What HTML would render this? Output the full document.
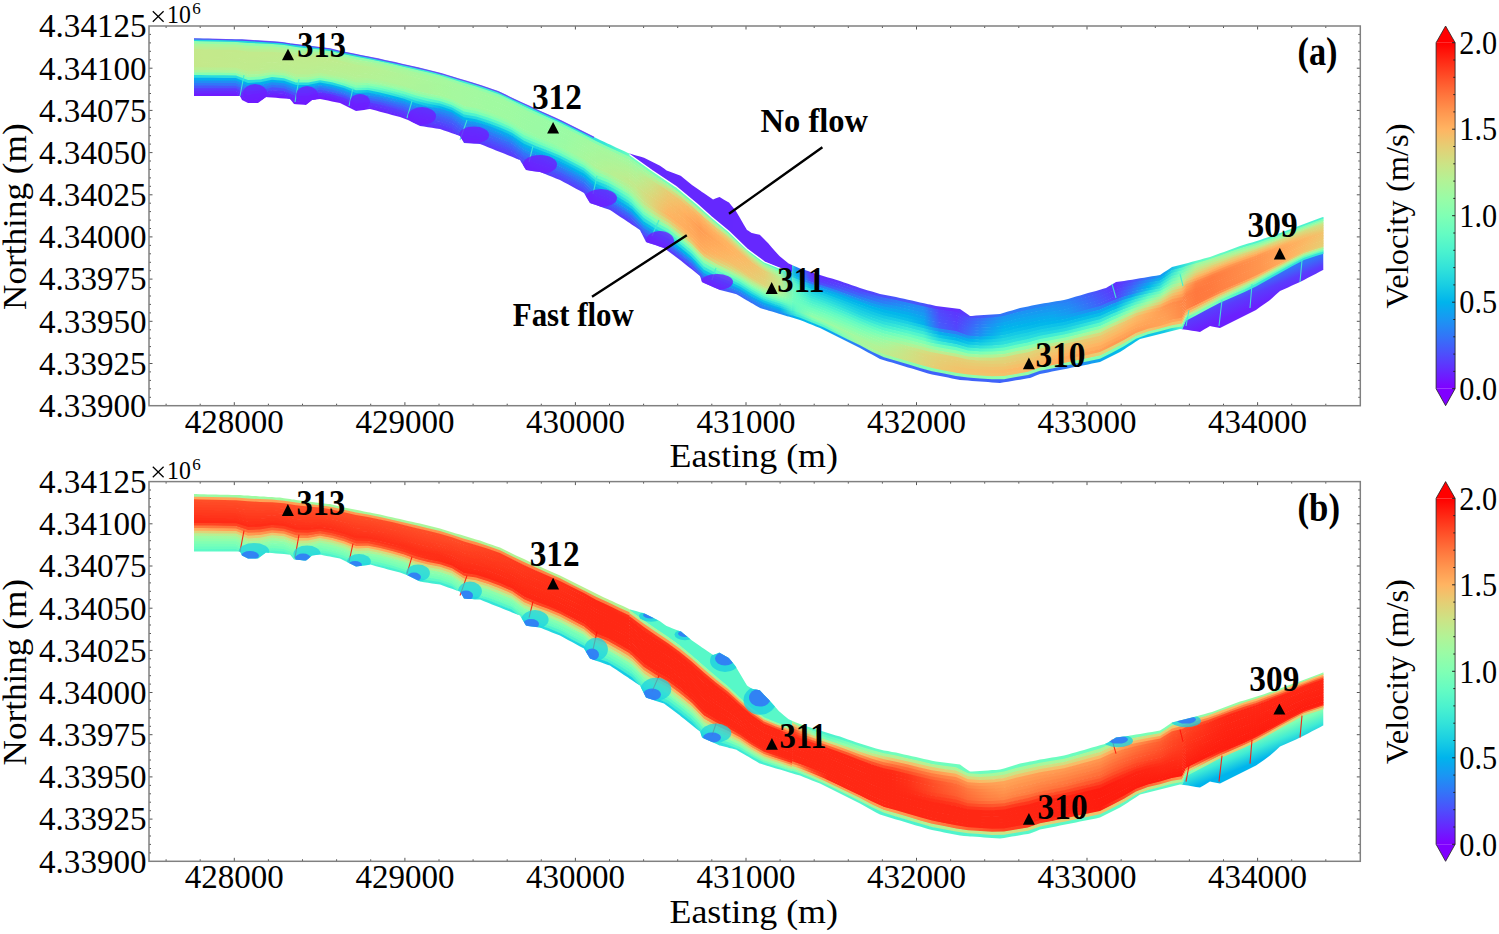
<!DOCTYPE html><html><head><meta charset="utf-8"><title>Velocity</title><style>
*{margin:0;padding:0}
html,body{width:1499px;height:934px;background:#fff;overflow:hidden}
svg{display:block}
text{font-family:"Liberation Serif",serif;fill:#000}
.tl{font-size:33px}
.ax{font-size:33px}
.cbl{font-size:32px}
.off{font-size:24.5px}
.sup{font-size:17px}
.pl{font-size:39px;font-weight:bold}
.st{font-size:35px;font-weight:bold}
.an{font-size:34px;font-weight:bold}
</style></head><body><svg width="1499" height="934" viewBox="0 0 1499 934"><defs><clipPath id="ca"><path d="M194,38.5 196,38.5 200,38.6 204,38.7 208,38.8 212,38.9 216,39 220,39.1 224,39.2 228,39.2 232,39.3 236,39.4 240,39.5 242,39.6 244,39.8 248,40 252,40.2 256,40.5 258,40.6 260,40.8 264,41 266,41.1 268,41.2 272,41.5 276,41.8 280,42 284,42.6 288,43.2 290,43.5 292,43.8 294,44 296,44.2 300,44.8 304,45.2 306,45.5 308,45.8 312,46.2 316,46.8 320,47.2 324,47.8 328,48.2 330,48.5 332,49 336,50 340,51 344,51.8 348,52.6 352,53.4 356,54.2 360,55 364,55.8 368,56.6 370,57 372,57.4 376,58.2 380,59 384,59.9 388,60.8 392,61.7 396,62.6 400,63.5 404,64.4 408,65.3 412,66.2 416,67.1 420,68 424,69 428,70 432,71 436,72 440,73 444,74.2 448,75.4 452,76.6 456,77.8 460,79 464,80.2 468,81.4 472,82.6 476,83.8 480,85 484,86.4 488,87.8 492,89.2 496,90.6 500,92 504,94 508,96 510,97 512,97.9 516,99.8 520,101.7 524,103.5 526,104.5 528,105.4 532,107.3 536,109.1 540,111 544,112.8 548,114.6 552,116.4 556,118.2 560,120 564,122 568,124 572,126 576,128 580,130 584,132 588,134 590,135 592,136 596,138 600,140 604,141.8 608,143.7 610,144.6 612,145.5 616,147.4 620,149.2 624,151 628,152.9 629.6,153.6 632,154.3 636,155.4 640,156.6 644,157.7 646,158.7 648,159.7 652,161.7 656,163.7 660,165.7 664,168.6 666.6,170.5 668,171 672,172.6 676,174.1 680,175.6 681,176 684,178.5 688,181.7 692,185 696,187.7 700,190.5 702,191.9 704,193.2 708,196 712,198.7 713,199.4 716,198.3 719.5,197 720,197.3 724,199.7 728,202 729,202.6 732,206.2 735.6,210.6 736,211.3 740,218.1 744,224.9 747,230 748,230.6 751.7,233 752,233.1 756,233.9 759.7,234.7 760,235 764,239.1 767.7,242.8 768,243.1 772,247.7 776,252.2 779,255.6 780,256.4 784,259.8 788,263.1 788.6,263.6 792,265.1 796,266.8 800,268.5 804,269.8 808,271.1 812,272.4 816,273.7 820,275 824,276.2 828,277.4 832,278.6 836,279.8 840,281 844,282.4 848,283.8 852,285.2 856,286.6 860,288 864,289.2 868,290.4 872,291.6 876,292.8 880,294 884,294.8 888,295.5 892,296.2 896,297 900,297.9 904,298.8 908,299.7 912,300.6 916,301.5 920,302.4 924,303.3 928,304.2 930,304.6 932,305.1 936,306 940,306.5 944,307 948,307.5 952,308 956,308.5 960,309 964,311.8 968,314.6 970,316 972,315.9 976,315.6 980,315.3 984,315.1 988,314.8 992,314.5 996,314.3 1000,314 1004,312.8 1008,311.6 1012,310.4 1016,309.2 1020,308 1024,307.2 1028,306.4 1030,306 1032,305.6 1036,304.8 1040,304 1044,303.3 1048,302.7 1052,302 1056,301.3 1060,300.7 1064,300 1068,298.9 1072,297.7 1076,296.6 1080,295.4 1084,294.3 1088,293.1 1092,292 1096,290.9 1100,289.7 1104,288.6 1106,288 1108,286.8 1112,284.4 1116,282 1120,281.4 1124,280.9 1128,280.3 1130,280 1132,279.7 1136,279 1140,278.3 1144,277.7 1148,277 1152,276.3 1156,275.7 1160,275 1164,272.3 1168,269.7 1172,267 1176,266 1180,265 1184,264 1188,262.9 1192,261.8 1196,260.8 1200,259.7 1204,258.6 1208,257.5 1210,257 1212,256.3 1216,254.8 1220,253.3 1224,251.9 1228,250.4 1232,248.9 1236,247.5 1240,246 1244,244.8 1248,243.6 1252,242.4 1256,241.2 1260,240 1264,238.6 1268,237.2 1270,236.5 1272,235.8 1276,234.4 1280,233 1284,231.5 1288,230 1292,228.5 1296,227 1300,225.6 1304,224.1 1308,222.6 1312,221.1 1316,219.6 1320,218.1 1323,217 1323.5,217 1323.5,270 1323,270 1320,271.6 1316,273.7 1312,275.7 1308,277.8 1304,279.9 1300,282 1296,283.8 1292,285.6 1288,287.4 1284,289.2 1280,291 1276,294.6 1272,298.2 1270,300 1268,301.4 1264,304.3 1260,307.1 1256,310 1252,312 1248,314 1244,316 1240,318 1236,320 1232,322 1228,324 1224,326 1220,328 1216,327.2 1212,326.4 1210,326 1208,327.2 1204,329.6 1200,332 1196,331.3 1192,330.7 1188,330 1184,329.5 1180,329 1176,330 1172,331 1168,332 1164,333 1160,334 1156,335 1152,336 1148,337 1144,338 1140,339 1136,341.6 1132,344.2 1130,345.5 1128,346.8 1124,349.4 1120,352 1116,354 1112,356 1108,358 1106,359 1104,360 1100,362 1096,362.8 1092,363.6 1088,364.4 1084,365.2 1080,366 1076,366.8 1072,367.6 1068,368.4 1064,369.2 1060,370 1056,370.8 1052,371.6 1048,372.4 1044,373.2 1040,374 1036,375.6 1032,377.2 1030,378 1028,378.3 1024,379 1020,379.7 1016,380.3 1012,381 1008,381.7 1004,382.3 1000,383 996,382.7 992,382.4 988,382.1 984,381.8 980,381.5 976,381.2 972,380.9 970,380.8 968,380.6 964,380.3 960,380 956,379.2 952,378.4 948,377.6 944,376.8 940,376 936,375.2 932,374.4 930,374 928,373.4 924,372.2 920,371 916,369.8 912,368.6 908,367.4 904,366.2 900,365 896,363.8 892,362.6 888,361.4 884,360.2 880,359 876,356.8 872,354.6 868,352.4 864,350.2 860,348 856,346 852,344 848,342 844,340 840,338 836,336 832,334 828,332 824,330 820,328 816,326.4 812,324.8 808,323.2 804,321.6 800,320 796,318.8 792,317.6 788.6,316.6 788,316.4 784,315.2 780,314 779,313.7 776,312.8 772,311.6 768,310.4 767.7,310.3 764,309.2 760,308 759.7,307.8 756,305.7 752,303.3 751.7,303.2 748,301 747,300.4 744,298.7 740,296.3 736,294 735.6,293.9 732,293 729,292.2 728,292 724,291 720,290 719.5,289.8 716,288.2 713,286.9 712,286.4 708,284.7 704,282.9 702,282 700,276 696,272.8 692,269.6 688,266.4 684,263.2 681,260.8 680,260 676,257 672,254 668,251 666.6,250 664,248 660,246.7 656,245.3 652,244 648,242.7 646,242 644,238 640,230 636,227.3 632,224.7 629.6,223.1 628,222 624,219.3 620,216.7 616,214 612,211.3 610,210 608,209.3 604,207.9 600,206.5 596,205.1 592,203.7 590,203 588,199.7 584,193 580,190.8 576,188.7 572,186.5 568,184.3 564,182.2 560,180 556,178.4 552,176.8 548,175.2 544,173.6 540,172 536,171.4 532,170.9 528,170.3 526,170 524,166.7 520,160 516,158.4 512,156.8 510,156 508,155.2 504,153.6 500,152 496,150.4 492,148.8 488,147.2 484,145.6 480,144 476,143.8 472,143.5 468,143.2 464,143 460,136 456,134.6 452,133.2 448,131.8 444,130.4 440,129 436,128.4 432,127.8 428,127.2 424,126.6 420,126 416,124 412,122 408,120 404,118.5 400,117 396,115.9 392,114.9 388,113.8 384,112.7 380,111.7 376,110.6 372,109.5 370,109 368,109.3 364,109.9 360,110.4 356,111 352,109 348,107 344,105 340,103 336,102.2 332,101.4 330,101 328,100.6 324,99.8 320,99 316,99.5 312,100 308,103.3 306,105 304,104.8 300,104.5 296,104.2 294,104 292,101.5 290,99 288,98.8 284,98.5 280,98.2 276,97.8 272,97.5 268,97.2 266,97 264,98.5 260,101.5 258,103 256,103 252,103 248,103 244,101 242,100 240,96 236,96 232,96 228,96 224,96 220,96 216,96 212,96 208,96 204,96 200,96 196,96 194,96Z"/></clipPath><linearGradient id="dzsa" gradientUnits="userSpaceOnUse" x1="1246" y1="286" x2="1254.5" y2="307"><stop offset="0" stop-color="#3374f8"/><stop offset="0.45" stop-color="#593cfd"/><stop offset="1" stop-color="#6b20fe"/></linearGradient><linearGradient id="a0" gradientUnits="userSpaceOnUse" x1="194" x2="1323.5" y1="0" y2="0"><stop offset="0.000" stop-color="#21d5e0"/><stop offset="0.108" stop-color="#21d5e0"/><stop offset="0.122" stop-color="#22d6e0"/><stop offset="0.136" stop-color="#26dade"/><stop offset="0.151" stop-color="#2bdddd"/><stop offset="0.165" stop-color="#30e1db"/><stop offset="0.179" stop-color="#34e4d9"/><stop offset="0.193" stop-color="#39e7d7"/><stop offset="0.207" stop-color="#3eead5"/><stop offset="0.221" stop-color="#42edd3"/><stop offset="0.236" stop-color="#42edd3"/><stop offset="0.250" stop-color="#3febd4"/><stop offset="0.264" stop-color="#3ce9d6"/><stop offset="0.278" stop-color="#39e7d7"/><stop offset="0.292" stop-color="#36e5d8"/><stop offset="0.306" stop-color="#33e3da"/><stop offset="0.320" stop-color="#30e1db"/><stop offset="0.335" stop-color="#2fe0db"/><stop offset="0.349" stop-color="#2fe0db"/><stop offset="0.363" stop-color="#36e6d8"/><stop offset="0.377" stop-color="#54f6cb"/><stop offset="0.387" stop-color="#6afdc0"/><stop offset="0.391" stop-color="#72febc"/><stop offset="0.405" stop-color="#78ffb9"/><stop offset="0.420" stop-color="#76ffba"/><stop offset="0.434" stop-color="#75feba"/><stop offset="0.448" stop-color="#73febb"/><stop offset="0.462" stop-color="#71febc"/><stop offset="0.476" stop-color="#6efebe"/><stop offset="0.490" stop-color="#6bfdbf"/><stop offset="0.505" stop-color="#65fbc3"/><stop offset="0.519" stop-color="#51f4cc"/><stop offset="0.528" stop-color="#44eed2"/><stop offset="0.533" stop-color="#218cf4"/><stop offset="0.547" stop-color="#642bfe"/><stop offset="0.561" stop-color="#6130fe"/><stop offset="0.575" stop-color="#5b39fd"/><stop offset="0.590" stop-color="#5542fd"/><stop offset="0.604" stop-color="#504afc"/><stop offset="0.618" stop-color="#4a52fc"/><stop offset="0.632" stop-color="#455afb"/><stop offset="0.646" stop-color="#4757fb"/><stop offset="0.660" stop-color="#5f33fe"/><stop offset="0.675" stop-color="#622ffe"/><stop offset="0.689" stop-color="#504afc"/><stop offset="0.703" stop-color="#3e63fa"/><stop offset="0.717" stop-color="#3077f7"/><stop offset="0.731" stop-color="#2d7df7"/><stop offset="0.745" stop-color="#2982f6"/><stop offset="0.760" stop-color="#2587f5"/><stop offset="0.774" stop-color="#2c7df7"/><stop offset="0.788" stop-color="#3d65fa"/><stop offset="0.802" stop-color="#4f4bfc"/><stop offset="0.816" stop-color="#6031fe"/><stop offset="0.830" stop-color="#4e4dfc"/><stop offset="0.845" stop-color="#2f7af7"/><stop offset="0.859" stop-color="#10a2f0"/><stop offset="0.873" stop-color="#27dade"/><stop offset="0.887" stop-color="#5ffac5"/><stop offset="0.901" stop-color="#67fcc1"/><stop offset="0.915" stop-color="#5efac6"/><stop offset="0.930" stop-color="#55f6ca"/><stop offset="0.944" stop-color="#4cf2cf"/><stop offset="1.000" stop-color="#4cf2cf"/></linearGradient><linearGradient id="a1" gradientUnits="userSpaceOnUse" x1="194" x2="1323.5" y1="0" y2="0"><stop offset="0.000" stop-color="#91feab"/><stop offset="0.108" stop-color="#91feab"/><stop offset="0.122" stop-color="#91feaa"/><stop offset="0.136" stop-color="#92fdaa"/><stop offset="0.151" stop-color="#92fdaa"/><stop offset="0.165" stop-color="#93fda9"/><stop offset="0.179" stop-color="#94fda9"/><stop offset="0.193" stop-color="#95fda8"/><stop offset="0.207" stop-color="#96fda8"/><stop offset="0.221" stop-color="#96fca7"/><stop offset="0.236" stop-color="#94fda8"/><stop offset="0.250" stop-color="#91feaa"/><stop offset="0.264" stop-color="#8dfead"/><stop offset="0.278" stop-color="#8affaf"/><stop offset="0.292" stop-color="#86ffb1"/><stop offset="0.306" stop-color="#82ffb3"/><stop offset="0.320" stop-color="#7fffb5"/><stop offset="0.335" stop-color="#80ffb4"/><stop offset="0.349" stop-color="#82ffb3"/><stop offset="0.363" stop-color="#86ffb1"/><stop offset="0.377" stop-color="#8ffeab"/><stop offset="0.391" stop-color="#98fca6"/><stop offset="0.405" stop-color="#a3f9a0"/><stop offset="0.420" stop-color="#adf599"/><stop offset="0.434" stop-color="#b5f194"/><stop offset="0.448" stop-color="#bded8f"/><stop offset="0.462" stop-color="#b6f194"/><stop offset="0.476" stop-color="#aff498"/><stop offset="0.490" stop-color="#a9f79c"/><stop offset="0.505" stop-color="#9bfba4"/><stop offset="0.519" stop-color="#7bffb7"/><stop offset="0.533" stop-color="#11a0f0"/><stop offset="0.547" stop-color="#6130fe"/><stop offset="0.561" stop-color="#5c38fd"/><stop offset="0.575" stop-color="#5345fd"/><stop offset="0.590" stop-color="#4a52fc"/><stop offset="0.604" stop-color="#3e65fa"/><stop offset="0.618" stop-color="#3078f7"/><stop offset="0.632" stop-color="#228af5"/><stop offset="0.646" stop-color="#2489f5"/><stop offset="0.660" stop-color="#5247fc"/><stop offset="0.675" stop-color="#5c37fe"/><stop offset="0.689" stop-color="#445cfb"/><stop offset="0.703" stop-color="#2b7ff6"/><stop offset="0.717" stop-color="#1997f2"/><stop offset="0.731" stop-color="#1a95f3"/><stop offset="0.745" stop-color="#1b93f3"/><stop offset="0.760" stop-color="#1d92f3"/><stop offset="0.774" stop-color="#2785f6"/><stop offset="0.788" stop-color="#396bf9"/><stop offset="0.802" stop-color="#4b51fc"/><stop offset="0.816" stop-color="#5d35fe"/><stop offset="0.830" stop-color="#4559fb"/><stop offset="0.845" stop-color="#1f8ef4"/><stop offset="0.859" stop-color="#07bce9"/><stop offset="0.873" stop-color="#51f4cc"/><stop offset="0.887" stop-color="#9dfba3"/><stop offset="0.901" stop-color="#a6f89e"/><stop offset="0.915" stop-color="#98fca6"/><stop offset="0.930" stop-color="#8bfeae"/><stop offset="0.944" stop-color="#7effb5"/><stop offset="1.000" stop-color="#7effb5"/></linearGradient><linearGradient id="a2" gradientUnits="userSpaceOnUse" x1="194" x2="1323.5" y1="0" y2="0"><stop offset="0.000" stop-color="#aef499"/><stop offset="0.009" stop-color="#aef599"/><stop offset="0.066" stop-color="#aef599"/><stop offset="0.080" stop-color="#adf599"/><stop offset="0.122" stop-color="#adf599"/><stop offset="0.136" stop-color="#acf69a"/><stop offset="0.151" stop-color="#abf69b"/><stop offset="0.165" stop-color="#aaf69b"/><stop offset="0.179" stop-color="#a9f79c"/><stop offset="0.193" stop-color="#a8f79c"/><stop offset="0.207" stop-color="#a7f79d"/><stop offset="0.221" stop-color="#a6f89e"/><stop offset="0.236" stop-color="#a5f89f"/><stop offset="0.250" stop-color="#a3f9a0"/><stop offset="0.264" stop-color="#a1faa1"/><stop offset="0.278" stop-color="#9ffaa2"/><stop offset="0.292" stop-color="#9dfba3"/><stop offset="0.306" stop-color="#9bfba4"/><stop offset="0.320" stop-color="#99fca5"/><stop offset="0.335" stop-color="#9dfba3"/><stop offset="0.349" stop-color="#a2f9a0"/><stop offset="0.363" stop-color="#a6f89e"/><stop offset="0.377" stop-color="#a5f89f"/><stop offset="0.391" stop-color="#a3f99f"/><stop offset="0.405" stop-color="#b6f193"/><stop offset="0.420" stop-color="#cfe183"/><stop offset="0.434" stop-color="#e3d075"/><stop offset="0.448" stop-color="#f7bd67"/><stop offset="0.462" stop-color="#e9cb71"/><stop offset="0.476" stop-color="#dcd77a"/><stop offset="0.490" stop-color="#cee184"/><stop offset="0.505" stop-color="#bcee90"/><stop offset="0.519" stop-color="#99fca6"/><stop offset="0.533" stop-color="#04afed"/><stop offset="0.547" stop-color="#5d35fe"/><stop offset="0.561" stop-color="#5640fd"/><stop offset="0.575" stop-color="#4a53fb"/><stop offset="0.590" stop-color="#3d65fa"/><stop offset="0.604" stop-color="#3176f8"/><stop offset="0.618" stop-color="#2586f5"/><stop offset="0.632" stop-color="#1a96f3"/><stop offset="0.646" stop-color="#1d91f3"/><stop offset="0.660" stop-color="#4f4cfc"/><stop offset="0.675" stop-color="#5a3afd"/><stop offset="0.689" stop-color="#3f62fa"/><stop offset="0.703" stop-color="#2587f5"/><stop offset="0.717" stop-color="#11a0f0"/><stop offset="0.731" stop-color="#139ef1"/><stop offset="0.745" stop-color="#159bf1"/><stop offset="0.760" stop-color="#1799f2"/><stop offset="0.774" stop-color="#218cf4"/><stop offset="0.788" stop-color="#3472f8"/><stop offset="0.802" stop-color="#4856fb"/><stop offset="0.816" stop-color="#5b39fd"/><stop offset="0.830" stop-color="#3d65fa"/><stop offset="0.845" stop-color="#10a2f0"/><stop offset="0.859" stop-color="#1ed2e2"/><stop offset="0.873" stop-color="#66fcc2"/><stop offset="0.887" stop-color="#b1f397"/><stop offset="0.901" stop-color="#bced90"/><stop offset="0.915" stop-color="#b2f396"/><stop offset="0.930" stop-color="#a9f79c"/><stop offset="0.944" stop-color="#9ffaa2"/><stop offset="0.972" stop-color="#9ffaa2"/><stop offset="0.986" stop-color="#9efaa2"/><stop offset="1.000" stop-color="#9efba3"/></linearGradient><linearGradient id="a3" gradientUnits="userSpaceOnUse" x1="194" x2="1323.5" y1="0" y2="0"><stop offset="0.000" stop-color="#baef91"/><stop offset="0.009" stop-color="#baef91"/><stop offset="0.023" stop-color="#b9ef92"/><stop offset="0.037" stop-color="#b9ef92"/><stop offset="0.051" stop-color="#b8ef92"/><stop offset="0.066" stop-color="#b8f092"/><stop offset="0.080" stop-color="#b8f093"/><stop offset="0.094" stop-color="#b7f093"/><stop offset="0.108" stop-color="#b7f093"/><stop offset="0.122" stop-color="#b6f193"/><stop offset="0.136" stop-color="#b4f295"/><stop offset="0.151" stop-color="#b2f396"/><stop offset="0.165" stop-color="#b0f498"/><stop offset="0.179" stop-color="#adf599"/><stop offset="0.193" stop-color="#abf69b"/><stop offset="0.207" stop-color="#a9f79c"/><stop offset="0.221" stop-color="#a7f89d"/><stop offset="0.236" stop-color="#a5f89f"/><stop offset="0.250" stop-color="#a3f9a0"/><stop offset="0.264" stop-color="#a1faa1"/><stop offset="0.278" stop-color="#9ffaa2"/><stop offset="0.292" stop-color="#9dfba3"/><stop offset="0.306" stop-color="#9bfba4"/><stop offset="0.320" stop-color="#99fca5"/><stop offset="0.335" stop-color="#9dfba3"/><stop offset="0.349" stop-color="#a3f99f"/><stop offset="0.363" stop-color="#a8f79c"/><stop offset="0.377" stop-color="#a9f79c"/><stop offset="0.391" stop-color="#abf69b"/><stop offset="0.405" stop-color="#c7e688"/><stop offset="0.420" stop-color="#e9cb72"/><stop offset="0.434" stop-color="#f6be68"/><stop offset="0.448" stop-color="#ffaf5e"/><stop offset="0.462" stop-color="#f9bb66"/><stop offset="0.476" stop-color="#efc66d"/><stop offset="0.490" stop-color="#e4cf75"/><stop offset="0.505" stop-color="#d2df81"/><stop offset="0.519" stop-color="#a9f79c"/><stop offset="0.533" stop-color="#02b6eb"/><stop offset="0.547" stop-color="#5542fd"/><stop offset="0.561" stop-color="#4954fb"/><stop offset="0.575" stop-color="#3a6af9"/><stop offset="0.590" stop-color="#2a80f6"/><stop offset="0.604" stop-color="#208df4"/><stop offset="0.618" stop-color="#1898f2"/><stop offset="0.632" stop-color="#10a2f0"/><stop offset="0.646" stop-color="#1799f2"/><stop offset="0.660" stop-color="#4b50fc"/><stop offset="0.675" stop-color="#583efd"/><stop offset="0.689" stop-color="#3b68f9"/><stop offset="0.703" stop-color="#1f8ff4"/><stop offset="0.717" stop-color="#0aa9ef"/><stop offset="0.731" stop-color="#0ca6ef"/><stop offset="0.745" stop-color="#0fa3f0"/><stop offset="0.760" stop-color="#11a1f0"/><stop offset="0.774" stop-color="#1c93f3"/><stop offset="0.788" stop-color="#3078f7"/><stop offset="0.802" stop-color="#445cfb"/><stop offset="0.816" stop-color="#583efd"/><stop offset="0.830" stop-color="#3571f8"/><stop offset="0.845" stop-color="#00b4ec"/><stop offset="0.859" stop-color="#34e4d9"/><stop offset="0.873" stop-color="#7bffb7"/><stop offset="0.887" stop-color="#c3e98b"/><stop offset="0.901" stop-color="#d1e082"/><stop offset="0.915" stop-color="#cbe486"/><stop offset="0.930" stop-color="#c6e789"/><stop offset="0.944" stop-color="#c0eb8d"/><stop offset="0.958" stop-color="#c0eb8d"/><stop offset="0.972" stop-color="#bfec8e"/><stop offset="0.986" stop-color="#beec8e"/><stop offset="1.000" stop-color="#bded8f"/></linearGradient><linearGradient id="a4" gradientUnits="userSpaceOnUse" x1="194" x2="1323.5" y1="0" y2="0"><stop offset="0.000" stop-color="#c4e88a"/><stop offset="0.009" stop-color="#c4e98b"/><stop offset="0.023" stop-color="#c3e98b"/><stop offset="0.037" stop-color="#c3e98b"/><stop offset="0.051" stop-color="#c2ea8c"/><stop offset="0.066" stop-color="#c2ea8c"/><stop offset="0.080" stop-color="#c1eb8d"/><stop offset="0.094" stop-color="#c0eb8d"/><stop offset="0.108" stop-color="#c0eb8d"/><stop offset="0.122" stop-color="#bfec8e"/><stop offset="0.136" stop-color="#bbee90"/><stop offset="0.151" stop-color="#b8f092"/><stop offset="0.165" stop-color="#b5f295"/><stop offset="0.179" stop-color="#b1f397"/><stop offset="0.193" stop-color="#aef599"/><stop offset="0.207" stop-color="#aaf69b"/><stop offset="0.221" stop-color="#a7f79d"/><stop offset="0.236" stop-color="#a5f89f"/><stop offset="0.250" stop-color="#a3f9a0"/><stop offset="0.264" stop-color="#a1faa1"/><stop offset="0.278" stop-color="#9ffaa2"/><stop offset="0.292" stop-color="#9dfba3"/><stop offset="0.306" stop-color="#9bfba4"/><stop offset="0.320" stop-color="#99fca5"/><stop offset="0.335" stop-color="#9efba3"/><stop offset="0.349" stop-color="#a5f89f"/><stop offset="0.363" stop-color="#aaf69b"/><stop offset="0.377" stop-color="#aef499"/><stop offset="0.391" stop-color="#b2f396"/><stop offset="0.405" stop-color="#cde284"/><stop offset="0.420" stop-color="#ecc86f"/><stop offset="0.434" stop-color="#fab965"/><stop offset="0.448" stop-color="#ffa95b"/><stop offset="0.462" stop-color="#ffb05f"/><stop offset="0.476" stop-color="#fdb763"/><stop offset="0.490" stop-color="#f7bd68"/><stop offset="0.505" stop-color="#e6ce73"/><stop offset="0.519" stop-color="#b7f093"/><stop offset="0.533" stop-color="#0cc1e8"/><stop offset="0.547" stop-color="#396bf9"/><stop offset="0.561" stop-color="#2488f5"/><stop offset="0.575" stop-color="#1d92f3"/><stop offset="0.590" stop-color="#159bf1"/><stop offset="0.604" stop-color="#10a2f0"/><stop offset="0.618" stop-color="#0ba8ef"/><stop offset="0.632" stop-color="#06aded"/><stop offset="0.646" stop-color="#10a1f0"/><stop offset="0.660" stop-color="#4855fb"/><stop offset="0.675" stop-color="#5542fd"/><stop offset="0.689" stop-color="#376ef9"/><stop offset="0.703" stop-color="#1997f2"/><stop offset="0.717" stop-color="#03b1ed"/><stop offset="0.731" stop-color="#06aeed"/><stop offset="0.745" stop-color="#08abee"/><stop offset="0.760" stop-color="#0ba8ef"/><stop offset="0.774" stop-color="#179af2"/><stop offset="0.788" stop-color="#2b7ef6"/><stop offset="0.802" stop-color="#4061fa"/><stop offset="0.816" stop-color="#5542fd"/><stop offset="0.830" stop-color="#2d7cf7"/><stop offset="0.845" stop-color="#0fc4e7"/><stop offset="0.859" stop-color="#4bf2cf"/><stop offset="0.873" stop-color="#90feab"/><stop offset="0.887" stop-color="#d5dd7f"/><stop offset="0.901" stop-color="#e5cf74"/><stop offset="0.915" stop-color="#e4d075"/><stop offset="0.930" stop-color="#e3d176"/><stop offset="0.944" stop-color="#e2d277"/><stop offset="0.958" stop-color="#ddd67a"/><stop offset="0.972" stop-color="#d8da7d"/><stop offset="0.986" stop-color="#d4dd80"/><stop offset="1.000" stop-color="#d0e183"/></linearGradient><linearGradient id="a5" gradientUnits="userSpaceOnUse" x1="194" x2="1323.5" y1="0" y2="0"><stop offset="0.000" stop-color="#c4e88a"/><stop offset="0.009" stop-color="#c4e98b"/><stop offset="0.023" stop-color="#c3e98b"/><stop offset="0.037" stop-color="#c2ea8c"/><stop offset="0.051" stop-color="#c2ea8c"/><stop offset="0.066" stop-color="#c1eb8d"/><stop offset="0.080" stop-color="#c0eb8d"/><stop offset="0.094" stop-color="#bfec8e"/><stop offset="0.108" stop-color="#bfec8e"/><stop offset="0.122" stop-color="#beed8f"/><stop offset="0.136" stop-color="#baee91"/><stop offset="0.151" stop-color="#b7f093"/><stop offset="0.165" stop-color="#b4f295"/><stop offset="0.179" stop-color="#b1f397"/><stop offset="0.193" stop-color="#adf599"/><stop offset="0.207" stop-color="#aaf69b"/><stop offset="0.221" stop-color="#a7f89d"/><stop offset="0.236" stop-color="#a5f89f"/><stop offset="0.250" stop-color="#a3f9a0"/><stop offset="0.264" stop-color="#a1faa1"/><stop offset="0.278" stop-color="#9ffaa2"/><stop offset="0.292" stop-color="#9dfba3"/><stop offset="0.306" stop-color="#9bfba4"/><stop offset="0.320" stop-color="#99fca5"/><stop offset="0.335" stop-color="#9efaa2"/><stop offset="0.349" stop-color="#a6f89e"/><stop offset="0.363" stop-color="#acf59a"/><stop offset="0.377" stop-color="#b1f397"/><stop offset="0.391" stop-color="#b6f193"/><stop offset="0.405" stop-color="#d1df82"/><stop offset="0.420" stop-color="#f0c56d"/><stop offset="0.434" stop-color="#ffb562"/><stop offset="0.448" stop-color="#ffa357"/><stop offset="0.462" stop-color="#ffad5d"/><stop offset="0.476" stop-color="#feb562"/><stop offset="0.490" stop-color="#f6be68"/><stop offset="0.505" stop-color="#e6ce73"/><stop offset="0.519" stop-color="#bfec8e"/><stop offset="0.533" stop-color="#33e3d9"/><stop offset="0.547" stop-color="#129ff1"/><stop offset="0.561" stop-color="#0ba7ef"/><stop offset="0.575" stop-color="#06aded"/><stop offset="0.590" stop-color="#01b3ec"/><stop offset="0.604" stop-color="#01b5eb"/><stop offset="0.618" stop-color="#02b7eb"/><stop offset="0.632" stop-color="#04b8ea"/><stop offset="0.646" stop-color="#0aa9ee"/><stop offset="0.660" stop-color="#455afb"/><stop offset="0.675" stop-color="#5345fd"/><stop offset="0.689" stop-color="#3374f8"/><stop offset="0.703" stop-color="#139ef1"/><stop offset="0.717" stop-color="#04b9ea"/><stop offset="0.731" stop-color="#01b5eb"/><stop offset="0.745" stop-color="#02b2ec"/><stop offset="0.760" stop-color="#05afed"/><stop offset="0.774" stop-color="#0da5ef"/><stop offset="0.788" stop-color="#1b94f3"/><stop offset="0.802" stop-color="#2882f6"/><stop offset="0.816" stop-color="#3670f8"/><stop offset="0.830" stop-color="#0fa3f0"/><stop offset="0.845" stop-color="#2adcdd"/><stop offset="0.859" stop-color="#62fbc4"/><stop offset="0.873" stop-color="#a4f89f"/><stop offset="0.887" stop-color="#e7cd73"/><stop offset="0.901" stop-color="#f7bd68"/><stop offset="0.915" stop-color="#f6be68"/><stop offset="0.930" stop-color="#f5bf69"/><stop offset="0.944" stop-color="#f4c069"/><stop offset="0.958" stop-color="#edc86f"/><stop offset="0.972" stop-color="#e5cf74"/><stop offset="0.986" stop-color="#ddd679"/><stop offset="1.000" stop-color="#d6db7e"/></linearGradient><linearGradient id="a6" gradientUnits="userSpaceOnUse" x1="194" x2="1323.5" y1="0" y2="0"><stop offset="0.000" stop-color="#c4e88a"/><stop offset="0.009" stop-color="#c4e98b"/><stop offset="0.023" stop-color="#c3e98b"/><stop offset="0.037" stop-color="#c2ea8c"/><stop offset="0.051" stop-color="#c1ea8c"/><stop offset="0.066" stop-color="#c0eb8d"/><stop offset="0.080" stop-color="#bfec8e"/><stop offset="0.094" stop-color="#beec8e"/><stop offset="0.108" stop-color="#beed8f"/><stop offset="0.122" stop-color="#bced90"/><stop offset="0.136" stop-color="#b9ef91"/><stop offset="0.151" stop-color="#b6f193"/><stop offset="0.165" stop-color="#b3f295"/><stop offset="0.179" stop-color="#b0f497"/><stop offset="0.193" stop-color="#adf599"/><stop offset="0.207" stop-color="#aaf69b"/><stop offset="0.221" stop-color="#a7f89d"/><stop offset="0.236" stop-color="#a5f89f"/><stop offset="0.250" stop-color="#a3f9a0"/><stop offset="0.264" stop-color="#a1faa1"/><stop offset="0.278" stop-color="#9ffaa2"/><stop offset="0.292" stop-color="#9dfba3"/><stop offset="0.306" stop-color="#9bfba4"/><stop offset="0.320" stop-color="#99fca5"/><stop offset="0.335" stop-color="#9ffaa2"/><stop offset="0.349" stop-color="#a7f89d"/><stop offset="0.363" stop-color="#aef498"/><stop offset="0.377" stop-color="#b5f295"/><stop offset="0.391" stop-color="#bbee91"/><stop offset="0.405" stop-color="#d5dc7f"/><stop offset="0.420" stop-color="#f3c16a"/><stop offset="0.434" stop-color="#ffb05f"/><stop offset="0.448" stop-color="#ff9d53"/><stop offset="0.462" stop-color="#ffa95a"/><stop offset="0.476" stop-color="#ffb461"/><stop offset="0.490" stop-color="#f6bf68"/><stop offset="0.505" stop-color="#e6ce73"/><stop offset="0.519" stop-color="#c6e889"/><stop offset="0.533" stop-color="#46efd1"/><stop offset="0.547" stop-color="#02b6eb"/><stop offset="0.561" stop-color="#05baea"/><stop offset="0.575" stop-color="#07bbea"/><stop offset="0.590" stop-color="#08bde9"/><stop offset="0.604" stop-color="#09bee9"/><stop offset="0.618" stop-color="#0abfe8"/><stop offset="0.632" stop-color="#0bc0e8"/><stop offset="0.646" stop-color="#04b0ed"/><stop offset="0.660" stop-color="#425efa"/><stop offset="0.675" stop-color="#5049fc"/><stop offset="0.689" stop-color="#2f7af7"/><stop offset="0.703" stop-color="#0da5ef"/><stop offset="0.717" stop-color="#0bc0e8"/><stop offset="0.731" stop-color="#08bde9"/><stop offset="0.745" stop-color="#04b9ea"/><stop offset="0.760" stop-color="#01b6eb"/><stop offset="0.774" stop-color="#03b1ec"/><stop offset="0.788" stop-color="#07acee"/><stop offset="0.802" stop-color="#0ca7ef"/><stop offset="0.816" stop-color="#10a1f0"/><stop offset="0.830" stop-color="#17cce4"/><stop offset="0.845" stop-color="#4cf2cf"/><stop offset="0.859" stop-color="#82ffb3"/><stop offset="0.873" stop-color="#beed8f"/><stop offset="0.887" stop-color="#faba65"/><stop offset="0.901" stop-color="#ffaa5b"/><stop offset="0.915" stop-color="#ffab5c"/><stop offset="0.930" stop-color="#ffad5d"/><stop offset="0.944" stop-color="#ffae5d"/><stop offset="0.958" stop-color="#fbb965"/><stop offset="0.972" stop-color="#f0c46c"/><stop offset="0.986" stop-color="#e6cd73"/><stop offset="1.000" stop-color="#ddd67a"/></linearGradient><linearGradient id="a7" gradientUnits="userSpaceOnUse" x1="194" x2="1323.5" y1="0" y2="0"><stop offset="0.000" stop-color="#c4e88a"/><stop offset="0.009" stop-color="#c4e98b"/><stop offset="0.023" stop-color="#c3e98b"/><stop offset="0.037" stop-color="#c2ea8c"/><stop offset="0.051" stop-color="#c1eb8d"/><stop offset="0.066" stop-color="#c0eb8d"/><stop offset="0.080" stop-color="#bfec8e"/><stop offset="0.094" stop-color="#beed8f"/><stop offset="0.108" stop-color="#bded8f"/><stop offset="0.122" stop-color="#bbee90"/><stop offset="0.136" stop-color="#b8f092"/><stop offset="0.151" stop-color="#b5f194"/><stop offset="0.165" stop-color="#b3f396"/><stop offset="0.179" stop-color="#b0f498"/><stop offset="0.193" stop-color="#adf59a"/><stop offset="0.207" stop-color="#aaf69b"/><stop offset="0.221" stop-color="#a7f89d"/><stop offset="0.236" stop-color="#a5f89f"/><stop offset="0.250" stop-color="#a3f9a0"/><stop offset="0.264" stop-color="#a1faa1"/><stop offset="0.278" stop-color="#9ffaa2"/><stop offset="0.292" stop-color="#9dfba3"/><stop offset="0.306" stop-color="#9bfba4"/><stop offset="0.320" stop-color="#99fca5"/><stop offset="0.335" stop-color="#9ffaa2"/><stop offset="0.349" stop-color="#a8f79c"/><stop offset="0.363" stop-color="#b0f497"/><stop offset="0.377" stop-color="#b8f093"/><stop offset="0.391" stop-color="#bfec8e"/><stop offset="0.405" stop-color="#d9d97c"/><stop offset="0.420" stop-color="#f6be68"/><stop offset="0.434" stop-color="#ffaf5e"/><stop offset="0.448" stop-color="#ff9f54"/><stop offset="0.462" stop-color="#ffab5b"/><stop offset="0.476" stop-color="#feb663"/><stop offset="0.490" stop-color="#f4c06a"/><stop offset="0.505" stop-color="#e4cf75"/><stop offset="0.519" stop-color="#c4e88a"/><stop offset="0.533" stop-color="#53f6cb"/><stop offset="0.547" stop-color="#16cbe5"/><stop offset="0.561" stop-color="#15cae5"/><stop offset="0.575" stop-color="#13c9e5"/><stop offset="0.590" stop-color="#12c7e6"/><stop offset="0.604" stop-color="#14c9e5"/><stop offset="0.618" stop-color="#18cde4"/><stop offset="0.632" stop-color="#1bd0e3"/><stop offset="0.646" stop-color="#12c7e6"/><stop offset="0.660" stop-color="#208df4"/><stop offset="0.675" stop-color="#2d7df7"/><stop offset="0.689" stop-color="#149df1"/><stop offset="0.703" stop-color="#05b9ea"/><stop offset="0.717" stop-color="#16cbe4"/><stop offset="0.731" stop-color="#13c8e6"/><stop offset="0.745" stop-color="#10c5e7"/><stop offset="0.760" stop-color="#0cc1e8"/><stop offset="0.774" stop-color="#0abfe9"/><stop offset="0.788" stop-color="#08bde9"/><stop offset="0.802" stop-color="#07bce9"/><stop offset="0.816" stop-color="#06bbea"/><stop offset="0.830" stop-color="#30e1db"/><stop offset="0.845" stop-color="#68fcc1"/><stop offset="0.859" stop-color="#a0faa1"/><stop offset="0.873" stop-color="#d7db7e"/><stop offset="0.887" stop-color="#ffa457"/><stop offset="0.901" stop-color="#ff944e"/><stop offset="0.915" stop-color="#ff964f"/><stop offset="0.930" stop-color="#ff9850"/><stop offset="0.944" stop-color="#ff9a51"/><stop offset="0.958" stop-color="#ffa95b"/><stop offset="0.972" stop-color="#fcb864"/><stop offset="0.986" stop-color="#efc56d"/><stop offset="1.000" stop-color="#e4d075"/></linearGradient><linearGradient id="a8" gradientUnits="userSpaceOnUse" x1="194" x2="1323.5" y1="0" y2="0"><stop offset="0.000" stop-color="#c4e88a"/><stop offset="0.009" stop-color="#c4e98b"/><stop offset="0.023" stop-color="#c2ea8c"/><stop offset="0.037" stop-color="#c1ea8c"/><stop offset="0.051" stop-color="#c0eb8d"/><stop offset="0.066" stop-color="#bfec8e"/><stop offset="0.080" stop-color="#beec8f"/><stop offset="0.094" stop-color="#bded8f"/><stop offset="0.108" stop-color="#bcee90"/><stop offset="0.122" stop-color="#baef91"/><stop offset="0.136" stop-color="#b7f093"/><stop offset="0.151" stop-color="#b5f195"/><stop offset="0.165" stop-color="#b2f396"/><stop offset="0.179" stop-color="#aff498"/><stop offset="0.193" stop-color="#acf59a"/><stop offset="0.207" stop-color="#aaf69c"/><stop offset="0.221" stop-color="#a7f89d"/><stop offset="0.236" stop-color="#a5f89f"/><stop offset="0.250" stop-color="#a3f9a0"/><stop offset="0.264" stop-color="#a1faa1"/><stop offset="0.278" stop-color="#9ffaa2"/><stop offset="0.292" stop-color="#9dfba3"/><stop offset="0.306" stop-color="#9bfba4"/><stop offset="0.320" stop-color="#99fca5"/><stop offset="0.335" stop-color="#a0faa1"/><stop offset="0.349" stop-color="#a9f79c"/><stop offset="0.363" stop-color="#b2f396"/><stop offset="0.377" stop-color="#bbee91"/><stop offset="0.391" stop-color="#c3e98b"/><stop offset="0.405" stop-color="#ddd67a"/><stop offset="0.420" stop-color="#f9bb66"/><stop offset="0.434" stop-color="#ffaf5e"/><stop offset="0.448" stop-color="#ffa256"/><stop offset="0.462" stop-color="#ffad5d"/><stop offset="0.476" stop-color="#fbb864"/><stop offset="0.490" stop-color="#f2c36b"/><stop offset="0.505" stop-color="#e2d176"/><stop offset="0.519" stop-color="#c2ea8c"/><stop offset="0.533" stop-color="#59f8c8"/><stop offset="0.547" stop-color="#22d6e0"/><stop offset="0.561" stop-color="#21d5e0"/><stop offset="0.575" stop-color="#1ed2e2"/><stop offset="0.590" stop-color="#1bd0e3"/><stop offset="0.604" stop-color="#1fd3e1"/><stop offset="0.618" stop-color="#26d9df"/><stop offset="0.632" stop-color="#2cdedc"/><stop offset="0.646" stop-color="#27dade"/><stop offset="0.660" stop-color="#05afed"/><stop offset="0.675" stop-color="#11a1f0"/><stop offset="0.689" stop-color="#02b6eb"/><stop offset="0.703" stop-color="#15cae5"/><stop offset="0.717" stop-color="#22d6e0"/><stop offset="0.731" stop-color="#1fd3e1"/><stop offset="0.745" stop-color="#1bd0e3"/><stop offset="0.760" stop-color="#18cde4"/><stop offset="0.774" stop-color="#17cce4"/><stop offset="0.788" stop-color="#1acee3"/><stop offset="0.802" stop-color="#1cd1e2"/><stop offset="0.816" stop-color="#1ed3e1"/><stop offset="0.830" stop-color="#4bf2cf"/><stop offset="0.845" stop-color="#85ffb1"/><stop offset="0.859" stop-color="#bfec8e"/><stop offset="0.873" stop-color="#f0c46c"/><stop offset="0.887" stop-color="#ff8b49"/><stop offset="0.901" stop-color="#ff8143"/><stop offset="0.915" stop-color="#ff8847"/><stop offset="0.930" stop-color="#ff8f4b"/><stop offset="0.944" stop-color="#ff964f"/><stop offset="0.958" stop-color="#ffa457"/><stop offset="0.972" stop-color="#ffb260"/><stop offset="0.986" stop-color="#f5bf69"/><stop offset="1.000" stop-color="#eaca70"/></linearGradient><linearGradient id="a9" gradientUnits="userSpaceOnUse" x1="194" x2="1323.5" y1="0" y2="0"><stop offset="0.000" stop-color="#c4e88a"/><stop offset="0.009" stop-color="#c4e98b"/><stop offset="0.023" stop-color="#c2ea8c"/><stop offset="0.037" stop-color="#c1eb8d"/><stop offset="0.051" stop-color="#c0eb8d"/><stop offset="0.066" stop-color="#beec8e"/><stop offset="0.080" stop-color="#bded8f"/><stop offset="0.094" stop-color="#bcee90"/><stop offset="0.108" stop-color="#baee91"/><stop offset="0.122" stop-color="#b9ef92"/><stop offset="0.136" stop-color="#b4f295"/><stop offset="0.151" stop-color="#aff498"/><stop offset="0.165" stop-color="#aaf69b"/><stop offset="0.179" stop-color="#a5f89e"/><stop offset="0.193" stop-color="#a0faa1"/><stop offset="0.207" stop-color="#9bfba4"/><stop offset="0.221" stop-color="#96fda7"/><stop offset="0.236" stop-color="#95fda8"/><stop offset="0.250" stop-color="#95fda8"/><stop offset="0.264" stop-color="#96fda7"/><stop offset="0.278" stop-color="#97fca7"/><stop offset="0.292" stop-color="#97fca7"/><stop offset="0.306" stop-color="#98fca6"/><stop offset="0.320" stop-color="#99fca6"/><stop offset="0.335" stop-color="#a0faa1"/><stop offset="0.349" stop-color="#aaf69b"/><stop offset="0.363" stop-color="#b4f295"/><stop offset="0.377" stop-color="#baef91"/><stop offset="0.391" stop-color="#c1eb8d"/><stop offset="0.405" stop-color="#ddd67a"/><stop offset="0.420" stop-color="#fcb864"/><stop offset="0.434" stop-color="#ffae5e"/><stop offset="0.448" stop-color="#ffa458"/><stop offset="0.462" stop-color="#ffb05f"/><stop offset="0.476" stop-color="#f9bb66"/><stop offset="0.490" stop-color="#f0c56d"/><stop offset="0.505" stop-color="#e0d377"/><stop offset="0.519" stop-color="#c0eb8d"/><stop offset="0.533" stop-color="#5efac6"/><stop offset="0.547" stop-color="#2ddfdc"/><stop offset="0.561" stop-color="#2cdedc"/><stop offset="0.575" stop-color="#28dbde"/><stop offset="0.590" stop-color="#24d7df"/><stop offset="0.604" stop-color="#2adddd"/><stop offset="0.618" stop-color="#34e4d9"/><stop offset="0.632" stop-color="#3eebd5"/><stop offset="0.646" stop-color="#3be9d6"/><stop offset="0.660" stop-color="#10c5e7"/><stop offset="0.675" stop-color="#02b7eb"/><stop offset="0.689" stop-color="#12c8e6"/><stop offset="0.703" stop-color="#22d6e0"/><stop offset="0.717" stop-color="#2edfdc"/><stop offset="0.731" stop-color="#2adddd"/><stop offset="0.745" stop-color="#27dade"/><stop offset="0.760" stop-color="#23d7e0"/><stop offset="0.774" stop-color="#26dade"/><stop offset="0.788" stop-color="#30e1db"/><stop offset="0.802" stop-color="#3ae8d7"/><stop offset="0.816" stop-color="#43eed3"/><stop offset="0.830" stop-color="#6efdbe"/><stop offset="0.845" stop-color="#a3f99f"/><stop offset="0.859" stop-color="#d9d97d"/><stop offset="0.873" stop-color="#ffb260"/><stop offset="0.887" stop-color="#ff8143"/><stop offset="0.901" stop-color="#ff7b3f"/><stop offset="0.915" stop-color="#ff8445"/><stop offset="0.930" stop-color="#ff8d4a"/><stop offset="0.944" stop-color="#ff964f"/><stop offset="0.958" stop-color="#ffa256"/><stop offset="0.972" stop-color="#ffae5e"/><stop offset="0.986" stop-color="#fab965"/><stop offset="1.000" stop-color="#f1c36c"/></linearGradient><linearGradient id="a10" gradientUnits="userSpaceOnUse" x1="194" x2="1323.5" y1="0" y2="0"><stop offset="0.000" stop-color="#c4e88a"/><stop offset="0.009" stop-color="#c3e98b"/><stop offset="0.023" stop-color="#c2ea8c"/><stop offset="0.037" stop-color="#c1eb8d"/><stop offset="0.051" stop-color="#bfec8e"/><stop offset="0.066" stop-color="#beec8f"/><stop offset="0.080" stop-color="#bced90"/><stop offset="0.094" stop-color="#bbee91"/><stop offset="0.108" stop-color="#b9ef91"/><stop offset="0.122" stop-color="#b7f093"/><stop offset="0.136" stop-color="#aef498"/><stop offset="0.151" stop-color="#a6f89e"/><stop offset="0.165" stop-color="#9dfba3"/><stop offset="0.179" stop-color="#95fda8"/><stop offset="0.193" stop-color="#8cfead"/><stop offset="0.207" stop-color="#83ffb2"/><stop offset="0.221" stop-color="#7bffb7"/><stop offset="0.236" stop-color="#79ffb8"/><stop offset="0.250" stop-color="#7dffb6"/><stop offset="0.264" stop-color="#80ffb4"/><stop offset="0.278" stop-color="#84ffb2"/><stop offset="0.292" stop-color="#87ffb0"/><stop offset="0.306" stop-color="#8afeae"/><stop offset="0.320" stop-color="#8efeac"/><stop offset="0.335" stop-color="#95fda8"/><stop offset="0.349" stop-color="#9efba3"/><stop offset="0.363" stop-color="#a7f79d"/><stop offset="0.377" stop-color="#b0f397"/><stop offset="0.391" stop-color="#baef91"/><stop offset="0.405" stop-color="#dcd77b"/><stop offset="0.420" stop-color="#feb562"/><stop offset="0.434" stop-color="#ffae5e"/><stop offset="0.448" stop-color="#ffa759"/><stop offset="0.462" stop-color="#ffb260"/><stop offset="0.476" stop-color="#f7bd67"/><stop offset="0.490" stop-color="#eec76e"/><stop offset="0.505" stop-color="#ded579"/><stop offset="0.519" stop-color="#beec8f"/><stop offset="0.533" stop-color="#63fbc4"/><stop offset="0.547" stop-color="#37e6d8"/><stop offset="0.561" stop-color="#38e7d7"/><stop offset="0.575" stop-color="#36e5d8"/><stop offset="0.590" stop-color="#33e3da"/><stop offset="0.604" stop-color="#3be9d6"/><stop offset="0.618" stop-color="#47f0d1"/><stop offset="0.632" stop-color="#53f6cb"/><stop offset="0.646" stop-color="#51f5cc"/><stop offset="0.660" stop-color="#25d9df"/><stop offset="0.675" stop-color="#18cde4"/><stop offset="0.689" stop-color="#29dcdd"/><stop offset="0.703" stop-color="#3be8d6"/><stop offset="0.717" stop-color="#47f0d1"/><stop offset="0.731" stop-color="#45eed2"/><stop offset="0.745" stop-color="#42edd3"/><stop offset="0.760" stop-color="#40ecd4"/><stop offset="0.774" stop-color="#45eed2"/><stop offset="0.788" stop-color="#51f5cc"/><stop offset="0.802" stop-color="#5df9c6"/><stop offset="0.816" stop-color="#69fdc0"/><stop offset="0.830" stop-color="#90feab"/><stop offset="0.845" stop-color="#c0eb8d"/><stop offset="0.859" stop-color="#f0c46c"/><stop offset="0.873" stop-color="#ffa356"/><stop offset="0.887" stop-color="#ff7e41"/><stop offset="0.901" stop-color="#ff7b3f"/><stop offset="0.915" stop-color="#ff8445"/><stop offset="0.930" stop-color="#ff8d4a"/><stop offset="0.944" stop-color="#ff964f"/><stop offset="0.958" stop-color="#ffa256"/><stop offset="0.972" stop-color="#ffae5e"/><stop offset="0.986" stop-color="#fab965"/><stop offset="1.000" stop-color="#f1c36c"/></linearGradient><linearGradient id="a11" gradientUnits="userSpaceOnUse" x1="194" x2="1323.5" y1="0" y2="0"><stop offset="0.000" stop-color="#bcee90"/><stop offset="0.009" stop-color="#bbee91"/><stop offset="0.023" stop-color="#b9ef92"/><stop offset="0.037" stop-color="#b8f093"/><stop offset="0.051" stop-color="#b6f194"/><stop offset="0.066" stop-color="#b5f194"/><stop offset="0.080" stop-color="#b3f295"/><stop offset="0.094" stop-color="#b2f396"/><stop offset="0.108" stop-color="#b0f497"/><stop offset="0.122" stop-color="#adf599"/><stop offset="0.136" stop-color="#9ffaa2"/><stop offset="0.151" stop-color="#91feaa"/><stop offset="0.165" stop-color="#83ffb3"/><stop offset="0.179" stop-color="#74feba"/><stop offset="0.193" stop-color="#66fcc2"/><stop offset="0.207" stop-color="#58f8c9"/><stop offset="0.221" stop-color="#4af1cf"/><stop offset="0.236" stop-color="#4af1d0"/><stop offset="0.250" stop-color="#52f5cc"/><stop offset="0.264" stop-color="#5af8c8"/><stop offset="0.278" stop-color="#62fbc4"/><stop offset="0.292" stop-color="#6bfdbf"/><stop offset="0.306" stop-color="#73febb"/><stop offset="0.320" stop-color="#7bffb7"/><stop offset="0.335" stop-color="#82ffb3"/><stop offset="0.349" stop-color="#89ffaf"/><stop offset="0.363" stop-color="#91fdaa"/><stop offset="0.377" stop-color="#a2f9a0"/><stop offset="0.391" stop-color="#b2f396"/><stop offset="0.405" stop-color="#d4de80"/><stop offset="0.420" stop-color="#f5bf69"/><stop offset="0.434" stop-color="#ffb562"/><stop offset="0.448" stop-color="#ffaa5b"/><stop offset="0.462" stop-color="#fbb864"/><stop offset="0.476" stop-color="#eec66d"/><stop offset="0.490" stop-color="#e2d276"/><stop offset="0.505" stop-color="#d1df82"/><stop offset="0.519" stop-color="#b7f093"/><stop offset="0.533" stop-color="#67fcc1"/><stop offset="0.547" stop-color="#42edd3"/><stop offset="0.561" stop-color="#45efd1"/><stop offset="0.575" stop-color="#45efd2"/><stop offset="0.590" stop-color="#45efd2"/><stop offset="0.604" stop-color="#4ff4cd"/><stop offset="0.618" stop-color="#5cf9c7"/><stop offset="0.632" stop-color="#69fdc0"/><stop offset="0.646" stop-color="#69fdc0"/><stop offset="0.660" stop-color="#44eed2"/><stop offset="0.675" stop-color="#3ae8d7"/><stop offset="0.689" stop-color="#4bf2cf"/><stop offset="0.703" stop-color="#5df9c6"/><stop offset="0.717" stop-color="#6afdc0"/><stop offset="0.731" stop-color="#69fdc0"/><stop offset="0.745" stop-color="#69fcc1"/><stop offset="0.760" stop-color="#68fcc1"/><stop offset="0.774" stop-color="#6dfdbe"/><stop offset="0.788" stop-color="#7affb7"/><stop offset="0.802" stop-color="#87ffb0"/><stop offset="0.816" stop-color="#94fda9"/><stop offset="0.830" stop-color="#b6f194"/><stop offset="0.845" stop-color="#dfd478"/><stop offset="0.859" stop-color="#ffaa5b"/><stop offset="0.873" stop-color="#ff924d"/><stop offset="0.887" stop-color="#ff7a3f"/><stop offset="0.901" stop-color="#ff7b3f"/><stop offset="0.915" stop-color="#ff8445"/><stop offset="0.930" stop-color="#ff8d4a"/><stop offset="0.944" stop-color="#ff964f"/><stop offset="0.958" stop-color="#ffa357"/><stop offset="0.972" stop-color="#ffaf5e"/><stop offset="0.986" stop-color="#f9bb66"/><stop offset="1.000" stop-color="#efc56d"/></linearGradient><linearGradient id="a12" gradientUnits="userSpaceOnUse" x1="194" x2="1323.5" y1="0" y2="0"><stop offset="0.000" stop-color="#aaf69b"/><stop offset="0.009" stop-color="#a9f79c"/><stop offset="0.023" stop-color="#a8f79d"/><stop offset="0.037" stop-color="#a6f89e"/><stop offset="0.051" stop-color="#a5f89e"/><stop offset="0.066" stop-color="#a3f99f"/><stop offset="0.080" stop-color="#a2f9a0"/><stop offset="0.094" stop-color="#a0faa1"/><stop offset="0.108" stop-color="#9ffaa2"/><stop offset="0.122" stop-color="#9bfba4"/><stop offset="0.136" stop-color="#8afeaf"/><stop offset="0.151" stop-color="#78ffb8"/><stop offset="0.165" stop-color="#67fcc2"/><stop offset="0.179" stop-color="#55f6ca"/><stop offset="0.193" stop-color="#43eed2"/><stop offset="0.207" stop-color="#32e2da"/><stop offset="0.221" stop-color="#20d4e1"/><stop offset="0.236" stop-color="#20d4e1"/><stop offset="0.250" stop-color="#2adcdd"/><stop offset="0.264" stop-color="#34e4d9"/><stop offset="0.278" stop-color="#3eebd5"/><stop offset="0.292" stop-color="#48f0d0"/><stop offset="0.306" stop-color="#52f5cc"/><stop offset="0.320" stop-color="#5cf9c7"/><stop offset="0.335" stop-color="#63fbc3"/><stop offset="0.349" stop-color="#69fdc0"/><stop offset="0.363" stop-color="#73febb"/><stop offset="0.377" stop-color="#8bfeae"/><stop offset="0.391" stop-color="#a2f9a0"/><stop offset="0.405" stop-color="#c1eb8d"/><stop offset="0.420" stop-color="#e0d378"/><stop offset="0.434" stop-color="#f3c16a"/><stop offset="0.448" stop-color="#ffad5d"/><stop offset="0.462" stop-color="#f2c26b"/><stop offset="0.476" stop-color="#dfd478"/><stop offset="0.490" stop-color="#cbe486"/><stop offset="0.505" stop-color="#b9ef92"/><stop offset="0.519" stop-color="#a9f79c"/><stop offset="0.533" stop-color="#6afdc0"/><stop offset="0.547" stop-color="#4df3ce"/><stop offset="0.561" stop-color="#52f5cc"/><stop offset="0.575" stop-color="#55f6ca"/><stop offset="0.590" stop-color="#58f7c9"/><stop offset="0.604" stop-color="#63fbc3"/><stop offset="0.618" stop-color="#71febc"/><stop offset="0.632" stop-color="#7fffb5"/><stop offset="0.646" stop-color="#83ffb2"/><stop offset="0.660" stop-color="#6bfdbf"/><stop offset="0.675" stop-color="#67fcc2"/><stop offset="0.689" stop-color="#76ffba"/><stop offset="0.703" stop-color="#84ffb2"/><stop offset="0.717" stop-color="#90feab"/><stop offset="0.731" stop-color="#91feab"/><stop offset="0.745" stop-color="#91fdaa"/><stop offset="0.760" stop-color="#92fdaa"/><stop offset="0.774" stop-color="#99fca6"/><stop offset="0.788" stop-color="#a6f89d"/><stop offset="0.802" stop-color="#b4f295"/><stop offset="0.816" stop-color="#c2ea8c"/><stop offset="0.830" stop-color="#dbd77b"/><stop offset="0.845" stop-color="#f9bb66"/><stop offset="0.859" stop-color="#ff9951"/><stop offset="0.873" stop-color="#ff8847"/><stop offset="0.887" stop-color="#ff783e"/><stop offset="0.901" stop-color="#ff7b3f"/><stop offset="0.915" stop-color="#ff8445"/><stop offset="0.930" stop-color="#ff8d4a"/><stop offset="0.944" stop-color="#ff964f"/><stop offset="0.958" stop-color="#ffa357"/><stop offset="0.972" stop-color="#ffb05f"/><stop offset="0.986" stop-color="#f8bc67"/><stop offset="1.000" stop-color="#eec66e"/></linearGradient><linearGradient id="a13" gradientUnits="userSpaceOnUse" x1="194" x2="1323.5" y1="0" y2="0"><stop offset="0.000" stop-color="#86ffb1"/><stop offset="0.009" stop-color="#85ffb1"/><stop offset="0.023" stop-color="#83ffb2"/><stop offset="0.037" stop-color="#82ffb3"/><stop offset="0.051" stop-color="#80ffb4"/><stop offset="0.066" stop-color="#7fffb5"/><stop offset="0.080" stop-color="#7dffb6"/><stop offset="0.094" stop-color="#7cffb6"/><stop offset="0.108" stop-color="#7affb7"/><stop offset="0.122" stop-color="#77ffb9"/><stop offset="0.136" stop-color="#66fcc2"/><stop offset="0.151" stop-color="#55f6ca"/><stop offset="0.165" stop-color="#44eed2"/><stop offset="0.179" stop-color="#33e3d9"/><stop offset="0.193" stop-color="#22d6e0"/><stop offset="0.207" stop-color="#12c7e6"/><stop offset="0.221" stop-color="#01b5eb"/><stop offset="0.236" stop-color="#01b3ec"/><stop offset="0.250" stop-color="#06bbea"/><stop offset="0.264" stop-color="#0dc2e7"/><stop offset="0.278" stop-color="#14cae5"/><stop offset="0.292" stop-color="#1cd0e2"/><stop offset="0.306" stop-color="#23d7e0"/><stop offset="0.320" stop-color="#2adcdd"/><stop offset="0.335" stop-color="#32e2da"/><stop offset="0.349" stop-color="#3ae8d6"/><stop offset="0.363" stop-color="#48f0d0"/><stop offset="0.377" stop-color="#67fcc2"/><stop offset="0.391" stop-color="#85ffb1"/><stop offset="0.405" stop-color="#a5f89f"/><stop offset="0.420" stop-color="#c3e98b"/><stop offset="0.434" stop-color="#dcd77a"/><stop offset="0.448" stop-color="#f5bf68"/><stop offset="0.462" stop-color="#dfd478"/><stop offset="0.476" stop-color="#c9e587"/><stop offset="0.490" stop-color="#b3f296"/><stop offset="0.505" stop-color="#a0faa2"/><stop offset="0.519" stop-color="#96fda7"/><stop offset="0.533" stop-color="#6afdc0"/><stop offset="0.547" stop-color="#58f7c9"/><stop offset="0.561" stop-color="#5ffac5"/><stop offset="0.575" stop-color="#64fbc3"/><stop offset="0.590" stop-color="#69fcc1"/><stop offset="0.604" stop-color="#75ffba"/><stop offset="0.618" stop-color="#85ffb1"/><stop offset="0.632" stop-color="#95fda8"/><stop offset="0.646" stop-color="#9efba3"/><stop offset="0.660" stop-color="#93fda9"/><stop offset="0.675" stop-color="#94fda9"/><stop offset="0.689" stop-color="#a1faa1"/><stop offset="0.703" stop-color="#aef498"/><stop offset="0.717" stop-color="#b9ef92"/><stop offset="0.731" stop-color="#bbee90"/><stop offset="0.745" stop-color="#bded8f"/><stop offset="0.760" stop-color="#bfec8e"/><stop offset="0.774" stop-color="#c6e889"/><stop offset="0.788" stop-color="#d0e082"/><stop offset="0.802" stop-color="#dbd87b"/><stop offset="0.816" stop-color="#e6ce74"/><stop offset="0.830" stop-color="#f4c069"/><stop offset="0.845" stop-color="#ffae5d"/><stop offset="0.859" stop-color="#ff9a51"/><stop offset="0.873" stop-color="#ff8a48"/><stop offset="0.887" stop-color="#ff783e"/><stop offset="0.901" stop-color="#ff7b3f"/><stop offset="0.915" stop-color="#ff8445"/><stop offset="0.930" stop-color="#ff8d4a"/><stop offset="0.944" stop-color="#ff964f"/><stop offset="0.958" stop-color="#ffa457"/><stop offset="0.972" stop-color="#ffb15f"/><stop offset="0.986" stop-color="#f7bd68"/><stop offset="1.000" stop-color="#ecc86f"/></linearGradient><linearGradient id="a14" gradientUnits="userSpaceOnUse" x1="194" x2="1323.5" y1="0" y2="0"><stop offset="0.000" stop-color="#28dbde"/><stop offset="0.108" stop-color="#28dbde"/><stop offset="0.122" stop-color="#27dade"/><stop offset="0.136" stop-color="#1dd2e2"/><stop offset="0.151" stop-color="#13c8e5"/><stop offset="0.165" stop-color="#0abfe9"/><stop offset="0.179" stop-color="#00b4ec"/><stop offset="0.193" stop-color="#0aa9ee"/><stop offset="0.207" stop-color="#149df1"/><stop offset="0.221" stop-color="#1d91f3"/><stop offset="0.236" stop-color="#1d92f3"/><stop offset="0.250" stop-color="#169af2"/><stop offset="0.264" stop-color="#0fa3f0"/><stop offset="0.278" stop-color="#09aaee"/><stop offset="0.292" stop-color="#02b2ec"/><stop offset="0.306" stop-color="#05baea"/><stop offset="0.320" stop-color="#0bc1e8"/><stop offset="0.335" stop-color="#12c7e6"/><stop offset="0.349" stop-color="#18cde4"/><stop offset="0.363" stop-color="#25d8df"/><stop offset="0.377" stop-color="#47f0d1"/><stop offset="0.391" stop-color="#6afdc0"/><stop offset="0.405" stop-color="#80ffb4"/><stop offset="0.420" stop-color="#94fda8"/><stop offset="0.434" stop-color="#adf59a"/><stop offset="0.448" stop-color="#c5e88a"/><stop offset="0.462" stop-color="#b4f295"/><stop offset="0.476" stop-color="#a3f99f"/><stop offset="0.490" stop-color="#93fda9"/><stop offset="0.505" stop-color="#85ffb1"/><stop offset="0.519" stop-color="#82ffb3"/><stop offset="0.533" stop-color="#6afdc0"/><stop offset="0.547" stop-color="#63fbc3"/><stop offset="0.561" stop-color="#6bfdbf"/><stop offset="0.575" stop-color="#70febd"/><stop offset="0.590" stop-color="#75feba"/><stop offset="0.604" stop-color="#85ffb2"/><stop offset="0.618" stop-color="#97fca7"/><stop offset="0.632" stop-color="#aaf69b"/><stop offset="0.646" stop-color="#b9ef92"/><stop offset="0.660" stop-color="#bbee91"/><stop offset="0.675" stop-color="#c0eb8d"/><stop offset="0.689" stop-color="#cae587"/><stop offset="0.703" stop-color="#d3de80"/><stop offset="0.717" stop-color="#dbd77b"/><stop offset="0.731" stop-color="#ded579"/><stop offset="0.745" stop-color="#e2d276"/><stop offset="0.760" stop-color="#e5cf74"/><stop offset="0.774" stop-color="#e8cc72"/><stop offset="0.788" stop-color="#ebc970"/><stop offset="0.802" stop-color="#eec66e"/><stop offset="0.816" stop-color="#f1c36c"/><stop offset="0.830" stop-color="#fbb965"/><stop offset="0.845" stop-color="#ffab5c"/><stop offset="0.859" stop-color="#ff9c53"/><stop offset="0.873" stop-color="#ff8b48"/><stop offset="0.887" stop-color="#ff783e"/><stop offset="0.901" stop-color="#ff7b3f"/><stop offset="0.915" stop-color="#ff8445"/><stop offset="0.930" stop-color="#ff8d4a"/><stop offset="0.944" stop-color="#ff964f"/><stop offset="0.958" stop-color="#ffa457"/><stop offset="0.972" stop-color="#ffb260"/><stop offset="0.986" stop-color="#f5bf68"/><stop offset="1.000" stop-color="#eaca70"/></linearGradient><linearGradient id="a15" gradientUnits="userSpaceOnUse" x1="194" x2="1323.5" y1="0" y2="0"><stop offset="0.000" stop-color="#05aeed"/><stop offset="0.108" stop-color="#05aeed"/><stop offset="0.122" stop-color="#06aeed"/><stop offset="0.136" stop-color="#0ba7ef"/><stop offset="0.151" stop-color="#10a1f0"/><stop offset="0.165" stop-color="#169bf2"/><stop offset="0.179" stop-color="#1b94f3"/><stop offset="0.193" stop-color="#208df4"/><stop offset="0.207" stop-color="#2586f5"/><stop offset="0.221" stop-color="#2b7ff6"/><stop offset="0.236" stop-color="#2982f6"/><stop offset="0.250" stop-color="#2389f5"/><stop offset="0.264" stop-color="#1e90f4"/><stop offset="0.278" stop-color="#1897f2"/><stop offset="0.292" stop-color="#139ef1"/><stop offset="0.306" stop-color="#0da5ef"/><stop offset="0.320" stop-color="#08acee"/><stop offset="0.335" stop-color="#03b1ed"/><stop offset="0.349" stop-color="#01b5eb"/><stop offset="0.363" stop-color="#0cc1e8"/><stop offset="0.377" stop-color="#2adcdd"/><stop offset="0.391" stop-color="#48f0d0"/><stop offset="0.405" stop-color="#59f8c9"/><stop offset="0.420" stop-color="#66fcc2"/><stop offset="0.434" stop-color="#7dffb6"/><stop offset="0.448" stop-color="#94fda8"/><stop offset="0.462" stop-color="#88ffaf"/><stop offset="0.476" stop-color="#7cffb6"/><stop offset="0.490" stop-color="#70febd"/><stop offset="0.505" stop-color="#68fcc1"/><stop offset="0.519" stop-color="#6dfdbe"/><stop offset="0.533" stop-color="#6bfdbf"/><stop offset="0.547" stop-color="#6ffebd"/><stop offset="0.561" stop-color="#77ffb9"/><stop offset="0.575" stop-color="#7cffb6"/><stop offset="0.590" stop-color="#82ffb3"/><stop offset="0.604" stop-color="#94fda9"/><stop offset="0.618" stop-color="#aaf69b"/><stop offset="0.632" stop-color="#c0eb8d"/><stop offset="0.646" stop-color="#d4de80"/><stop offset="0.660" stop-color="#e0d478"/><stop offset="0.675" stop-color="#e5cf74"/><stop offset="0.689" stop-color="#e4d075"/><stop offset="0.703" stop-color="#e3d176"/><stop offset="0.717" stop-color="#e3d176"/><stop offset="0.731" stop-color="#e6ce74"/><stop offset="0.745" stop-color="#e9cb71"/><stop offset="0.760" stop-color="#ecc86f"/><stop offset="0.774" stop-color="#f0c56d"/><stop offset="0.788" stop-color="#f3c16a"/><stop offset="0.802" stop-color="#f6be68"/><stop offset="0.816" stop-color="#faba65"/><stop offset="0.830" stop-color="#ffb260"/><stop offset="0.845" stop-color="#ffa85a"/><stop offset="0.859" stop-color="#ff9e54"/><stop offset="0.873" stop-color="#ff8c49"/><stop offset="0.887" stop-color="#ff793e"/><stop offset="0.901" stop-color="#ff7b3f"/><stop offset="0.915" stop-color="#ff8445"/><stop offset="0.930" stop-color="#ff8d4a"/><stop offset="0.944" stop-color="#ff964f"/><stop offset="0.958" stop-color="#ffa558"/><stop offset="0.972" stop-color="#ffb361"/><stop offset="0.986" stop-color="#f4c069"/><stop offset="1.000" stop-color="#e9cb71"/></linearGradient><linearGradient id="a16" gradientUnits="userSpaceOnUse" x1="194" x2="1323.5" y1="0" y2="0"><stop offset="0.000" stop-color="#208ef4"/><stop offset="0.009" stop-color="#208df4"/><stop offset="0.037" stop-color="#208df4"/><stop offset="0.051" stop-color="#218df4"/><stop offset="0.066" stop-color="#218cf4"/><stop offset="0.094" stop-color="#218cf4"/><stop offset="0.108" stop-color="#228bf4"/><stop offset="0.122" stop-color="#228bf5"/><stop offset="0.136" stop-color="#2587f5"/><stop offset="0.151" stop-color="#2883f6"/><stop offset="0.165" stop-color="#2b7ff6"/><stop offset="0.179" stop-color="#2e7bf7"/><stop offset="0.193" stop-color="#3177f8"/><stop offset="0.207" stop-color="#3472f8"/><stop offset="0.221" stop-color="#376ef9"/><stop offset="0.236" stop-color="#3571f8"/><stop offset="0.250" stop-color="#3177f8"/><stop offset="0.264" stop-color="#2c7df7"/><stop offset="0.278" stop-color="#2883f6"/><stop offset="0.292" stop-color="#2489f5"/><stop offset="0.306" stop-color="#1f8ff4"/><stop offset="0.320" stop-color="#1b94f3"/><stop offset="0.335" stop-color="#1898f2"/><stop offset="0.349" stop-color="#169bf2"/><stop offset="0.363" stop-color="#0ea4f0"/><stop offset="0.377" stop-color="#0abfe9"/><stop offset="0.391" stop-color="#22d5e0"/><stop offset="0.405" stop-color="#30e1db"/><stop offset="0.420" stop-color="#3dead5"/><stop offset="0.434" stop-color="#52f5cc"/><stop offset="0.448" stop-color="#66fcc2"/><stop offset="0.462" stop-color="#5efac6"/><stop offset="0.476" stop-color="#56f7ca"/><stop offset="0.490" stop-color="#4ef3ce"/><stop offset="0.505" stop-color="#4af1cf"/><stop offset="0.519" stop-color="#51f4cc"/><stop offset="0.533" stop-color="#67fcc1"/><stop offset="0.547" stop-color="#7affb7"/><stop offset="0.561" stop-color="#82ffb3"/><stop offset="0.575" stop-color="#88ffaf"/><stop offset="0.590" stop-color="#8efeac"/><stop offset="0.604" stop-color="#9ffaa2"/><stop offset="0.618" stop-color="#b4f295"/><stop offset="0.632" stop-color="#c9e587"/><stop offset="0.646" stop-color="#dbd87b"/><stop offset="0.660" stop-color="#e4d075"/><stop offset="0.675" stop-color="#e9cb71"/><stop offset="0.703" stop-color="#e9cb71"/><stop offset="0.717" stop-color="#eaca71"/><stop offset="0.731" stop-color="#edc76e"/><stop offset="0.745" stop-color="#f0c46c"/><stop offset="0.760" stop-color="#f3c16a"/><stop offset="0.774" stop-color="#f7bd67"/><stop offset="0.788" stop-color="#fbb965"/><stop offset="0.802" stop-color="#ffb462"/><stop offset="0.816" stop-color="#ffb05f"/><stop offset="0.830" stop-color="#ffab5b"/><stop offset="0.845" stop-color="#ffa558"/><stop offset="0.859" stop-color="#ffa055"/><stop offset="0.873" stop-color="#ff8d4a"/><stop offset="0.887" stop-color="#ff793e"/><stop offset="0.901" stop-color="#ff7b3f"/><stop offset="0.915" stop-color="#ff8445"/><stop offset="0.930" stop-color="#ff8d4a"/><stop offset="0.944" stop-color="#ff964f"/><stop offset="0.958" stop-color="#ffa558"/><stop offset="0.972" stop-color="#ffb461"/><stop offset="0.986" stop-color="#f3c16a"/><stop offset="1.000" stop-color="#e7cd73"/></linearGradient><linearGradient id="a17" gradientUnits="userSpaceOnUse" x1="194" x2="1323.5" y1="0" y2="0"><stop offset="0.000" stop-color="#3176f8"/><stop offset="0.009" stop-color="#3276f8"/><stop offset="0.023" stop-color="#3275f8"/><stop offset="0.037" stop-color="#3374f8"/><stop offset="0.051" stop-color="#3373f8"/><stop offset="0.066" stop-color="#3473f8"/><stop offset="0.080" stop-color="#3472f8"/><stop offset="0.094" stop-color="#3571f8"/><stop offset="0.108" stop-color="#3670f8"/><stop offset="0.122" stop-color="#366ff9"/><stop offset="0.136" stop-color="#386df9"/><stop offset="0.151" stop-color="#396bf9"/><stop offset="0.165" stop-color="#3b68f9"/><stop offset="0.179" stop-color="#3d66fa"/><stop offset="0.193" stop-color="#3e64fa"/><stop offset="0.207" stop-color="#4061fa"/><stop offset="0.221" stop-color="#415ffa"/><stop offset="0.236" stop-color="#4061fa"/><stop offset="0.250" stop-color="#3c66fa"/><stop offset="0.264" stop-color="#396bf9"/><stop offset="0.278" stop-color="#3670f8"/><stop offset="0.292" stop-color="#3275f8"/><stop offset="0.306" stop-color="#2f7af7"/><stop offset="0.320" stop-color="#2b7ef6"/><stop offset="0.335" stop-color="#2982f6"/><stop offset="0.349" stop-color="#2785f5"/><stop offset="0.363" stop-color="#218cf4"/><stop offset="0.377" stop-color="#11a1f0"/><stop offset="0.391" stop-color="#01b3ec"/><stop offset="0.405" stop-color="#0abfe9"/><stop offset="0.420" stop-color="#14c9e5"/><stop offset="0.434" stop-color="#26d9df"/><stop offset="0.448" stop-color="#38e6d7"/><stop offset="0.462" stop-color="#34e4d9"/><stop offset="0.476" stop-color="#30e1db"/><stop offset="0.490" stop-color="#2cdedc"/><stop offset="0.505" stop-color="#2cdedc"/><stop offset="0.519" stop-color="#34e4d9"/><stop offset="0.533" stop-color="#63fbc3"/><stop offset="0.547" stop-color="#86ffb1"/><stop offset="0.561" stop-color="#8efeac"/><stop offset="0.575" stop-color="#94fda8"/><stop offset="0.590" stop-color="#9bfba5"/><stop offset="0.604" stop-color="#a9f79c"/><stop offset="0.618" stop-color="#baee91"/><stop offset="0.632" stop-color="#cce385"/><stop offset="0.646" stop-color="#dbd77b"/><stop offset="0.660" stop-color="#e6ce73"/><stop offset="0.675" stop-color="#ecc86f"/><stop offset="0.689" stop-color="#eec66e"/><stop offset="0.703" stop-color="#f0c46d"/><stop offset="0.717" stop-color="#f2c36b"/><stop offset="0.731" stop-color="#f5c069"/><stop offset="0.745" stop-color="#f7bd67"/><stop offset="0.760" stop-color="#fab965"/><stop offset="0.774" stop-color="#feb562"/><stop offset="0.788" stop-color="#ffb05f"/><stop offset="0.802" stop-color="#ffab5b"/><stop offset="0.816" stop-color="#ffa558"/><stop offset="0.830" stop-color="#ffa357"/><stop offset="0.845" stop-color="#ffa256"/><stop offset="0.859" stop-color="#ffa256"/><stop offset="0.873" stop-color="#ff8f4b"/><stop offset="0.887" stop-color="#ff793f"/><stop offset="0.901" stop-color="#ff8244"/><stop offset="0.915" stop-color="#ff954e"/><stop offset="0.930" stop-color="#ffa658"/><stop offset="0.944" stop-color="#fdb663"/><stop offset="0.958" stop-color="#f7bd67"/><stop offset="0.972" stop-color="#f1c36b"/><stop offset="0.986" stop-color="#ebc970"/><stop offset="1.000" stop-color="#e6ce74"/></linearGradient><linearGradient id="a18" gradientUnits="userSpaceOnUse" x1="194" x2="1323.5" y1="0" y2="0"><stop offset="0.000" stop-color="#4758fb"/><stop offset="0.009" stop-color="#4757fb"/><stop offset="0.023" stop-color="#4856fb"/><stop offset="0.037" stop-color="#4955fb"/><stop offset="0.051" stop-color="#4954fb"/><stop offset="0.066" stop-color="#4a52fc"/><stop offset="0.080" stop-color="#4b51fc"/><stop offset="0.094" stop-color="#4c50fc"/><stop offset="0.108" stop-color="#4c4ffc"/><stop offset="0.122" stop-color="#4d4efc"/><stop offset="0.136" stop-color="#4c4ffc"/><stop offset="0.151" stop-color="#4c50fc"/><stop offset="0.165" stop-color="#4b51fc"/><stop offset="0.179" stop-color="#4b52fc"/><stop offset="0.193" stop-color="#4a52fc"/><stop offset="0.207" stop-color="#4a53fb"/><stop offset="0.221" stop-color="#4954fb"/><stop offset="0.236" stop-color="#4757fb"/><stop offset="0.250" stop-color="#455afb"/><stop offset="0.264" stop-color="#425efa"/><stop offset="0.278" stop-color="#3f62fa"/><stop offset="0.292" stop-color="#3d66fa"/><stop offset="0.306" stop-color="#3a69f9"/><stop offset="0.320" stop-color="#386df9"/><stop offset="0.335" stop-color="#3670f8"/><stop offset="0.349" stop-color="#3472f8"/><stop offset="0.363" stop-color="#3177f8"/><stop offset="0.377" stop-color="#2785f6"/><stop offset="0.391" stop-color="#1d92f3"/><stop offset="0.405" stop-color="#149df1"/><stop offset="0.420" stop-color="#0ba7ef"/><stop offset="0.434" stop-color="#00b5eb"/><stop offset="0.448" stop-color="#0cc1e8"/><stop offset="0.490" stop-color="#0cc1e8"/><stop offset="0.505" stop-color="#0fc4e7"/><stop offset="0.519" stop-color="#19cee4"/><stop offset="0.533" stop-color="#5ffac5"/><stop offset="0.547" stop-color="#92fdaa"/><stop offset="0.561" stop-color="#9afca5"/><stop offset="0.575" stop-color="#a0faa2"/><stop offset="0.590" stop-color="#a6f89e"/><stop offset="0.604" stop-color="#b2f396"/><stop offset="0.618" stop-color="#c0eb8d"/><stop offset="0.632" stop-color="#cee284"/><stop offset="0.646" stop-color="#dcd77a"/><stop offset="0.660" stop-color="#e8cc72"/><stop offset="0.675" stop-color="#f0c46c"/><stop offset="0.689" stop-color="#f3c16a"/><stop offset="0.703" stop-color="#f6be68"/><stop offset="0.717" stop-color="#f9bb66"/><stop offset="0.731" stop-color="#fcb864"/><stop offset="0.745" stop-color="#ffb562"/><stop offset="0.760" stop-color="#ffb260"/><stop offset="0.774" stop-color="#ffad5d"/><stop offset="0.788" stop-color="#ffa759"/><stop offset="0.802" stop-color="#ffa055"/><stop offset="0.816" stop-color="#ff9a51"/><stop offset="0.830" stop-color="#ff9b52"/><stop offset="0.845" stop-color="#ff9f55"/><stop offset="0.859" stop-color="#ffa457"/><stop offset="0.873" stop-color="#ffa357"/><stop offset="0.887" stop-color="#ffa256"/><stop offset="0.901" stop-color="#ffb15f"/><stop offset="0.915" stop-color="#f0c46c"/><stop offset="0.930" stop-color="#dfd478"/><stop offset="0.944" stop-color="#cde284"/><stop offset="0.958" stop-color="#cae587"/><stop offset="0.972" stop-color="#c6e789"/><stop offset="0.986" stop-color="#c3e98b"/><stop offset="1.000" stop-color="#c0eb8d"/></linearGradient><linearGradient id="a19" gradientUnits="userSpaceOnUse" x1="194" x2="1323.5" y1="0" y2="0"><stop offset="0.000" stop-color="#5b39fd"/><stop offset="0.009" stop-color="#5b39fd"/><stop offset="0.023" stop-color="#5c37fd"/><stop offset="0.037" stop-color="#5d36fe"/><stop offset="0.051" stop-color="#5e35fe"/><stop offset="0.066" stop-color="#5f33fe"/><stop offset="0.080" stop-color="#5f32fe"/><stop offset="0.094" stop-color="#6031fe"/><stop offset="0.108" stop-color="#612ffe"/><stop offset="0.122" stop-color="#622ffe"/><stop offset="0.136" stop-color="#5f33fe"/><stop offset="0.151" stop-color="#5d36fe"/><stop offset="0.165" stop-color="#5a3afd"/><stop offset="0.179" stop-color="#583efd"/><stop offset="0.193" stop-color="#5541fd"/><stop offset="0.207" stop-color="#5345fd"/><stop offset="0.221" stop-color="#5049fc"/><stop offset="0.236" stop-color="#4e4cfc"/><stop offset="0.250" stop-color="#4d4efc"/><stop offset="0.264" stop-color="#4b51fc"/><stop offset="0.278" stop-color="#4954fb"/><stop offset="0.292" stop-color="#4856fb"/><stop offset="0.306" stop-color="#4659fb"/><stop offset="0.320" stop-color="#445bfb"/><stop offset="0.335" stop-color="#435dfb"/><stop offset="0.349" stop-color="#425ffa"/><stop offset="0.363" stop-color="#4061fa"/><stop offset="0.377" stop-color="#3b68f9"/><stop offset="0.391" stop-color="#376ff9"/><stop offset="0.405" stop-color="#3078f7"/><stop offset="0.420" stop-color="#2981f6"/><stop offset="0.434" stop-color="#2489f5"/><stop offset="0.448" stop-color="#1e90f4"/><stop offset="0.462" stop-color="#1b95f3"/><stop offset="0.476" stop-color="#1799f2"/><stop offset="0.490" stop-color="#139df1"/><stop offset="0.505" stop-color="#0da5ef"/><stop offset="0.519" stop-color="#01b6eb"/><stop offset="0.533" stop-color="#4ef3ce"/><stop offset="0.547" stop-color="#78ffb8"/><stop offset="0.561" stop-color="#80ffb4"/><stop offset="0.575" stop-color="#94fda9"/><stop offset="0.590" stop-color="#a8f79d"/><stop offset="0.604" stop-color="#b6f193"/><stop offset="0.618" stop-color="#c3e98b"/><stop offset="0.632" stop-color="#cfe183"/><stop offset="0.646" stop-color="#dcd67a"/><stop offset="0.660" stop-color="#eaca70"/><stop offset="0.675" stop-color="#f1c36b"/><stop offset="0.703" stop-color="#f1c36b"/><stop offset="0.717" stop-color="#f3c16a"/><stop offset="0.731" stop-color="#faba66"/><stop offset="0.745" stop-color="#ffb361"/><stop offset="0.760" stop-color="#ffac5c"/><stop offset="0.774" stop-color="#ffb15f"/><stop offset="0.788" stop-color="#f4c06a"/><stop offset="0.802" stop-color="#e5cf74"/><stop offset="0.816" stop-color="#d7db7e"/><stop offset="0.830" stop-color="#ded579"/><stop offset="0.845" stop-color="#edc76f"/><stop offset="0.859" stop-color="#fcb864"/><stop offset="0.873" stop-color="#f4c069"/><stop offset="0.887" stop-color="#ebc970"/><stop offset="0.901" stop-color="#d9d97c"/><stop offset="0.915" stop-color="#c5e88a"/><stop offset="0.930" stop-color="#b1f397"/><stop offset="0.944" stop-color="#9dfba3"/><stop offset="0.958" stop-color="#9bfba4"/><stop offset="0.972" stop-color="#99fca6"/><stop offset="0.986" stop-color="#97fca7"/><stop offset="1.000" stop-color="#95fda8"/></linearGradient><linearGradient id="a20" gradientUnits="userSpaceOnUse" x1="194" x2="1323.5" y1="0" y2="0"><stop offset="0.000" stop-color="#642bfe"/><stop offset="0.009" stop-color="#652afe"/><stop offset="0.023" stop-color="#6529fe"/><stop offset="0.037" stop-color="#6629fe"/><stop offset="0.051" stop-color="#6628fe"/><stop offset="0.066" stop-color="#6727fe"/><stop offset="0.080" stop-color="#6726fe"/><stop offset="0.094" stop-color="#6825fe"/><stop offset="0.108" stop-color="#6825fe"/><stop offset="0.122" stop-color="#6824fe"/><stop offset="0.136" stop-color="#6628fe"/><stop offset="0.151" stop-color="#632cfe"/><stop offset="0.165" stop-color="#6130fe"/><stop offset="0.179" stop-color="#5f33fe"/><stop offset="0.193" stop-color="#5c37fd"/><stop offset="0.207" stop-color="#5a3bfd"/><stop offset="0.221" stop-color="#573efd"/><stop offset="0.236" stop-color="#5641fd"/><stop offset="0.250" stop-color="#5443fd"/><stop offset="0.264" stop-color="#5345fd"/><stop offset="0.278" stop-color="#5247fc"/><stop offset="0.292" stop-color="#5049fc"/><stop offset="0.306" stop-color="#4f4bfc"/><stop offset="0.320" stop-color="#4d4dfc"/><stop offset="0.335" stop-color="#4c4ffc"/><stop offset="0.349" stop-color="#4b50fc"/><stop offset="0.363" stop-color="#4a52fc"/><stop offset="0.377" stop-color="#4954fb"/><stop offset="0.391" stop-color="#4757fb"/><stop offset="0.405" stop-color="#445bfb"/><stop offset="0.420" stop-color="#415ffa"/><stop offset="0.434" stop-color="#4061fa"/><stop offset="0.448" stop-color="#3f62fa"/><stop offset="0.462" stop-color="#376ef9"/><stop offset="0.476" stop-color="#2f79f7"/><stop offset="0.490" stop-color="#2884f6"/><stop offset="0.505" stop-color="#1e90f4"/><stop offset="0.519" stop-color="#11a0f0"/><stop offset="0.533" stop-color="#38e6d8"/><stop offset="0.547" stop-color="#54f6cb"/><stop offset="0.561" stop-color="#5bf9c7"/><stop offset="0.575" stop-color="#7effb5"/><stop offset="0.590" stop-color="#a1faa1"/><stop offset="0.604" stop-color="#a0faa1"/><stop offset="0.618" stop-color="#94fda8"/><stop offset="0.632" stop-color="#88ffaf"/><stop offset="0.646" stop-color="#81ffb4"/><stop offset="0.660" stop-color="#86ffb1"/><stop offset="0.675" stop-color="#8afeae"/><stop offset="0.689" stop-color="#8dfead"/><stop offset="0.703" stop-color="#8ffeab"/><stop offset="0.717" stop-color="#91feaa"/><stop offset="0.731" stop-color="#91fdaa"/><stop offset="0.745" stop-color="#92fdaa"/><stop offset="0.760" stop-color="#92fdaa"/><stop offset="0.774" stop-color="#8ffeac"/><stop offset="0.788" stop-color="#89ffaf"/><stop offset="0.802" stop-color="#83ffb3"/><stop offset="0.816" stop-color="#7cffb6"/><stop offset="0.830" stop-color="#81ffb4"/><stop offset="0.845" stop-color="#89ffaf"/><stop offset="0.859" stop-color="#91feab"/><stop offset="0.873" stop-color="#a6f89e"/><stop offset="0.887" stop-color="#bced90"/><stop offset="0.901" stop-color="#b0f497"/><stop offset="0.915" stop-color="#98fca6"/><stop offset="0.930" stop-color="#80ffb4"/><stop offset="0.944" stop-color="#69fcc1"/><stop offset="0.958" stop-color="#68fcc1"/><stop offset="0.972" stop-color="#68fcc1"/><stop offset="0.986" stop-color="#67fcc1"/><stop offset="1.000" stop-color="#67fcc2"/></linearGradient><linearGradient id="a21" gradientUnits="userSpaceOnUse" x1="194" x2="1323.5" y1="0" y2="0"><stop offset="0.000" stop-color="#6e1cff"/><stop offset="0.009" stop-color="#6e1bff"/><stop offset="0.037" stop-color="#6e1bff"/><stop offset="0.051" stop-color="#6f1bff"/><stop offset="0.066" stop-color="#6f1aff"/><stop offset="0.122" stop-color="#6f1aff"/><stop offset="0.136" stop-color="#6d1eff"/><stop offset="0.151" stop-color="#6a21fe"/><stop offset="0.165" stop-color="#6825fe"/><stop offset="0.179" stop-color="#6529fe"/><stop offset="0.193" stop-color="#632cfe"/><stop offset="0.207" stop-color="#6130fe"/><stop offset="0.221" stop-color="#5e34fe"/><stop offset="0.236" stop-color="#5d36fe"/><stop offset="0.250" stop-color="#5b38fd"/><stop offset="0.264" stop-color="#5a3afd"/><stop offset="0.278" stop-color="#593cfd"/><stop offset="0.292" stop-color="#583efd"/><stop offset="0.306" stop-color="#573ffd"/><stop offset="0.320" stop-color="#5541fd"/><stop offset="0.335" stop-color="#5542fd"/><stop offset="0.349" stop-color="#5543fd"/><stop offset="0.363" stop-color="#5542fd"/><stop offset="0.377" stop-color="#5640fd"/><stop offset="0.391" stop-color="#583efd"/><stop offset="0.405" stop-color="#573efd"/><stop offset="0.420" stop-color="#5740fd"/><stop offset="0.434" stop-color="#573ffd"/><stop offset="0.448" stop-color="#583efd"/><stop offset="0.462" stop-color="#4c4ffc"/><stop offset="0.476" stop-color="#4160fa"/><stop offset="0.490" stop-color="#3670f8"/><stop offset="0.505" stop-color="#2b7ff6"/><stop offset="0.519" stop-color="#228bf5"/><stop offset="0.533" stop-color="#02b2ec"/><stop offset="0.547" stop-color="#06bbea"/><stop offset="0.561" stop-color="#0aa9ef"/><stop offset="0.575" stop-color="#1d92f3"/><stop offset="0.590" stop-color="#2f79f7"/><stop offset="0.604" stop-color="#366ff9"/><stop offset="0.618" stop-color="#396bf9"/><stop offset="0.632" stop-color="#3d66fa"/><stop offset="0.646" stop-color="#3f62fa"/><stop offset="0.703" stop-color="#3f62fa"/><stop offset="0.717" stop-color="#3f63fa"/><stop offset="0.731" stop-color="#3c67f9"/><stop offset="0.745" stop-color="#396cf9"/><stop offset="0.760" stop-color="#3670f8"/><stop offset="0.774" stop-color="#2d7df7"/><stop offset="0.788" stop-color="#1d92f3"/><stop offset="0.802" stop-color="#0da5ef"/><stop offset="0.816" stop-color="#03b8eb"/><stop offset="0.830" stop-color="#0abfe8"/><stop offset="0.845" stop-color="#0ec3e7"/><stop offset="0.859" stop-color="#12c7e6"/><stop offset="0.873" stop-color="#45efd2"/><stop offset="0.878" stop-color="#59f8c8"/><stop offset="0.882" stop-color="#67fcc1"/><stop offset="0.887" stop-color="#7bffb7"/><stop offset="0.901" stop-color="#78ffb9"/><stop offset="0.915" stop-color="#61fbc4"/><stop offset="0.930" stop-color="#4af2cf"/><stop offset="0.944" stop-color="#34e4d9"/><stop offset="0.972" stop-color="#34e4d9"/><stop offset="0.986" stop-color="#33e3d9"/><stop offset="1.000" stop-color="#33e3d9"/></linearGradient><clipPath id="cb"><path d="M194,494.1 196,494.1 200,494.2 204,494.3 208,494.4 212,494.5 216,494.6 220,494.7 224,494.8 228,494.8 232,494.9 236,495 240,495.1 242,495.2 244,495.4 248,495.6 252,495.9 256,496.1 258,496.2 260,496.4 264,496.6 266,496.7 268,496.9 272,497.1 276,497.4 280,497.6 284,498.2 288,498.8 290,499.1 292,499.4 294,499.6 296,499.9 300,500.4 304,500.9 306,501.1 308,501.4 312,501.9 316,502.4 320,502.9 324,503.4 328,503.9 330,504.1 332,504.6 336,505.6 340,506.6 344,507.4 348,508.2 352,509 356,509.8 360,510.6 364,511.4 368,512.2 370,512.6 372,513 376,513.8 380,514.6 384,515.5 388,516.4 392,517.3 396,518.2 400,519.1 404,520 408,520.9 412,521.8 416,522.7 420,523.6 424,524.6 428,525.6 432,526.6 436,527.6 440,528.6 444,529.8 448,531 452,532.2 456,533.4 460,534.6 464,535.8 468,537 472,538.2 476,539.4 480,540.6 484,542 488,543.4 492,544.8 496,546.2 500,547.6 504,549.6 508,551.6 510,552.6 512,553.5 516,555.4 520,557.3 524,559.1 526,560.1 528,561 532,562.9 536,564.7 540,566.6 544,568.4 548,570.2 552,572 556,573.8 560,575.6 564,577.6 568,579.6 572,581.6 576,583.6 580,585.6 584,587.6 588,589.6 590,590.6 592,591.6 596,593.6 600,595.6 604,597.4 608,599.3 610,600.2 612,601.1 616,603 620,604.8 624,606.6 628,608.5 629.6,609.2 632,609.9 636,611 640,612.2 644,613.3 646,614.3 648,615.3 652,617.3 656,619.3 660,621.3 664,624.2 666.6,626.1 668,626.6 672,628.2 676,629.7 680,631.2 681,631.6 684,634.1 688,637.3 692,640.6 696,643.3 700,646.1 702,647.5 704,648.8 708,651.6 712,654.3 713,655 716,653.9 719.5,652.6 720,652.9 724,655.3 728,657.6 729,658.2 732,661.8 735.6,666.2 736,666.9 740,673.7 744,680.5 747,685.6 748,686.2 751.7,688.6 752,688.7 756,689.5 759.7,690.3 760,690.6 764,694.7 767.7,698.4 768,698.7 772,703.3 776,707.8 779,711.2 780,712 784,715.4 788,718.7 788.6,719.2 792,720.7 796,722.4 800,724.1 804,725.4 808,726.7 812,728 816,729.3 820,730.6 824,731.8 828,733 832,734.2 836,735.4 840,736.6 844,738 848,739.4 852,740.8 856,742.2 860,743.6 864,744.8 868,746 872,747.2 876,748.4 880,749.6 884,750.4 888,751.1 892,751.9 896,752.6 900,753.5 904,754.4 908,755.3 912,756.2 916,757.1 920,758 924,758.9 928,759.8 930,760.2 932,760.7 936,761.6 940,762.1 944,762.6 948,763.1 952,763.6 956,764.1 960,764.6 964,767.4 968,770.2 970,771.6 972,771.5 976,771.2 980,770.9 984,770.7 988,770.4 992,770.1 996,769.9 1000,769.6 1004,768.4 1008,767.2 1012,766 1016,764.8 1020,763.6 1024,762.8 1028,762 1030,761.6 1032,761.2 1036,760.4 1040,759.6 1044,758.9 1048,758.3 1052,757.6 1056,756.9 1060,756.3 1064,755.6 1068,754.5 1072,753.3 1076,752.2 1080,751 1084,749.9 1088,748.7 1092,747.6 1096,746.5 1100,745.3 1104,744.2 1106,743.6 1108,742.4 1112,740 1116,737.6 1120,737 1124,736.5 1128,735.9 1130,735.6 1132,735.3 1136,734.6 1140,733.9 1144,733.3 1148,732.6 1152,731.9 1156,731.3 1160,730.6 1164,727.9 1168,725.3 1172,722.6 1176,721.6 1180,720.6 1184,719.6 1188,718.5 1192,717.4 1196,716.4 1200,715.3 1204,714.2 1208,713.1 1210,712.6 1212,711.9 1216,710.4 1220,708.9 1224,707.5 1228,706 1232,704.5 1236,703.1 1240,701.6 1244,700.4 1248,699.2 1252,698 1256,696.8 1260,695.6 1264,694.2 1268,692.8 1270,692.1 1272,691.4 1276,690 1280,688.6 1284,687.1 1288,685.6 1292,684.1 1296,682.6 1300,681.2 1304,679.7 1308,678.2 1312,676.7 1316,675.2 1320,673.7 1323,672.6 1323.5,672.6 1323.5,725.6 1323,725.6 1320,727.2 1316,729.3 1312,731.3 1308,733.4 1304,735.5 1300,737.6 1296,739.4 1292,741.2 1288,743 1284,744.8 1280,746.6 1276,750.2 1272,753.8 1270,755.6 1268,757 1264,759.9 1260,762.7 1256,765.6 1252,767.6 1248,769.6 1244,771.6 1240,773.6 1236,775.6 1232,777.6 1228,779.6 1224,781.6 1220,783.6 1216,782.8 1212,782 1210,781.6 1208,782.8 1204,785.2 1200,787.6 1196,786.9 1192,786.3 1188,785.6 1184,785.1 1180,784.6 1176,785.6 1172,786.6 1168,787.6 1164,788.6 1160,789.6 1156,790.6 1152,791.6 1148,792.6 1144,793.6 1140,794.6 1136,797.2 1132,799.8 1130,801.1 1128,802.4 1124,805 1120,807.6 1116,809.6 1112,811.6 1108,813.6 1106,814.6 1104,815.6 1100,817.6 1096,818.4 1092,819.2 1088,820 1084,820.8 1080,821.6 1076,822.4 1072,823.2 1068,824 1064,824.8 1060,825.6 1056,826.4 1052,827.2 1048,828 1044,828.8 1040,829.6 1036,831.2 1032,832.8 1030,833.6 1028,833.9 1024,834.6 1020,835.3 1016,835.9 1012,836.6 1008,837.3 1004,837.9 1000,838.6 996,838.3 992,838 988,837.7 984,837.4 980,837.1 976,836.8 972,836.5 970,836.4 968,836.2 964,835.9 960,835.6 956,834.8 952,834 948,833.2 944,832.4 940,831.6 936,830.8 932,830 930,829.6 928,829 924,827.8 920,826.6 916,825.4 912,824.2 908,823 904,821.8 900,820.6 896,819.4 892,818.2 888,817 884,815.8 880,814.6 876,812.4 872,810.2 868,808 864,805.8 860,803.6 856,801.6 852,799.6 848,797.6 844,795.6 840,793.6 836,791.6 832,789.6 828,787.6 824,785.6 820,783.6 816,782 812,780.4 808,778.8 804,777.2 800,775.6 796,774.4 792,773.2 788.6,772.2 788,772 784,770.8 780,769.6 779,769.3 776,768.4 772,767.2 768,766 767.7,765.9 764,764.8 760,763.6 759.7,763.4 756,761.3 752,758.9 751.7,758.8 748,756.6 747,756 744,754.3 740,751.9 736,749.6 735.6,749.5 732,748.6 729,747.9 728,747.6 724,746.6 720,745.6 719.5,745.4 716,743.8 713,742.5 712,742 708,740.3 704,738.5 702,737.6 700,731.6 696,728.4 692,725.2 688,722 684,718.8 681,716.4 680,715.6 676,712.6 672,709.6 668,706.6 666.6,705.6 664,703.6 660,702.3 656,700.9 652,699.6 648,698.3 646,697.6 644,693.6 640,685.6 636,682.9 632,680.3 629.6,678.7 628,677.6 624,674.9 620,672.3 616,669.6 612,666.9 610,665.6 608,664.9 604,663.5 600,662.1 596,660.7 592,659.3 590,658.6 588,655.3 584,648.6 580,646.4 576,644.3 572,642.1 568,639.9 564,637.8 560,635.6 556,634 552,632.4 548,630.8 544,629.2 540,627.6 536,627 532,626.5 528,625.9 526,625.6 524,622.3 520,615.6 516,614 512,612.4 510,611.6 508,610.8 504,609.2 500,607.6 496,606 492,604.4 488,602.8 484,601.2 480,599.6 476,599.4 472,599.1 468,598.9 464,598.6 460,591.6 456,590.2 452,588.8 448,587.4 444,586 440,584.6 436,584 432,583.4 428,582.8 424,582.2 420,581.6 416,579.6 412,577.6 408,575.6 404,574.1 400,572.6 396,571.5 392,570.5 388,569.4 384,568.3 380,567.3 376,566.2 372,565.1 370,564.6 368,564.9 364,565.5 360,566 356,566.6 352,564.6 348,562.6 344,560.6 340,558.6 336,557.8 332,557 330,556.6 328,556.2 324,555.4 320,554.6 316,555.1 312,555.6 308,558.9 306,560.6 304,560.4 300,560.1 296,559.8 294,559.6 292,557.1 290,554.6 288,554.4 284,554.1 280,553.8 276,553.4 272,553.1 268,552.8 266,552.6 264,554.1 260,557.1 258,558.6 256,558.6 252,558.6 248,558.6 244,556.6 242,555.6 240,551.6 236,551.6 232,551.6 228,551.6 224,551.6 220,551.6 216,551.6 212,551.6 208,551.6 204,551.6 200,551.6 196,551.6 194,551.6Z"/></clipPath><linearGradient id="dzsb" gradientUnits="userSpaceOnUse" x1="1246" y1="741.6" x2="1254.5" y2="762.6"><stop offset="0" stop-color="#80ffb4"/><stop offset="0.45" stop-color="#40ecd4"/><stop offset="1" stop-color="#00b4ec"/></linearGradient><linearGradient id="b0" gradientUnits="userSpaceOnUse" x1="194" x2="1323.5" y1="0" y2="0"><stop offset="0.000" stop-color="#99fca6"/><stop offset="0.009" stop-color="#9afca5"/><stop offset="0.023" stop-color="#9bfba4"/><stop offset="0.037" stop-color="#9cfba4"/><stop offset="0.051" stop-color="#9dfba3"/><stop offset="0.066" stop-color="#9efaa2"/><stop offset="0.080" stop-color="#a0faa2"/><stop offset="0.094" stop-color="#a1faa1"/><stop offset="0.108" stop-color="#a2f9a0"/><stop offset="0.122" stop-color="#a3f9a0"/><stop offset="0.136" stop-color="#a4f99f"/><stop offset="0.151" stop-color="#a5f89e"/><stop offset="0.165" stop-color="#a6f89d"/><stop offset="0.179" stop-color="#a8f79d"/><stop offset="0.193" stop-color="#a9f79c"/><stop offset="0.207" stop-color="#aaf69b"/><stop offset="0.221" stop-color="#abf69b"/><stop offset="0.236" stop-color="#adf59a"/><stop offset="0.250" stop-color="#aff498"/><stop offset="0.264" stop-color="#b0f497"/><stop offset="0.278" stop-color="#b2f396"/><stop offset="0.292" stop-color="#b4f295"/><stop offset="0.306" stop-color="#b6f194"/><stop offset="0.320" stop-color="#b8f092"/><stop offset="0.335" stop-color="#baef91"/><stop offset="0.349" stop-color="#bcee90"/><stop offset="0.363" stop-color="#bbee90"/><stop offset="0.377" stop-color="#b4f295"/><stop offset="0.387" stop-color="#aff498"/><stop offset="0.391" stop-color="#adf599"/><stop offset="0.405" stop-color="#a9f79c"/><stop offset="0.420" stop-color="#a6f89e"/><stop offset="0.434" stop-color="#a3f9a0"/><stop offset="0.448" stop-color="#a0faa1"/><stop offset="0.528" stop-color="#a0faa1"/><stop offset="0.533" stop-color="#8efeac"/><stop offset="0.547" stop-color="#5ffac6"/><stop offset="0.561" stop-color="#4bf2cf"/><stop offset="0.575" stop-color="#54f6cb"/><stop offset="0.590" stop-color="#5df9c6"/><stop offset="0.604" stop-color="#66fcc2"/><stop offset="0.618" stop-color="#6ffebd"/><stop offset="0.632" stop-color="#72febb"/><stop offset="0.646" stop-color="#71febc"/><stop offset="0.660" stop-color="#6ffebd"/><stop offset="0.675" stop-color="#6efdbe"/><stop offset="0.689" stop-color="#6cfdbf"/><stop offset="0.703" stop-color="#6bfdc0"/><stop offset="0.717" stop-color="#6afdc0"/><stop offset="0.731" stop-color="#6afdc0"/><stop offset="0.745" stop-color="#6bfdbf"/><stop offset="0.760" stop-color="#6bfdbf"/><stop offset="0.774" stop-color="#6cfdbf"/><stop offset="0.788" stop-color="#6dfdbf"/><stop offset="0.802" stop-color="#6dfdbe"/><stop offset="0.816" stop-color="#72febc"/><stop offset="0.830" stop-color="#77ffb9"/><stop offset="0.845" stop-color="#7cffb6"/><stop offset="0.859" stop-color="#81ffb3"/><stop offset="0.873" stop-color="#86ffb0"/><stop offset="0.887" stop-color="#8dfeac"/><stop offset="0.901" stop-color="#94fda8"/><stop offset="0.915" stop-color="#98fca6"/><stop offset="1.000" stop-color="#98fca6"/></linearGradient><linearGradient id="b1" gradientUnits="userSpaceOnUse" x1="194" x2="1323.5" y1="0" y2="0"><stop offset="0.000" stop-color="#ffa759"/><stop offset="0.009" stop-color="#ffa659"/><stop offset="0.023" stop-color="#ffa558"/><stop offset="0.037" stop-color="#ffa457"/><stop offset="0.051" stop-color="#ffa356"/><stop offset="0.066" stop-color="#ffa156"/><stop offset="0.080" stop-color="#ffa055"/><stop offset="0.094" stop-color="#ff9f54"/><stop offset="0.108" stop-color="#ff9e53"/><stop offset="0.122" stop-color="#ff9c53"/><stop offset="0.136" stop-color="#ff9b52"/><stop offset="0.151" stop-color="#ff9a51"/><stop offset="0.165" stop-color="#ff9950"/><stop offset="0.179" stop-color="#ff9750"/><stop offset="0.193" stop-color="#ff964f"/><stop offset="0.207" stop-color="#ff954e"/><stop offset="0.221" stop-color="#ff934d"/><stop offset="0.236" stop-color="#ff914c"/><stop offset="0.250" stop-color="#ff8e4a"/><stop offset="0.264" stop-color="#ff8c49"/><stop offset="0.278" stop-color="#ff8947"/><stop offset="0.292" stop-color="#ff8646"/><stop offset="0.306" stop-color="#ff8344"/><stop offset="0.320" stop-color="#ff8042"/><stop offset="0.335" stop-color="#ff7d41"/><stop offset="0.349" stop-color="#ff7a3f"/><stop offset="0.363" stop-color="#ff7b40"/><stop offset="0.377" stop-color="#ff8746"/><stop offset="0.391" stop-color="#ff924c"/><stop offset="0.405" stop-color="#ff9850"/><stop offset="0.420" stop-color="#ff9c52"/><stop offset="0.434" stop-color="#ffa055"/><stop offset="0.448" stop-color="#ffa457"/><stop offset="0.462" stop-color="#ffa558"/><stop offset="0.476" stop-color="#ffa659"/><stop offset="0.490" stop-color="#ffa859"/><stop offset="0.505" stop-color="#ffa85a"/><stop offset="0.519" stop-color="#ffa85a"/><stop offset="0.533" stop-color="#e5ce74"/><stop offset="0.547" stop-color="#85ffb1"/><stop offset="0.561" stop-color="#60fac5"/><stop offset="0.575" stop-color="#75feba"/><stop offset="0.590" stop-color="#89ffaf"/><stop offset="0.604" stop-color="#9efba3"/><stop offset="0.618" stop-color="#b3f296"/><stop offset="0.632" stop-color="#bbee91"/><stop offset="0.646" stop-color="#b7f093"/><stop offset="0.660" stop-color="#b3f296"/><stop offset="0.675" stop-color="#aff498"/><stop offset="0.689" stop-color="#abf69b"/><stop offset="0.703" stop-color="#a6f89d"/><stop offset="0.717" stop-color="#a4f99f"/><stop offset="0.731" stop-color="#a6f89e"/><stop offset="0.745" stop-color="#a7f79d"/><stop offset="0.760" stop-color="#a9f79c"/><stop offset="0.774" stop-color="#abf69b"/><stop offset="0.788" stop-color="#adf59a"/><stop offset="0.802" stop-color="#aef499"/><stop offset="0.816" stop-color="#bbee90"/><stop offset="0.830" stop-color="#c8e688"/><stop offset="0.845" stop-color="#d5dc7f"/><stop offset="0.859" stop-color="#e2d276"/><stop offset="0.873" stop-color="#efc56d"/><stop offset="0.887" stop-color="#f4c06a"/><stop offset="0.901" stop-color="#f9bb66"/><stop offset="0.915" stop-color="#fbb964"/><stop offset="1.000" stop-color="#fbb964"/></linearGradient><linearGradient id="b2" gradientUnits="userSpaceOnUse" x1="194" x2="1323.5" y1="0" y2="0"><stop offset="0.000" stop-color="#ff4d27"/><stop offset="0.009" stop-color="#ff4e27"/><stop offset="0.221" stop-color="#ff4e27"/><stop offset="0.236" stop-color="#ff4b26"/><stop offset="0.250" stop-color="#ff4724"/><stop offset="0.264" stop-color="#ff4322"/><stop offset="0.278" stop-color="#ff3f20"/><stop offset="0.292" stop-color="#ff3b1e"/><stop offset="0.306" stop-color="#ff371c"/><stop offset="0.320" stop-color="#ff331a"/><stop offset="0.335" stop-color="#ff2f18"/><stop offset="0.349" stop-color="#ff2b16"/><stop offset="0.363" stop-color="#ff2915"/><stop offset="0.377" stop-color="#ff2f18"/><stop offset="0.391" stop-color="#ff351b"/><stop offset="0.405" stop-color="#ff371b"/><stop offset="0.420" stop-color="#ff371c"/><stop offset="0.434" stop-color="#ff381c"/><stop offset="0.448" stop-color="#ff391c"/><stop offset="0.462" stop-color="#ff4221"/><stop offset="0.476" stop-color="#ff4b26"/><stop offset="0.490" stop-color="#ff542b"/><stop offset="0.505" stop-color="#ff5b2e"/><stop offset="0.519" stop-color="#ff5b2e"/><stop offset="0.533" stop-color="#ff9850"/><stop offset="0.547" stop-color="#a0faa2"/><stop offset="0.561" stop-color="#73febb"/><stop offset="0.575" stop-color="#90feab"/><stop offset="0.590" stop-color="#adf599"/><stop offset="0.604" stop-color="#cbe486"/><stop offset="0.618" stop-color="#e8cc72"/><stop offset="0.632" stop-color="#f3c16a"/><stop offset="0.646" stop-color="#ecc86f"/><stop offset="0.660" stop-color="#e6ce74"/><stop offset="0.675" stop-color="#dfd479"/><stop offset="0.689" stop-color="#d8da7d"/><stop offset="0.703" stop-color="#d1e082"/><stop offset="0.717" stop-color="#cce385"/><stop offset="0.731" stop-color="#cee284"/><stop offset="0.745" stop-color="#d0e082"/><stop offset="0.760" stop-color="#d2df81"/><stop offset="0.774" stop-color="#d4dd80"/><stop offset="0.788" stop-color="#d6db7e"/><stop offset="0.802" stop-color="#d8da7d"/><stop offset="0.816" stop-color="#e7cd73"/><stop offset="0.830" stop-color="#f6be68"/><stop offset="0.845" stop-color="#ffae5d"/><stop offset="0.859" stop-color="#ff9c53"/><stop offset="0.873" stop-color="#ff8947"/><stop offset="0.887" stop-color="#ff8646"/><stop offset="0.901" stop-color="#ff8444"/><stop offset="0.915" stop-color="#ff8244"/><stop offset="1.000" stop-color="#ff8244"/></linearGradient><linearGradient id="b3" gradientUnits="userSpaceOnUse" x1="194" x2="1323.5" y1="0" y2="0"><stop offset="0.000" stop-color="#ff4925"/><stop offset="0.066" stop-color="#ff4925"/><stop offset="0.080" stop-color="#ff4a25"/><stop offset="0.193" stop-color="#ff4a25"/><stop offset="0.207" stop-color="#ff4a26"/><stop offset="0.221" stop-color="#ff4a26"/><stop offset="0.236" stop-color="#ff4824"/><stop offset="0.250" stop-color="#ff4423"/><stop offset="0.264" stop-color="#ff4121"/><stop offset="0.278" stop-color="#ff3d1f"/><stop offset="0.292" stop-color="#ff391d"/><stop offset="0.306" stop-color="#ff361b"/><stop offset="0.320" stop-color="#ff3219"/><stop offset="0.335" stop-color="#ff2e17"/><stop offset="0.349" stop-color="#ff2b15"/><stop offset="0.363" stop-color="#ff2814"/><stop offset="0.519" stop-color="#ff2814"/><stop offset="0.533" stop-color="#ff5e30"/><stop offset="0.547" stop-color="#e1d377"/><stop offset="0.561" stop-color="#bded8f"/><stop offset="0.575" stop-color="#d5dd7f"/><stop offset="0.590" stop-color="#edc76f"/><stop offset="0.604" stop-color="#ffae5d"/><stop offset="0.618" stop-color="#ff904b"/><stop offset="0.632" stop-color="#ff8646"/><stop offset="0.646" stop-color="#ff934d"/><stop offset="0.660" stop-color="#ff9f54"/><stop offset="0.675" stop-color="#ffaa5b"/><stop offset="0.689" stop-color="#feb562"/><stop offset="0.703" stop-color="#f4c069"/><stop offset="0.717" stop-color="#eec66e"/><stop offset="0.731" stop-color="#f0c46c"/><stop offset="0.745" stop-color="#f2c26b"/><stop offset="0.760" stop-color="#f4c06a"/><stop offset="0.774" stop-color="#f6be68"/><stop offset="0.788" stop-color="#f8bc67"/><stop offset="0.802" stop-color="#faba65"/><stop offset="0.816" stop-color="#ffa759"/><stop offset="0.830" stop-color="#ff934d"/><stop offset="0.845" stop-color="#ff7d41"/><stop offset="0.859" stop-color="#ff6634"/><stop offset="0.873" stop-color="#ff4e28"/><stop offset="0.887" stop-color="#ff4b26"/><stop offset="0.901" stop-color="#ff4724"/><stop offset="0.915" stop-color="#ff4623"/><stop offset="1.000" stop-color="#ff4623"/></linearGradient><linearGradient id="b4" gradientUnits="userSpaceOnUse" x1="194" x2="1323.5" y1="0" y2="0"><stop offset="0.000" stop-color="#ff4523"/><stop offset="0.080" stop-color="#ff4523"/><stop offset="0.094" stop-color="#ff4623"/><stop offset="0.165" stop-color="#ff4623"/><stop offset="0.179" stop-color="#ff4624"/><stop offset="0.193" stop-color="#ff4624"/><stop offset="0.207" stop-color="#ff4724"/><stop offset="0.221" stop-color="#ff4724"/><stop offset="0.236" stop-color="#ff4523"/><stop offset="0.250" stop-color="#ff4221"/><stop offset="0.264" stop-color="#ff3e1f"/><stop offset="0.278" stop-color="#ff3b1e"/><stop offset="0.292" stop-color="#ff381c"/><stop offset="0.306" stop-color="#ff341a"/><stop offset="0.320" stop-color="#ff3119"/><stop offset="0.335" stop-color="#ff2e17"/><stop offset="0.349" stop-color="#ff2a15"/><stop offset="0.363" stop-color="#ff2814"/><stop offset="0.519" stop-color="#ff2814"/><stop offset="0.533" stop-color="#ff4523"/><stop offset="0.547" stop-color="#ff8e4a"/><stop offset="0.561" stop-color="#ffa759"/><stop offset="0.575" stop-color="#ff9a51"/><stop offset="0.590" stop-color="#ff8b49"/><stop offset="0.604" stop-color="#ff7c40"/><stop offset="0.618" stop-color="#ff6d38"/><stop offset="0.632" stop-color="#ff6a36"/><stop offset="0.646" stop-color="#ff753c"/><stop offset="0.660" stop-color="#ff8042"/><stop offset="0.675" stop-color="#ff8a48"/><stop offset="0.689" stop-color="#ff944e"/><stop offset="0.703" stop-color="#ff9e54"/><stop offset="0.717" stop-color="#ffa458"/><stop offset="0.731" stop-color="#ffa256"/><stop offset="0.745" stop-color="#ff9f54"/><stop offset="0.760" stop-color="#ff9d53"/><stop offset="0.774" stop-color="#ff9a51"/><stop offset="0.788" stop-color="#ff9850"/><stop offset="0.802" stop-color="#ff954e"/><stop offset="0.816" stop-color="#ff8746"/><stop offset="0.830" stop-color="#ff793e"/><stop offset="0.845" stop-color="#ff6a36"/><stop offset="0.859" stop-color="#ff5b2e"/><stop offset="0.873" stop-color="#ff4b26"/><stop offset="0.887" stop-color="#ff3d1f"/><stop offset="0.901" stop-color="#ff2f17"/><stop offset="0.915" stop-color="#ff2714"/><stop offset="1.000" stop-color="#ff2714"/></linearGradient><linearGradient id="b5" gradientUnits="userSpaceOnUse" x1="194" x2="1323.5" y1="0" y2="0"><stop offset="0.000" stop-color="#ff4020"/><stop offset="0.009" stop-color="#ff4021"/><stop offset="0.023" stop-color="#ff4121"/><stop offset="0.080" stop-color="#ff4121"/><stop offset="0.094" stop-color="#ff4221"/><stop offset="0.151" stop-color="#ff4221"/><stop offset="0.165" stop-color="#ff4222"/><stop offset="0.179" stop-color="#ff4322"/><stop offset="0.221" stop-color="#ff4322"/><stop offset="0.236" stop-color="#ff4121"/><stop offset="0.250" stop-color="#ff3f20"/><stop offset="0.264" stop-color="#ff3c1e"/><stop offset="0.278" stop-color="#ff391d"/><stop offset="0.292" stop-color="#ff361b"/><stop offset="0.306" stop-color="#ff331a"/><stop offset="0.320" stop-color="#ff3018"/><stop offset="0.335" stop-color="#ff2d17"/><stop offset="0.349" stop-color="#ff2a15"/><stop offset="0.363" stop-color="#ff2814"/><stop offset="0.519" stop-color="#ff2814"/><stop offset="0.533" stop-color="#ff341a"/><stop offset="0.547" stop-color="#ff532a"/><stop offset="0.561" stop-color="#ff5f30"/><stop offset="0.575" stop-color="#ff5a2e"/><stop offset="0.590" stop-color="#ff552b"/><stop offset="0.604" stop-color="#ff5029"/><stop offset="0.618" stop-color="#ff4b26"/><stop offset="0.632" stop-color="#ff5028"/><stop offset="0.646" stop-color="#ff5f30"/><stop offset="0.660" stop-color="#ff6d38"/><stop offset="0.675" stop-color="#ff7b40"/><stop offset="0.689" stop-color="#ff8947"/><stop offset="0.703" stop-color="#ff964f"/><stop offset="0.717" stop-color="#ff9f54"/><stop offset="0.731" stop-color="#ff9c52"/><stop offset="0.745" stop-color="#ff9950"/><stop offset="0.760" stop-color="#ff954f"/><stop offset="0.774" stop-color="#ff924d"/><stop offset="0.788" stop-color="#ff8f4b"/><stop offset="0.802" stop-color="#ff8c49"/><stop offset="0.816" stop-color="#ff7f42"/><stop offset="0.830" stop-color="#ff723a"/><stop offset="0.845" stop-color="#ff6433"/><stop offset="0.859" stop-color="#ff562c"/><stop offset="0.873" stop-color="#ff4824"/><stop offset="0.887" stop-color="#ff3b1e"/><stop offset="0.901" stop-color="#ff2d17"/><stop offset="0.915" stop-color="#ff2713"/><stop offset="1.000" stop-color="#ff2713"/></linearGradient><linearGradient id="b6" gradientUnits="userSpaceOnUse" x1="194" x2="1323.5" y1="0" y2="0"><stop offset="0.000" stop-color="#ff3c1e"/><stop offset="0.023" stop-color="#ff3c1e"/><stop offset="0.037" stop-color="#ff3d1f"/><stop offset="0.080" stop-color="#ff3d1f"/><stop offset="0.094" stop-color="#ff3e1f"/><stop offset="0.151" stop-color="#ff3e1f"/><stop offset="0.165" stop-color="#ff3f20"/><stop offset="0.207" stop-color="#ff3f20"/><stop offset="0.221" stop-color="#ff4020"/><stop offset="0.236" stop-color="#ff3e1f"/><stop offset="0.250" stop-color="#ff3c1e"/><stop offset="0.264" stop-color="#ff391d"/><stop offset="0.278" stop-color="#ff371b"/><stop offset="0.292" stop-color="#ff341a"/><stop offset="0.306" stop-color="#ff3119"/><stop offset="0.320" stop-color="#ff2f18"/><stop offset="0.335" stop-color="#ff2c16"/><stop offset="0.349" stop-color="#ff2a15"/><stop offset="0.363" stop-color="#ff2814"/><stop offset="0.561" stop-color="#ff2814"/><stop offset="0.575" stop-color="#ff2914"/><stop offset="0.590" stop-color="#ff2915"/><stop offset="0.604" stop-color="#ff2a15"/><stop offset="0.618" stop-color="#ff2b15"/><stop offset="0.632" stop-color="#ff341a"/><stop offset="0.646" stop-color="#ff4724"/><stop offset="0.660" stop-color="#ff5a2e"/><stop offset="0.675" stop-color="#ff6c37"/><stop offset="0.689" stop-color="#ff7d41"/><stop offset="0.703" stop-color="#ff8e4a"/><stop offset="0.717" stop-color="#ff9951"/><stop offset="0.731" stop-color="#ff954e"/><stop offset="0.745" stop-color="#ff924c"/><stop offset="0.760" stop-color="#ff8e4a"/><stop offset="0.774" stop-color="#ff8a48"/><stop offset="0.788" stop-color="#ff8746"/><stop offset="0.802" stop-color="#ff8344"/><stop offset="0.816" stop-color="#ff773d"/><stop offset="0.830" stop-color="#ff6b37"/><stop offset="0.845" stop-color="#ff5e30"/><stop offset="0.859" stop-color="#ff5129"/><stop offset="0.873" stop-color="#ff4423"/><stop offset="0.887" stop-color="#ff381c"/><stop offset="0.901" stop-color="#ff2c16"/><stop offset="0.915" stop-color="#ff2613"/><stop offset="1.000" stop-color="#ff2613"/></linearGradient><linearGradient id="b7" gradientUnits="userSpaceOnUse" x1="194" x2="1323.5" y1="0" y2="0"><stop offset="0.000" stop-color="#ff381c"/><stop offset="0.037" stop-color="#ff381c"/><stop offset="0.051" stop-color="#ff391c"/><stop offset="0.066" stop-color="#ff391d"/><stop offset="0.094" stop-color="#ff391d"/><stop offset="0.108" stop-color="#ff3a1d"/><stop offset="0.136" stop-color="#ff3a1d"/><stop offset="0.151" stop-color="#ff3b1e"/><stop offset="0.179" stop-color="#ff3b1e"/><stop offset="0.193" stop-color="#ff3c1e"/><stop offset="0.221" stop-color="#ff3c1e"/><stop offset="0.236" stop-color="#ff3b1e"/><stop offset="0.250" stop-color="#ff391d"/><stop offset="0.264" stop-color="#ff371b"/><stop offset="0.278" stop-color="#ff341a"/><stop offset="0.292" stop-color="#ff3219"/><stop offset="0.306" stop-color="#ff3018"/><stop offset="0.320" stop-color="#ff2e17"/><stop offset="0.335" stop-color="#ff2c16"/><stop offset="0.349" stop-color="#ff2a15"/><stop offset="0.363" stop-color="#ff2814"/><stop offset="0.618" stop-color="#ff2814"/><stop offset="0.632" stop-color="#ff3119"/><stop offset="0.646" stop-color="#ff4322"/><stop offset="0.660" stop-color="#ff552b"/><stop offset="0.675" stop-color="#ff6735"/><stop offset="0.689" stop-color="#ff783e"/><stop offset="0.703" stop-color="#ff8847"/><stop offset="0.717" stop-color="#ff934d"/><stop offset="0.731" stop-color="#ff8f4b"/><stop offset="0.745" stop-color="#ff8a48"/><stop offset="0.760" stop-color="#ff8646"/><stop offset="0.774" stop-color="#ff8243"/><stop offset="0.788" stop-color="#ff7e41"/><stop offset="0.802" stop-color="#ff793f"/><stop offset="0.816" stop-color="#ff6e39"/><stop offset="0.830" stop-color="#ff6333"/><stop offset="0.845" stop-color="#ff582d"/><stop offset="0.859" stop-color="#ff4d27"/><stop offset="0.873" stop-color="#ff4121"/><stop offset="0.887" stop-color="#ff361b"/><stop offset="0.901" stop-color="#ff2b16"/><stop offset="0.915" stop-color="#ff2513"/><stop offset="1.000" stop-color="#ff2513"/></linearGradient><linearGradient id="b8" gradientUnits="userSpaceOnUse" x1="194" x2="1323.5" y1="0" y2="0"><stop offset="0.000" stop-color="#ff331a"/><stop offset="0.009" stop-color="#ff331a"/><stop offset="0.023" stop-color="#ff341a"/><stop offset="0.051" stop-color="#ff341a"/><stop offset="0.066" stop-color="#ff351a"/><stop offset="0.080" stop-color="#ff351b"/><stop offset="0.094" stop-color="#ff351b"/><stop offset="0.108" stop-color="#ff361b"/><stop offset="0.136" stop-color="#ff361b"/><stop offset="0.151" stop-color="#ff371c"/><stop offset="0.165" stop-color="#ff371c"/><stop offset="0.179" stop-color="#ff381c"/><stop offset="0.207" stop-color="#ff381c"/><stop offset="0.221" stop-color="#ff391c"/><stop offset="0.236" stop-color="#ff381c"/><stop offset="0.250" stop-color="#ff361b"/><stop offset="0.264" stop-color="#ff341a"/><stop offset="0.278" stop-color="#ff3219"/><stop offset="0.292" stop-color="#ff3018"/><stop offset="0.306" stop-color="#ff2f17"/><stop offset="0.320" stop-color="#ff2d17"/><stop offset="0.335" stop-color="#ff2b16"/><stop offset="0.349" stop-color="#ff2915"/><stop offset="0.363" stop-color="#ff2814"/><stop offset="0.618" stop-color="#ff2814"/><stop offset="0.632" stop-color="#ff3118"/><stop offset="0.646" stop-color="#ff4221"/><stop offset="0.660" stop-color="#ff532a"/><stop offset="0.675" stop-color="#ff6333"/><stop offset="0.689" stop-color="#ff733b"/><stop offset="0.703" stop-color="#ff8344"/><stop offset="0.717" stop-color="#ff8d49"/><stop offset="0.731" stop-color="#ff8847"/><stop offset="0.745" stop-color="#ff8344"/><stop offset="0.760" stop-color="#ff7e41"/><stop offset="0.774" stop-color="#ff793f"/><stop offset="0.788" stop-color="#ff753c"/><stop offset="0.802" stop-color="#ff7039"/><stop offset="0.816" stop-color="#ff6634"/><stop offset="0.830" stop-color="#ff5c2f"/><stop offset="0.845" stop-color="#ff522a"/><stop offset="0.859" stop-color="#ff4824"/><stop offset="0.873" stop-color="#ff3e1f"/><stop offset="0.887" stop-color="#ff341a"/><stop offset="0.901" stop-color="#ff2a15"/><stop offset="0.915" stop-color="#ff2512"/><stop offset="0.930" stop-color="#ff2412"/><stop offset="1.000" stop-color="#ff2412"/></linearGradient><linearGradient id="b9" gradientUnits="userSpaceOnUse" x1="194" x2="1323.5" y1="0" y2="0"><stop offset="0.000" stop-color="#ff2f17"/><stop offset="0.009" stop-color="#ff2f18"/><stop offset="0.023" stop-color="#ff2f18"/><stop offset="0.037" stop-color="#ff3018"/><stop offset="0.051" stop-color="#ff3018"/><stop offset="0.066" stop-color="#ff3118"/><stop offset="0.080" stop-color="#ff3119"/><stop offset="0.094" stop-color="#ff3119"/><stop offset="0.108" stop-color="#ff3219"/><stop offset="0.122" stop-color="#ff3219"/><stop offset="0.136" stop-color="#ff3319"/><stop offset="0.151" stop-color="#ff331a"/><stop offset="0.165" stop-color="#ff331a"/><stop offset="0.179" stop-color="#ff341a"/><stop offset="0.193" stop-color="#ff341a"/><stop offset="0.207" stop-color="#ff351a"/><stop offset="0.221" stop-color="#ff351b"/><stop offset="0.236" stop-color="#ff341a"/><stop offset="0.250" stop-color="#ff331a"/><stop offset="0.264" stop-color="#ff3119"/><stop offset="0.278" stop-color="#ff3018"/><stop offset="0.292" stop-color="#ff2f17"/><stop offset="0.306" stop-color="#ff2d17"/><stop offset="0.320" stop-color="#ff2c16"/><stop offset="0.335" stop-color="#ff2a15"/><stop offset="0.349" stop-color="#ff2915"/><stop offset="0.363" stop-color="#ff2814"/><stop offset="0.618" stop-color="#ff2814"/><stop offset="0.632" stop-color="#ff3018"/><stop offset="0.646" stop-color="#ff4020"/><stop offset="0.660" stop-color="#ff5028"/><stop offset="0.675" stop-color="#ff5f31"/><stop offset="0.689" stop-color="#ff6e39"/><stop offset="0.703" stop-color="#ff7d41"/><stop offset="0.717" stop-color="#ff8646"/><stop offset="0.731" stop-color="#ff8143"/><stop offset="0.745" stop-color="#ff7c40"/><stop offset="0.760" stop-color="#ff763d"/><stop offset="0.774" stop-color="#ff713a"/><stop offset="0.788" stop-color="#ff6b37"/><stop offset="0.802" stop-color="#ff6634"/><stop offset="0.816" stop-color="#ff5d2f"/><stop offset="0.830" stop-color="#ff552b"/><stop offset="0.845" stop-color="#ff4c26"/><stop offset="0.859" stop-color="#ff4322"/><stop offset="0.873" stop-color="#ff3b1e"/><stop offset="0.887" stop-color="#ff3219"/><stop offset="0.901" stop-color="#ff2814"/><stop offset="0.915" stop-color="#ff2412"/><stop offset="1.000" stop-color="#ff2412"/></linearGradient><linearGradient id="b10" gradientUnits="userSpaceOnUse" x1="194" x2="1323.5" y1="0" y2="0"><stop offset="0.000" stop-color="#ff2a15"/><stop offset="0.009" stop-color="#ff2a15"/><stop offset="0.023" stop-color="#ff2b16"/><stop offset="0.037" stop-color="#ff2b16"/><stop offset="0.051" stop-color="#ff2c16"/><stop offset="0.066" stop-color="#ff2c16"/><stop offset="0.080" stop-color="#ff2d16"/><stop offset="0.094" stop-color="#ff2d17"/><stop offset="0.108" stop-color="#ff2e17"/><stop offset="0.122" stop-color="#ff2e17"/><stop offset="0.136" stop-color="#ff2f17"/><stop offset="0.151" stop-color="#ff2f18"/><stop offset="0.165" stop-color="#ff3018"/><stop offset="0.193" stop-color="#ff3018"/><stop offset="0.207" stop-color="#ff3119"/><stop offset="0.236" stop-color="#ff3119"/><stop offset="0.250" stop-color="#ff3018"/><stop offset="0.264" stop-color="#ff2f18"/><stop offset="0.278" stop-color="#ff2e17"/><stop offset="0.292" stop-color="#ff2d16"/><stop offset="0.306" stop-color="#ff2c16"/><stop offset="0.320" stop-color="#ff2b15"/><stop offset="0.335" stop-color="#ff2a15"/><stop offset="0.349" stop-color="#ff2914"/><stop offset="0.363" stop-color="#ff2814"/><stop offset="0.618" stop-color="#ff2814"/><stop offset="0.632" stop-color="#ff2e17"/><stop offset="0.646" stop-color="#ff3b1e"/><stop offset="0.660" stop-color="#ff4824"/><stop offset="0.675" stop-color="#ff542b"/><stop offset="0.689" stop-color="#ff6131"/><stop offset="0.703" stop-color="#ff6d38"/><stop offset="0.717" stop-color="#ff743c"/><stop offset="0.731" stop-color="#ff6f39"/><stop offset="0.745" stop-color="#ff6a36"/><stop offset="0.760" stop-color="#ff6534"/><stop offset="0.774" stop-color="#ff6031"/><stop offset="0.788" stop-color="#ff5b2e"/><stop offset="0.802" stop-color="#ff552b"/><stop offset="0.816" stop-color="#ff4f28"/><stop offset="0.830" stop-color="#ff4925"/><stop offset="0.845" stop-color="#ff4322"/><stop offset="0.859" stop-color="#ff3d1f"/><stop offset="0.873" stop-color="#ff371c"/><stop offset="0.887" stop-color="#ff2f18"/><stop offset="0.901" stop-color="#ff2714"/><stop offset="0.915" stop-color="#ff2312"/><stop offset="0.958" stop-color="#ff2312"/><stop offset="0.972" stop-color="#ff2311"/><stop offset="1.000" stop-color="#ff2311"/></linearGradient><linearGradient id="b11" gradientUnits="userSpaceOnUse" x1="194" x2="1323.5" y1="0" y2="0"><stop offset="0.000" stop-color="#ff4623"/><stop offset="0.009" stop-color="#ff4523"/><stop offset="0.023" stop-color="#ff4322"/><stop offset="0.037" stop-color="#ff4221"/><stop offset="0.051" stop-color="#ff4020"/><stop offset="0.066" stop-color="#ff3f20"/><stop offset="0.080" stop-color="#ff3d1f"/><stop offset="0.094" stop-color="#ff3c1e"/><stop offset="0.108" stop-color="#ff3a1d"/><stop offset="0.122" stop-color="#ff391d"/><stop offset="0.136" stop-color="#ff371c"/><stop offset="0.151" stop-color="#ff361b"/><stop offset="0.165" stop-color="#ff341a"/><stop offset="0.179" stop-color="#ff331a"/><stop offset="0.193" stop-color="#ff3219"/><stop offset="0.207" stop-color="#ff3018"/><stop offset="0.221" stop-color="#ff2f17"/><stop offset="0.236" stop-color="#ff2e17"/><stop offset="0.250" stop-color="#ff2d17"/><stop offset="0.264" stop-color="#ff2c16"/><stop offset="0.278" stop-color="#ff2c16"/><stop offset="0.292" stop-color="#ff2b16"/><stop offset="0.306" stop-color="#ff2a15"/><stop offset="0.320" stop-color="#ff2a15"/><stop offset="0.335" stop-color="#ff2915"/><stop offset="0.349" stop-color="#ff2814"/><stop offset="0.618" stop-color="#ff2814"/><stop offset="0.632" stop-color="#ff2c16"/><stop offset="0.646" stop-color="#ff341a"/><stop offset="0.660" stop-color="#ff3c1e"/><stop offset="0.675" stop-color="#ff4422"/><stop offset="0.689" stop-color="#ff4c26"/><stop offset="0.703" stop-color="#ff542b"/><stop offset="0.717" stop-color="#ff592d"/><stop offset="0.731" stop-color="#ff552b"/><stop offset="0.745" stop-color="#ff5129"/><stop offset="0.760" stop-color="#ff4d27"/><stop offset="0.774" stop-color="#ff4925"/><stop offset="0.788" stop-color="#ff4523"/><stop offset="0.802" stop-color="#ff4021"/><stop offset="0.816" stop-color="#ff3e1f"/><stop offset="0.830" stop-color="#ff3c1e"/><stop offset="0.845" stop-color="#ff391d"/><stop offset="0.859" stop-color="#ff371b"/><stop offset="0.873" stop-color="#ff341a"/><stop offset="0.887" stop-color="#ff2d17"/><stop offset="0.901" stop-color="#ff2613"/><stop offset="0.915" stop-color="#ff2211"/><stop offset="1.000" stop-color="#ff2211"/></linearGradient><linearGradient id="b12" gradientUnits="userSpaceOnUse" x1="194" x2="1323.5" y1="0" y2="0"><stop offset="0.000" stop-color="#ff7d41"/><stop offset="0.009" stop-color="#ff7a3f"/><stop offset="0.023" stop-color="#ff753c"/><stop offset="0.037" stop-color="#ff713a"/><stop offset="0.051" stop-color="#ff6c37"/><stop offset="0.066" stop-color="#ff6734"/><stop offset="0.080" stop-color="#ff6132"/><stop offset="0.094" stop-color="#ff5c2f"/><stop offset="0.108" stop-color="#ff572c"/><stop offset="0.122" stop-color="#ff522a"/><stop offset="0.136" stop-color="#ff4d27"/><stop offset="0.151" stop-color="#ff4724"/><stop offset="0.165" stop-color="#ff4221"/><stop offset="0.179" stop-color="#ff3d1f"/><stop offset="0.193" stop-color="#ff371c"/><stop offset="0.207" stop-color="#ff3219"/><stop offset="0.221" stop-color="#ff2c16"/><stop offset="0.236" stop-color="#ff2a15"/><stop offset="0.264" stop-color="#ff2a15"/><stop offset="0.278" stop-color="#ff2915"/><stop offset="0.306" stop-color="#ff2915"/><stop offset="0.320" stop-color="#ff2914"/><stop offset="0.335" stop-color="#ff2814"/><stop offset="0.618" stop-color="#ff2814"/><stop offset="0.632" stop-color="#ff2a15"/><stop offset="0.646" stop-color="#ff2d17"/><stop offset="0.660" stop-color="#ff3018"/><stop offset="0.675" stop-color="#ff341a"/><stop offset="0.689" stop-color="#ff371c"/><stop offset="0.703" stop-color="#ff3a1d"/><stop offset="0.717" stop-color="#ff3c1e"/><stop offset="0.731" stop-color="#ff391d"/><stop offset="0.745" stop-color="#ff361b"/><stop offset="0.760" stop-color="#ff341a"/><stop offset="0.774" stop-color="#ff3119"/><stop offset="0.788" stop-color="#ff2e17"/><stop offset="0.802" stop-color="#ff2b16"/><stop offset="0.816" stop-color="#ff2c16"/><stop offset="0.830" stop-color="#ff2d17"/><stop offset="0.845" stop-color="#ff2e17"/><stop offset="0.859" stop-color="#ff3018"/><stop offset="0.873" stop-color="#ff3118"/><stop offset="0.887" stop-color="#ff2b15"/><stop offset="0.901" stop-color="#ff2512"/><stop offset="0.915" stop-color="#ff2211"/><stop offset="0.930" stop-color="#ff2211"/><stop offset="0.944" stop-color="#ff2111"/><stop offset="1.000" stop-color="#ff2111"/></linearGradient><linearGradient id="b13" gradientUnits="userSpaceOnUse" x1="194" x2="1323.5" y1="0" y2="0"><stop offset="0.000" stop-color="#ffae5e"/><stop offset="0.009" stop-color="#ffab5b"/><stop offset="0.023" stop-color="#ffa558"/><stop offset="0.037" stop-color="#ff9f54"/><stop offset="0.051" stop-color="#ff9950"/><stop offset="0.066" stop-color="#ff924d"/><stop offset="0.080" stop-color="#ff8c49"/><stop offset="0.094" stop-color="#ff8545"/><stop offset="0.108" stop-color="#ff7f42"/><stop offset="0.122" stop-color="#ff783e"/><stop offset="0.136" stop-color="#ff713a"/><stop offset="0.151" stop-color="#ff6a36"/><stop offset="0.165" stop-color="#ff6332"/><stop offset="0.179" stop-color="#ff5c2f"/><stop offset="0.193" stop-color="#ff542b"/><stop offset="0.207" stop-color="#ff4d27"/><stop offset="0.221" stop-color="#ff4523"/><stop offset="0.236" stop-color="#ff4322"/><stop offset="0.391" stop-color="#ff4322"/><stop offset="0.405" stop-color="#ff3d1f"/><stop offset="0.420" stop-color="#ff361b"/><stop offset="0.434" stop-color="#ff2f18"/><stop offset="0.448" stop-color="#ff2814"/><stop offset="0.703" stop-color="#ff2814"/><stop offset="0.717" stop-color="#ff2714"/><stop offset="0.731" stop-color="#ff2613"/><stop offset="0.745" stop-color="#ff2412"/><stop offset="0.760" stop-color="#ff2211"/><stop offset="0.774" stop-color="#ff2010"/><stop offset="0.788" stop-color="#ff1e0f"/><stop offset="0.802" stop-color="#ff1c0e"/><stop offset="0.816" stop-color="#ff1f10"/><stop offset="0.830" stop-color="#ff2312"/><stop offset="0.845" stop-color="#ff2613"/><stop offset="0.859" stop-color="#ff2a15"/><stop offset="0.873" stop-color="#ff2d17"/><stop offset="0.887" stop-color="#ff2814"/><stop offset="0.901" stop-color="#ff2312"/><stop offset="0.915" stop-color="#ff2110"/><stop offset="1.000" stop-color="#ff2110"/></linearGradient><linearGradient id="b14" gradientUnits="userSpaceOnUse" x1="194" x2="1323.5" y1="0" y2="0"><stop offset="0.000" stop-color="#dcd77a"/><stop offset="0.009" stop-color="#dfd579"/><stop offset="0.023" stop-color="#e2d176"/><stop offset="0.037" stop-color="#e6ce73"/><stop offset="0.051" stop-color="#eaca71"/><stop offset="0.066" stop-color="#eec66e"/><stop offset="0.080" stop-color="#f2c26b"/><stop offset="0.094" stop-color="#f6be68"/><stop offset="0.108" stop-color="#f9ba66"/><stop offset="0.122" stop-color="#fdb663"/><stop offset="0.136" stop-color="#ffb260"/><stop offset="0.151" stop-color="#ffae5d"/><stop offset="0.165" stop-color="#ffa95a"/><stop offset="0.179" stop-color="#ffa558"/><stop offset="0.193" stop-color="#ffa055"/><stop offset="0.207" stop-color="#ff9b52"/><stop offset="0.221" stop-color="#ff964f"/><stop offset="0.236" stop-color="#ff944e"/><stop offset="0.391" stop-color="#ff944e"/><stop offset="0.405" stop-color="#ff8445"/><stop offset="0.420" stop-color="#ff6e38"/><stop offset="0.434" stop-color="#ff562c"/><stop offset="0.448" stop-color="#ff3d1f"/><stop offset="0.462" stop-color="#ff381c"/><stop offset="0.476" stop-color="#ff3219"/><stop offset="0.490" stop-color="#ff2c16"/><stop offset="0.505" stop-color="#ff2814"/><stop offset="0.703" stop-color="#ff2814"/><stop offset="0.717" stop-color="#ff2714"/><stop offset="0.731" stop-color="#ff2613"/><stop offset="0.745" stop-color="#ff2412"/><stop offset="0.760" stop-color="#ff2211"/><stop offset="0.774" stop-color="#ff2010"/><stop offset="0.788" stop-color="#ff1e0f"/><stop offset="0.802" stop-color="#ff1c0e"/><stop offset="0.816" stop-color="#ff1f0f"/><stop offset="0.830" stop-color="#ff2211"/><stop offset="0.845" stop-color="#ff2412"/><stop offset="0.859" stop-color="#ff2714"/><stop offset="0.873" stop-color="#ff2a15"/><stop offset="0.887" stop-color="#ff2613"/><stop offset="0.901" stop-color="#ff2211"/><stop offset="0.915" stop-color="#ff2010"/><stop offset="1.000" stop-color="#ff2010"/></linearGradient><linearGradient id="b15" gradientUnits="userSpaceOnUse" x1="194" x2="1323.5" y1="0" y2="0"><stop offset="0.000" stop-color="#b4f295"/><stop offset="0.009" stop-color="#b5f194"/><stop offset="0.023" stop-color="#b8f092"/><stop offset="0.037" stop-color="#bbee90"/><stop offset="0.051" stop-color="#beec8f"/><stop offset="0.066" stop-color="#c1eb8d"/><stop offset="0.080" stop-color="#c4e98b"/><stop offset="0.094" stop-color="#c7e789"/><stop offset="0.108" stop-color="#c9e587"/><stop offset="0.122" stop-color="#cce385"/><stop offset="0.136" stop-color="#cfe183"/><stop offset="0.151" stop-color="#d2df81"/><stop offset="0.165" stop-color="#d5dd7f"/><stop offset="0.179" stop-color="#d8da7d"/><stop offset="0.193" stop-color="#dbd87b"/><stop offset="0.207" stop-color="#ddd579"/><stop offset="0.221" stop-color="#e0d377"/><stop offset="0.236" stop-color="#e1d277"/><stop offset="0.391" stop-color="#e1d277"/><stop offset="0.405" stop-color="#ebc970"/><stop offset="0.420" stop-color="#f8bc67"/><stop offset="0.434" stop-color="#ffae5e"/><stop offset="0.448" stop-color="#ff9f54"/><stop offset="0.462" stop-color="#ff8444"/><stop offset="0.476" stop-color="#ff6735"/><stop offset="0.490" stop-color="#ff4824"/><stop offset="0.505" stop-color="#ff2f18"/><stop offset="0.519" stop-color="#ff2b15"/><stop offset="0.533" stop-color="#ff2814"/><stop offset="0.703" stop-color="#ff2814"/><stop offset="0.717" stop-color="#ff2714"/><stop offset="0.731" stop-color="#ff2613"/><stop offset="0.745" stop-color="#ff2412"/><stop offset="0.760" stop-color="#ff2211"/><stop offset="0.774" stop-color="#ff2010"/><stop offset="0.788" stop-color="#ff1e0f"/><stop offset="0.802" stop-color="#ff1c0e"/><stop offset="0.816" stop-color="#ff1e0f"/><stop offset="0.830" stop-color="#ff2010"/><stop offset="0.845" stop-color="#ff2211"/><stop offset="0.859" stop-color="#ff2512"/><stop offset="0.873" stop-color="#ff2713"/><stop offset="0.887" stop-color="#ff2412"/><stop offset="0.901" stop-color="#ff2110"/><stop offset="0.915" stop-color="#ff1f10"/><stop offset="1.000" stop-color="#ff1f10"/></linearGradient><linearGradient id="b16" gradientUnits="userSpaceOnUse" x1="194" x2="1323.5" y1="0" y2="0"><stop offset="0.000" stop-color="#9dfba3"/><stop offset="0.009" stop-color="#9efba3"/><stop offset="0.023" stop-color="#a0faa2"/><stop offset="0.037" stop-color="#a2f9a0"/><stop offset="0.051" stop-color="#a3f99f"/><stop offset="0.066" stop-color="#a5f89e"/><stop offset="0.080" stop-color="#a7f89d"/><stop offset="0.094" stop-color="#a8f79c"/><stop offset="0.108" stop-color="#aaf69b"/><stop offset="0.122" stop-color="#acf59a"/><stop offset="0.136" stop-color="#aef599"/><stop offset="0.151" stop-color="#aff498"/><stop offset="0.165" stop-color="#b1f397"/><stop offset="0.179" stop-color="#b3f296"/><stop offset="0.193" stop-color="#b5f194"/><stop offset="0.207" stop-color="#b6f193"/><stop offset="0.221" stop-color="#b8f092"/><stop offset="0.236" stop-color="#b8ef92"/><stop offset="0.250" stop-color="#b8f093"/><stop offset="0.264" stop-color="#b7f093"/><stop offset="0.278" stop-color="#b6f193"/><stop offset="0.292" stop-color="#b6f194"/><stop offset="0.306" stop-color="#b5f194"/><stop offset="0.320" stop-color="#b4f295"/><stop offset="0.335" stop-color="#b4f295"/><stop offset="0.349" stop-color="#b3f296"/><stop offset="0.363" stop-color="#b3f396"/><stop offset="0.377" stop-color="#b2f396"/><stop offset="0.391" stop-color="#b2f396"/><stop offset="0.405" stop-color="#b8f093"/><stop offset="0.420" stop-color="#beec8e"/><stop offset="0.434" stop-color="#c5e88a"/><stop offset="0.448" stop-color="#cce385"/><stop offset="0.462" stop-color="#e5cf74"/><stop offset="0.476" stop-color="#feb662"/><stop offset="0.490" stop-color="#ff9850"/><stop offset="0.505" stop-color="#ff753c"/><stop offset="0.519" stop-color="#ff4623"/><stop offset="0.533" stop-color="#ff2814"/><stop offset="0.703" stop-color="#ff2814"/><stop offset="0.717" stop-color="#ff2714"/><stop offset="0.731" stop-color="#ff2613"/><stop offset="0.745" stop-color="#ff2412"/><stop offset="0.760" stop-color="#ff2211"/><stop offset="0.774" stop-color="#ff2010"/><stop offset="0.788" stop-color="#ff1e0f"/><stop offset="0.802" stop-color="#ff1c0e"/><stop offset="0.816" stop-color="#ff1d0f"/><stop offset="0.830" stop-color="#ff1f0f"/><stop offset="0.845" stop-color="#ff2010"/><stop offset="0.859" stop-color="#ff2211"/><stop offset="0.873" stop-color="#ff2312"/><stop offset="0.887" stop-color="#ff2111"/><stop offset="0.901" stop-color="#ff2010"/><stop offset="0.915" stop-color="#ff1f0f"/><stop offset="0.930" stop-color="#ff1f0f"/><stop offset="0.944" stop-color="#ff1e0f"/><stop offset="1.000" stop-color="#ff1e0f"/></linearGradient><linearGradient id="b17" gradientUnits="userSpaceOnUse" x1="194" x2="1323.5" y1="0" y2="0"><stop offset="0.000" stop-color="#90feab"/><stop offset="0.221" stop-color="#90feab"/><stop offset="0.236" stop-color="#8ffeab"/><stop offset="0.250" stop-color="#8efeac"/><stop offset="0.264" stop-color="#8dfead"/><stop offset="0.278" stop-color="#8cfead"/><stop offset="0.292" stop-color="#8afeae"/><stop offset="0.306" stop-color="#89ffaf"/><stop offset="0.320" stop-color="#88ffb0"/><stop offset="0.335" stop-color="#86ffb0"/><stop offset="0.349" stop-color="#85ffb1"/><stop offset="0.363" stop-color="#84ffb2"/><stop offset="0.391" stop-color="#84ffb2"/><stop offset="0.405" stop-color="#8bfeae"/><stop offset="0.420" stop-color="#94fda9"/><stop offset="0.434" stop-color="#9dfba4"/><stop offset="0.448" stop-color="#a5f89e"/><stop offset="0.462" stop-color="#baef91"/><stop offset="0.476" stop-color="#cfe183"/><stop offset="0.490" stop-color="#e4d075"/><stop offset="0.505" stop-color="#faba65"/><stop offset="0.519" stop-color="#ff9a51"/><stop offset="0.533" stop-color="#ff723b"/><stop offset="0.547" stop-color="#ff4121"/><stop offset="0.561" stop-color="#ff2814"/><stop offset="0.703" stop-color="#ff2814"/><stop offset="0.717" stop-color="#ff2714"/><stop offset="0.731" stop-color="#ff2613"/><stop offset="0.745" stop-color="#ff2412"/><stop offset="0.760" stop-color="#ff2211"/><stop offset="0.774" stop-color="#ff2010"/><stop offset="0.788" stop-color="#ff1e0f"/><stop offset="0.802" stop-color="#ff1c0e"/><stop offset="0.816" stop-color="#ff1d0e"/><stop offset="0.830" stop-color="#ff1e0f"/><stop offset="0.845" stop-color="#ff1e0f"/><stop offset="0.859" stop-color="#ff1f10"/><stop offset="0.873" stop-color="#ff2010"/><stop offset="0.887" stop-color="#ff1f10"/><stop offset="0.901" stop-color="#ff1e0f"/><stop offset="0.972" stop-color="#ff1e0f"/><stop offset="0.986" stop-color="#ff1d0f"/><stop offset="1.000" stop-color="#ff1d0f"/></linearGradient><linearGradient id="b18" gradientUnits="userSpaceOnUse" x1="194" x2="1323.5" y1="0" y2="0"><stop offset="0.000" stop-color="#82ffb3"/><stop offset="0.221" stop-color="#82ffb3"/><stop offset="0.236" stop-color="#81ffb4"/><stop offset="0.250" stop-color="#7fffb5"/><stop offset="0.264" stop-color="#7effb5"/><stop offset="0.278" stop-color="#7cffb6"/><stop offset="0.292" stop-color="#7affb7"/><stop offset="0.306" stop-color="#79ffb8"/><stop offset="0.320" stop-color="#77ffb9"/><stop offset="0.335" stop-color="#75feba"/><stop offset="0.349" stop-color="#74febb"/><stop offset="0.363" stop-color="#72febc"/><stop offset="0.377" stop-color="#70febd"/><stop offset="0.391" stop-color="#6ffebd"/><stop offset="0.405" stop-color="#71febc"/><stop offset="0.420" stop-color="#76ffba"/><stop offset="0.434" stop-color="#7affb7"/><stop offset="0.448" stop-color="#7fffb5"/><stop offset="0.462" stop-color="#8ffeab"/><stop offset="0.476" stop-color="#a0faa1"/><stop offset="0.490" stop-color="#b1f397"/><stop offset="0.505" stop-color="#c3e98b"/><stop offset="0.519" stop-color="#dad87c"/><stop offset="0.533" stop-color="#ffb260"/><stop offset="0.547" stop-color="#ff5a2e"/><stop offset="0.561" stop-color="#ff2814"/><stop offset="0.703" stop-color="#ff2814"/><stop offset="0.717" stop-color="#ff2714"/><stop offset="0.731" stop-color="#ff2613"/><stop offset="0.745" stop-color="#ff2412"/><stop offset="0.760" stop-color="#ff2211"/><stop offset="0.774" stop-color="#ff2010"/><stop offset="0.788" stop-color="#ff1e0f"/><stop offset="0.802" stop-color="#ff1c0e"/><stop offset="0.845" stop-color="#ff1c0e"/><stop offset="0.859" stop-color="#ff1d0e"/><stop offset="0.887" stop-color="#ff1d0e"/><stop offset="0.901" stop-color="#ff1d0f"/><stop offset="0.930" stop-color="#ff1d0f"/><stop offset="0.944" stop-color="#ff1d0e"/><stop offset="1.000" stop-color="#ff1d0e"/></linearGradient><linearGradient id="b19" gradientUnits="userSpaceOnUse" x1="194" x2="1323.5" y1="0" y2="0"><stop offset="0.000" stop-color="#76ffb9"/><stop offset="0.221" stop-color="#76ffb9"/><stop offset="0.236" stop-color="#75feba"/><stop offset="0.250" stop-color="#73febb"/><stop offset="0.264" stop-color="#71febc"/><stop offset="0.278" stop-color="#6ffebd"/><stop offset="0.292" stop-color="#6dfdbe"/><stop offset="0.306" stop-color="#6bfdbf"/><stop offset="0.320" stop-color="#69fdc0"/><stop offset="0.335" stop-color="#67fcc1"/><stop offset="0.349" stop-color="#65fcc2"/><stop offset="0.363" stop-color="#63fbc3"/><stop offset="0.377" stop-color="#5ffac5"/><stop offset="0.391" stop-color="#5cf9c7"/><stop offset="0.405" stop-color="#5bf9c7"/><stop offset="0.420" stop-color="#5cf9c7"/><stop offset="0.448" stop-color="#5cf9c7"/><stop offset="0.462" stop-color="#6bfdbf"/><stop offset="0.476" stop-color="#7affb7"/><stop offset="0.490" stop-color="#89ffaf"/><stop offset="0.505" stop-color="#97fca7"/><stop offset="0.519" stop-color="#a4f99f"/><stop offset="0.533" stop-color="#c1eb8d"/><stop offset="0.547" stop-color="#f8bc67"/><stop offset="0.561" stop-color="#ff9c52"/><stop offset="0.618" stop-color="#ff9c52"/><stop offset="0.632" stop-color="#ff954f"/><stop offset="0.646" stop-color="#ff8947"/><stop offset="0.660" stop-color="#ff7b40"/><stop offset="0.675" stop-color="#ff6d38"/><stop offset="0.689" stop-color="#ff5f30"/><stop offset="0.703" stop-color="#ff5029"/><stop offset="0.717" stop-color="#ff4322"/><stop offset="0.731" stop-color="#ff3d1f"/><stop offset="0.745" stop-color="#ff361b"/><stop offset="0.760" stop-color="#ff3018"/><stop offset="0.774" stop-color="#ff2915"/><stop offset="0.788" stop-color="#ff2311"/><stop offset="0.802" stop-color="#ff1c0e"/><stop offset="0.816" stop-color="#ff361b"/><stop offset="0.830" stop-color="#ff4f28"/><stop offset="0.845" stop-color="#ff6835"/><stop offset="0.859" stop-color="#ff7f42"/><stop offset="0.873" stop-color="#ff954e"/><stop offset="0.887" stop-color="#ff6835"/><stop offset="0.901" stop-color="#ff361b"/><stop offset="0.915" stop-color="#ff1e0f"/><stop offset="0.930" stop-color="#ff2010"/><stop offset="0.944" stop-color="#ff2211"/><stop offset="0.958" stop-color="#ff2512"/><stop offset="0.972" stop-color="#ff2713"/><stop offset="0.986" stop-color="#ff2915"/><stop offset="1.000" stop-color="#ff2b16"/></linearGradient><linearGradient id="b20" gradientUnits="userSpaceOnUse" x1="194" x2="1323.5" y1="0" y2="0"><stop offset="0.000" stop-color="#6bfdc0"/><stop offset="0.009" stop-color="#6afdc0"/><stop offset="0.023" stop-color="#69fdc0"/><stop offset="0.037" stop-color="#69fcc1"/><stop offset="0.051" stop-color="#68fcc1"/><stop offset="0.066" stop-color="#67fcc1"/><stop offset="0.080" stop-color="#66fcc2"/><stop offset="0.094" stop-color="#66fcc2"/><stop offset="0.108" stop-color="#65fcc2"/><stop offset="0.122" stop-color="#64fbc3"/><stop offset="0.136" stop-color="#63fbc3"/><stop offset="0.151" stop-color="#63fbc4"/><stop offset="0.165" stop-color="#62fbc4"/><stop offset="0.179" stop-color="#61fbc4"/><stop offset="0.193" stop-color="#60fac5"/><stop offset="0.207" stop-color="#60fac5"/><stop offset="0.221" stop-color="#5ffac6"/><stop offset="0.236" stop-color="#5df9c6"/><stop offset="0.250" stop-color="#5bf9c7"/><stop offset="0.264" stop-color="#59f8c8"/><stop offset="0.278" stop-color="#57f7c9"/><stop offset="0.292" stop-color="#55f6ca"/><stop offset="0.306" stop-color="#53f6cb"/><stop offset="0.320" stop-color="#51f5cc"/><stop offset="0.335" stop-color="#50f4cd"/><stop offset="0.349" stop-color="#4ef3ce"/><stop offset="0.363" stop-color="#4bf2cf"/><stop offset="0.377" stop-color="#47f0d1"/><stop offset="0.391" stop-color="#42edd3"/><stop offset="0.405" stop-color="#41edd3"/><stop offset="0.420" stop-color="#41edd3"/><stop offset="0.434" stop-color="#42edd3"/><stop offset="0.448" stop-color="#42edd3"/><stop offset="0.462" stop-color="#4df3ce"/><stop offset="0.476" stop-color="#59f8c9"/><stop offset="0.490" stop-color="#64fbc3"/><stop offset="0.505" stop-color="#6ffebd"/><stop offset="0.519" stop-color="#77ffb9"/><stop offset="0.533" stop-color="#86ffb1"/><stop offset="0.547" stop-color="#a1f9a1"/><stop offset="0.561" stop-color="#aff498"/><stop offset="0.618" stop-color="#aff498"/><stop offset="0.632" stop-color="#b1f397"/><stop offset="0.646" stop-color="#b5f194"/><stop offset="0.660" stop-color="#baef91"/><stop offset="0.675" stop-color="#beec8e"/><stop offset="0.689" stop-color="#c3e98b"/><stop offset="0.703" stop-color="#c7e688"/><stop offset="0.717" stop-color="#cde385"/><stop offset="0.731" stop-color="#d4de80"/><stop offset="0.745" stop-color="#dad87b"/><stop offset="0.760" stop-color="#e1d277"/><stop offset="0.774" stop-color="#e8cc72"/><stop offset="0.788" stop-color="#efc56d"/><stop offset="0.802" stop-color="#f6be68"/><stop offset="0.816" stop-color="#e9cb71"/><stop offset="0.830" stop-color="#dcd67a"/><stop offset="0.845" stop-color="#cfe183"/><stop offset="0.859" stop-color="#c2ea8c"/><stop offset="0.873" stop-color="#b5f194"/><stop offset="0.887" stop-color="#efc56d"/><stop offset="0.901" stop-color="#ff8042"/><stop offset="0.915" stop-color="#ff5c2f"/><stop offset="0.930" stop-color="#ff6534"/><stop offset="0.944" stop-color="#ff6f39"/><stop offset="0.958" stop-color="#ff783e"/><stop offset="0.972" stop-color="#ff8143"/><stop offset="0.986" stop-color="#ff8947"/><stop offset="1.000" stop-color="#ff914c"/></linearGradient><linearGradient id="b21" gradientUnits="userSpaceOnUse" x1="194" x2="1323.5" y1="0" y2="0"><stop offset="0.000" stop-color="#5ffac5"/><stop offset="0.009" stop-color="#5efac6"/><stop offset="0.023" stop-color="#5cf9c7"/><stop offset="0.037" stop-color="#5af8c8"/><stop offset="0.051" stop-color="#58f8c9"/><stop offset="0.066" stop-color="#57f7ca"/><stop offset="0.080" stop-color="#55f6ca"/><stop offset="0.094" stop-color="#53f5cb"/><stop offset="0.108" stop-color="#51f5cc"/><stop offset="0.122" stop-color="#4ff4cd"/><stop offset="0.136" stop-color="#4df3ce"/><stop offset="0.151" stop-color="#4bf2cf"/><stop offset="0.165" stop-color="#4af1d0"/><stop offset="0.179" stop-color="#48f0d0"/><stop offset="0.193" stop-color="#46efd1"/><stop offset="0.207" stop-color="#44eed2"/><stop offset="0.221" stop-color="#42edd3"/><stop offset="0.236" stop-color="#3febd4"/><stop offset="0.250" stop-color="#3be8d6"/><stop offset="0.264" stop-color="#36e5d8"/><stop offset="0.278" stop-color="#32e2da"/><stop offset="0.292" stop-color="#2edfdc"/><stop offset="0.306" stop-color="#29dcdd"/><stop offset="0.320" stop-color="#25d8df"/><stop offset="0.335" stop-color="#21d5e1"/><stop offset="0.349" stop-color="#1dd1e2"/><stop offset="0.363" stop-color="#19cee3"/><stop offset="0.377" stop-color="#18cce4"/><stop offset="0.391" stop-color="#16cbe4"/><stop offset="0.405" stop-color="#19cee3"/><stop offset="0.420" stop-color="#1ed2e2"/><stop offset="0.434" stop-color="#22d6e0"/><stop offset="0.448" stop-color="#27dade"/><stop offset="0.462" stop-color="#2fe0db"/><stop offset="0.476" stop-color="#38e6d7"/><stop offset="0.490" stop-color="#40ecd4"/><stop offset="0.505" stop-color="#47f0d1"/><stop offset="0.519" stop-color="#4af1d0"/><stop offset="0.533" stop-color="#4ff4cd"/><stop offset="0.547" stop-color="#58f7c9"/><stop offset="0.561" stop-color="#5bf8c8"/><stop offset="0.575" stop-color="#57f7c9"/><stop offset="0.590" stop-color="#54f6cb"/><stop offset="0.604" stop-color="#50f4cd"/><stop offset="0.618" stop-color="#4df3ce"/><stop offset="0.632" stop-color="#4cf2cf"/><stop offset="0.646" stop-color="#4df3ce"/><stop offset="0.660" stop-color="#4ef3cd"/><stop offset="0.675" stop-color="#50f4cd"/><stop offset="0.689" stop-color="#51f5cc"/><stop offset="0.703" stop-color="#52f5cc"/><stop offset="0.717" stop-color="#54f6cb"/><stop offset="0.731" stop-color="#56f7ca"/><stop offset="0.745" stop-color="#58f7c9"/><stop offset="0.760" stop-color="#59f8c8"/><stop offset="0.774" stop-color="#5bf9c7"/><stop offset="0.788" stop-color="#5df9c6"/><stop offset="0.802" stop-color="#5ffac5"/><stop offset="0.816" stop-color="#5ffac5"/><stop offset="0.830" stop-color="#5ffac6"/><stop offset="0.859" stop-color="#5ffac6"/><stop offset="0.873" stop-color="#5efac6"/><stop offset="0.878" stop-color="#75feba"/><stop offset="0.882" stop-color="#84ffb2"/><stop offset="0.887" stop-color="#9bfba5"/><stop offset="0.901" stop-color="#d7db7e"/><stop offset="0.915" stop-color="#f2c26b"/><stop offset="0.930" stop-color="#edc76e"/><stop offset="0.944" stop-color="#e9cb72"/><stop offset="0.958" stop-color="#e4d075"/><stop offset="0.972" stop-color="#dfd478"/><stop offset="0.986" stop-color="#dad87c"/><stop offset="1.000" stop-color="#d6dc7f"/></linearGradient></defs><g clip-path="url(#ca)">
<path d="M629.6,-5 629.6,150.6 644,154.7 652,158.7 660,162.7 666.6,167.5 676,171.1 681,173 692,182 697,185.4 711.5,195.4 713,196.4 719.5,194 729,199.6 735.6,207.6 747,227 751.7,230 759.7,231.7 764.5,236.6 767.7,239.8 779,252.6 780.6,253.9 788.6,260.6 792,262.1 792,-5 792,273.2 788.6,272 780.6,269.2 779,268.6 767.7,264 764.5,262.7 759.7,259.1 751.7,253.2 747,249.7 735.6,238.6 729,232.2 719.5,224.3 713,218.9 711.5,217.7 697,204.7 692,200.6 681,191.4 676,187.3 666.6,181 660,176.6 652,171.2 644,165.5 629.6,155.2Z" fill="#6628fe"/><path d="M1182,329 1186,319.5 1188,318.4 1200,312.1 1210,306.8 1220,301.5 1232,296.2 1252,287.5 1256,285.3 1270,277.4 1280,271.8 1300,260.6 1302,259.5 1323,252.7 1323.5,252.5 1324.5,450 1182,450Z" fill="url(#dzsa)"/>
<path d="M193,-5 629.6,-5 629.6,154.5 632,156.2 644,164.8 656,173.2 668,181.2 680,189.9 692,199.9 704,210.3 716,220.7 728,230.7 740,242.2 752,252.7 764,261.6 776,266.6 788,271.1 792,272.5 792,-5 1324.5,-5 1324.5,219.3 1323.5,219.3 1316,221.9 1304,226.4 1292,230.9 1280,235.5 1268,239.8 1256,243.9 1244,247.6 1232,251.8 1220,256.2 1208,260.5 1196,263.9 1186,266.7 1184,267.5 1182,268.2 1172,270.6 1160,278.4 1148,280.4 1136,282.5 1124,284.7 1112,288.4 1100,293.7 1088,297.1 1076,300.5 1064,303.8 1052,305.9 1040,307.9 1028,310.4 1016,313.1 1004,316.7 992,318.3 980,319 968,318.3 956,312.4 944,310.9 932,308.9 920,306.2 908,303.5 896,300.7 884,298.4 872,295.2 860,291.4 848,287.1 836,283.1 824,279.3 812,275.5 800,271.5 792.1,268.2 792,275.2 788,273.9 776,269.4 764,264.5 752,255.7 740,245.4 728,234.2 716,224.5 704,214.3 692,203.7 680,193.8 668,185.1 656,177.2 644,168.8 632,160 629.6,158.3 629.5,157.4 620,153 608,147.4 596,141.8 584,135.5 572,129.4 560,123.4 548,118.1 536,112.7 524,107.1 512,101.3 500,95.4 488,91.2 476,87.2 464,83.8 452,79.9 440,76.2 428,73.3 416,70.4 404,67.6 392,64.8 380,62.1 368,59.7 356,57.5 344,54.9 332,52.1 320,50.3 308,49.1 296,47.7 284,45.8 272,44.7 260,44.2 248,43.6 236,42.7 224,42.4 212,42.2 200,41.9 194,41.8 193,41.8Z" fill="url(#a0)"/>
<path d="M193,41.1 194,41.1 200,41.2 212,41.5 224,41.7 236,42 248,42.9 260,43.5 272,44 284,45.1 296,47 308,48.4 320,49.6 332,51.4 344,54.2 356,56.8 368,59 380,61.4 392,64.1 404,66.9 416,69.7 428,72.6 440,75.5 452,79.2 464,83.1 476,86.5 488,90.5 500,94.7 512,100.6 524,106.4 536,112 548,117.4 560,122.7 572,128.8 584,134.8 596,141.1 608,146.7 620,152.3 629.5,156.7 629.6,157.6 632,159.3 644,168.1 656,176.5 668,184.4 680,193.1 692,203 704,213.6 716,223.8 728,233.5 740,244.7 752,255 764,263.8 776,268.7 788,273.2 792,274.6 792.1,267.5 800,270.8 812,274.8 824,278.6 836,282.4 848,286.4 860,290.7 872,294.5 884,297.7 896,300 908,302.8 920,305.5 932,308.2 944,310.2 956,311.7 968,317.6 980,318.3 992,317.6 1004,316 1016,312.4 1028,309.7 1040,307.2 1052,305.2 1064,303.1 1076,299.8 1088,296.4 1100,293 1112,287.7 1124,284 1136,281.8 1148,279.7 1160,277.7 1172,269.9 1182,267.5 1184,266.8 1186,266 1196,263.2 1208,259.8 1220,255.5 1232,251.1 1244,246.9 1256,243.2 1268,239.1 1280,234.8 1292,230.2 1304,225.7 1316,221.2 1323.5,218.6 1324.5,218.6 1324.5,221 1323.5,221 1316,223.6 1304,228 1292,232.6 1280,237.3 1268,241.7 1256,246 1244,249.7 1232,254 1220,258.5 1208,262.9 1196,266.4 1186,269.3 1184,270.2 1182,271.1 1172,273.5 1160,281.1 1148,283.2 1136,285.4 1124,287.8 1112,291.6 1100,297 1088,300.3 1076,303.7 1064,307 1052,309 1040,311.1 1028,313.6 1016,316.4 1004,319.8 992,321.4 980,322 968,321.3 956,315.6 944,314 932,312.1 920,309.3 908,306.6 896,303.8 884,301.4 872,298 860,294.2 848,289.8 836,285.6 824,281.8 812,277.9 800,273.9 792.1,270.6 792,277.3 788,275.9 776,271.5 764,266.7 752,258 740,247.8 728,236.9 716,227.6 704,217.6 692,206.9 680,197 668,188.3 656,180.4 644,172.1 632,163.1 629.6,161.4 629.5,160.6 620,156 608,150.3 596,144.8 584,138.2 572,132.2 560,126.2 548,120.8 536,115.5 524,110 512,104 500,98.2 488,93.9 476,90 464,86.6 452,82.4 440,78.8 428,75.9 416,73 404,70 392,67.2 380,64.5 368,62.1 356,60.1 344,57.3 332,54.5 320,52.7 308,51.7 296,50.4 284,48.4 272,47.3 260,47 248,46.4 236,45.3 224,45 212,44.8 200,44.5 194,44.4 193,44.4Z" fill="url(#a1)"/>
<path d="M193,43.7 194,43.7 200,43.8 212,44.1 224,44.3 236,44.6 248,45.7 260,46.3 272,46.6 284,47.7 296,49.7 308,51 320,52 332,53.8 344,56.6 356,59.4 368,61.4 380,63.8 392,66.5 404,69.3 416,72.3 428,75.2 440,78.1 452,81.7 464,85.9 476,89.2 488,93.2 500,97.5 512,103.3 524,109.3 536,114.8 548,120.1 560,125.5 572,131.5 584,137.5 596,144.1 608,149.6 620,155.3 629.5,159.9 629.6,160.7 632,162.4 644,171.4 656,179.7 668,187.6 680,196.3 692,206.2 704,216.9 716,226.9 728,236.2 740,247.1 752,257.3 764,266 776,270.8 788,275.2 792,276.6 792.1,269.9 800,273.2 812,277.2 824,281.1 836,284.9 848,289.1 860,293.5 872,297.3 884,300.7 896,303.1 908,305.9 920,308.6 932,311.4 944,313.3 956,314.9 968,320.6 980,321.3 992,320.7 1004,319.1 1016,315.7 1028,312.9 1040,310.4 1052,308.3 1064,306.3 1076,303 1088,299.6 1100,296.3 1112,290.9 1124,287.1 1136,284.7 1148,282.5 1160,280.4 1172,272.8 1182,270.4 1184,269.5 1186,268.6 1196,265.7 1208,262.2 1220,257.8 1232,253.3 1244,249 1256,245.3 1268,241 1280,236.6 1292,231.9 1304,227.3 1316,222.9 1323.5,220.3 1324.5,220.3 1324.5,222.6 1323.5,222.6 1316,225.2 1304,229.6 1292,234.3 1280,239.1 1268,243.6 1256,248 1244,251.9 1232,256.2 1220,260.7 1208,265.2 1196,268.8 1186,271.9 1184,273 1182,274.1 1172,276.4 1160,283.7 1148,285.9 1136,288.2 1124,290.9 1112,294.9 1100,300.3 1088,303.6 1076,306.8 1064,310.1 1052,312.2 1040,314.2 1028,316.9 1016,319.6 1004,323 992,324.5 980,325.1 968,324.3 956,318.8 944,317.2 932,315.2 920,312.5 908,309.6 896,306.8 884,304.4 872,300.9 860,296.9 848,292.4 836,288.2 824,284.2 812,280.2 800,276.2 792.1,273 792,279.3 788,278 776,273.6 764,268.8 752,260.3 740,250.3 728,239.7 716,230.6 704,220.9 692,210.1 680,200.2 668,191.4 656,183.7 644,175.5 632,166.2 629.6,164.5 629.5,163.7 620,159.1 608,153.3 596,147.8 584,141 572,134.9 560,128.9 548,123.6 536,118.3 524,112.8 512,106.7 500,100.9 488,96.6 476,92.7 464,89.5 452,85 440,81.3 428,78.5 416,75.6 404,72.5 392,69.7 380,66.9 368,64.5 356,62.6 344,59.8 332,56.8 320,55 308,54.3 296,53.1 284,50.9 272,49.8 260,49.7 248,49.3 236,47.8 224,47.6 212,47.4 200,47.2 194,47 193,47Z" fill="url(#a2)"/>
<path d="M193,46.3 194,46.3 200,46.5 212,46.7 224,46.9 236,47.1 248,48.6 260,49 272,49.1 284,50.2 296,52.4 308,53.6 320,54.3 332,56.1 344,59.1 356,61.9 368,63.8 380,66.2 392,69 404,71.8 416,74.9 428,77.8 440,80.6 452,84.3 464,88.8 476,92 488,95.9 500,100.2 512,106 524,112.1 536,117.6 548,122.9 560,128.2 572,134.2 584,140.3 596,147.2 608,152.6 620,158.4 629.5,163 629.6,163.8 632,165.5 644,174.8 656,183 668,190.7 680,199.5 692,209.4 704,220.2 716,229.9 728,239 740,249.6 752,259.6 764,268.1 776,272.9 788,277.3 792,278.6 792.1,272.3 800,275.5 812,279.5 824,283.5 836,287.5 848,291.7 860,296.2 872,300.2 884,303.7 896,306.1 908,308.9 920,311.8 932,314.6 944,316.5 956,318.1 968,323.6 980,324.4 992,323.8 1004,322.3 1016,318.9 1028,316.2 1040,313.5 1052,311.5 1064,309.4 1076,306.1 1088,302.9 1100,299.6 1112,294.2 1124,290.2 1136,287.5 1148,285.2 1160,283 1172,275.7 1182,273.4 1184,272.3 1186,271.2 1196,268.1 1208,264.5 1220,260 1232,255.5 1244,251.2 1256,247.3 1268,242.9 1280,238.4 1292,233.6 1304,228.9 1316,224.5 1323.5,221.9 1324.5,221.9 1324.5,224.2 1323.5,224.2 1316,226.8 1304,231.2 1292,236 1280,240.8 1268,245.5 1256,250 1244,254 1232,258.3 1220,262.9 1208,267.5 1196,271.3 1186,274.4 1184,275.7 1182,277 1172,279.3 1160,286.4 1148,288.6 1136,291.1 1124,294 1112,298.1 1100,303.6 1088,306.8 1076,310 1064,313.3 1052,315.4 1040,317.4 1028,320.2 1016,322.8 1004,326.1 992,327.6 980,328.1 968,327.3 956,322.1 944,320.4 932,318.4 920,315.6 908,312.7 896,309.8 884,307.3 872,303.8 860,299.6 848,295.1 836,290.7 824,286.7 812,282.6 800,278.6 792.1,275.4 792,281.4 788,280 776,275.7 764,271 752,262.6 740,252.7 728,242.5 716,233.7 704,224.2 692,213.2 680,203.4 668,194.6 656,187 644,178.8 632,169.4 629.6,167.7 629.5,166.9 620,162.2 608,156.3 596,150.9 584,143.8 572,137.7 560,131.6 548,126.3 536,121.2 524,115.7 512,109.3 500,103.6 488,99.3 476,95.4 464,92.3 452,87.6 440,83.9 428,81.1 416,78.1 404,74.9 392,72.1 380,69.3 368,66.9 356,65.2 344,62.2 332,59.2 320,57.4 308,56.9 296,55.8 284,53.5 272,52.4 260,52.5 248,52.2 236,50.4 224,50.2 212,50 200,49.8 194,49.7 193,49.7Z" fill="url(#a3)"/>
<path d="M193,49 194,49 200,49.1 212,49.3 224,49.5 236,49.7 248,51.5 260,51.8 272,51.7 284,52.8 296,55.1 308,56.2 320,56.7 332,58.5 344,61.5 356,64.5 368,66.2 380,68.6 392,71.4 404,74.2 416,77.4 428,80.4 440,83.2 452,86.9 464,91.6 476,94.7 488,98.6 500,102.9 512,108.6 524,115 536,120.5 548,125.6 560,130.9 572,137 584,143.1 596,150.2 608,155.6 620,161.5 629.5,166.2 629.6,167 632,168.7 644,178.1 656,186.3 668,193.9 680,202.7 692,212.5 704,223.5 716,233 728,241.8 740,252 752,261.9 764,270.3 776,275 788,279.3 792,280.7 792.1,274.7 800,277.9 812,281.9 824,286 836,290 848,294.4 860,298.9 872,303.1 884,306.6 896,309.1 908,312 920,314.9 932,317.7 944,319.7 956,321.4 968,326.6 980,327.4 992,326.9 1004,325.4 1016,322.1 1028,319.5 1040,316.7 1052,314.7 1064,312.6 1076,309.3 1088,306.1 1100,302.9 1112,297.4 1124,293.3 1136,290.4 1148,287.9 1160,285.7 1172,278.6 1182,276.3 1184,275 1186,273.7 1196,270.6 1208,266.8 1220,262.2 1232,257.6 1244,253.3 1256,249.3 1268,244.8 1280,240.1 1292,235.3 1304,230.5 1316,226.1 1323.5,223.5 1324.5,223.5 1324.5,225.9 1323.5,225.9 1316,228.4 1304,232.8 1292,237.7 1280,242.6 1268,247.4 1256,252 1244,256.1 1232,260.5 1220,265.1 1208,269.8 1196,273.7 1186,277 1184,278.5 1182,280 1172,282.2 1160,289.1 1148,291.3 1136,293.9 1124,297.1 1112,301.4 1100,306.8 1088,310 1076,313.2 1064,316.4 1052,318.5 1040,320.6 1028,323.4 1016,326.1 1004,329.3 992,330.7 980,331.1 968,330.3 956,325.3 944,323.6 932,321.6 920,318.7 908,315.8 896,312.9 884,310.3 872,306.6 860,302.3 848,297.7 836,293.3 824,289.1 812,285 800,280.9 792.1,277.7 792,283.4 788,282.1 776,277.8 764,273.1 752,264.9 740,255.2 728,245.3 716,236.8 704,227.5 692,216.4 680,206.5 668,197.8 656,190.3 644,182.1 632,172.5 629.6,170.8 629.5,170 620,165.2 608,159.3 596,153.9 584,146.6 572,140.4 560,134.3 548,129.1 536,124 524,118.6 512,112 500,106.3 488,102 476,98.1 464,95.2 452,90.2 440,86.4 428,83.7 416,80.7 404,77.4 392,74.5 380,71.7 368,69.3 356,67.8 344,64.6 332,61.6 320,59.7 308,59.5 296,58.6 284,56 272,54.9 260,55.3 248,55 236,53 224,52.8 212,52.6 200,52.4 194,52.3 193,52.3Z" fill="url(#a4)"/>
<path d="M193,51.6 194,51.6 200,51.7 212,51.9 224,52.1 236,52.3 248,54.3 260,54.6 272,54.2 284,55.3 296,57.9 308,58.8 320,59 332,60.9 344,63.9 356,67.1 368,68.6 380,71 392,73.8 404,76.7 416,80 428,83 440,85.7 452,89.5 464,94.5 476,97.4 488,101.3 500,105.6 512,111.3 524,117.9 536,123.3 548,128.4 560,133.6 572,139.8 584,145.9 596,153.2 608,158.6 620,164.5 629.5,169.3 629.6,170.1 632,171.8 644,181.4 656,189.6 668,197.1 680,205.8 692,215.7 704,226.8 716,236.1 728,244.6 740,254.5 752,264.2 764,272.4 776,277.1 788,281.4 792,282.8 792.1,277 800,280.2 812,284.3 824,288.4 836,292.6 848,297 860,301.6 872,305.9 884,309.6 896,312.2 908,315.1 920,318 932,320.9 944,322.9 956,324.6 968,329.6 980,330.4 992,330 1004,328.6 1016,325.4 1028,322.7 1040,319.9 1052,317.8 1064,315.7 1076,312.5 1088,309.3 1100,306.1 1112,300.7 1124,296.4 1136,293.2 1148,290.6 1160,288.4 1172,281.5 1182,279.3 1184,277.8 1186,276.3 1196,273 1208,269.1 1220,264.4 1232,259.8 1244,255.4 1256,251.3 1268,246.7 1280,241.9 1292,237 1304,232.1 1316,227.7 1323.5,225.2 1324.5,225.2 1324.5,227.5 1323.5,227.5 1316,230.1 1304,234.4 1292,239.3 1280,244.4 1268,249.3 1256,254.1 1244,258.2 1232,262.7 1220,267.3 1208,272.1 1196,276.2 1186,279.6 1184,281.3 1182,282.9 1172,285.2 1160,291.8 1148,294.1 1136,296.8 1124,300.3 1112,304.6 1100,310.1 1088,313.3 1076,316.4 1064,319.6 1052,321.7 1040,323.8 1028,326.7 1016,329.3 1004,332.5 992,333.7 980,334.1 968,333.3 956,328.5 944,326.7 932,324.7 920,321.8 908,318.9 896,315.9 884,313.3 872,309.5 860,305.1 848,300.4 836,295.8 824,291.6 812,287.4 800,283.2 792.1,280.1 792,285.5 788,284.2 776,279.9 764,275.3 752,267.2 740,257.7 728,248.1 716,239.8 704,230.8 692,219.6 680,209.7 668,201 656,193.6 644,185.5 632,175.6 629.6,173.9 629.5,173.2 620,168.3 608,162.3 596,157 584,149.3 572,143.2 560,137.1 548,131.8 536,126.8 524,121.5 512,114.7 500,109.1 488,104.7 476,100.8 464,98 452,92.7 440,89 428,86.3 416,83.3 404,79.9 392,76.9 380,74.1 368,71.7 356,70.4 344,67 332,64 320,62.1 308,62.2 296,61.3 284,58.5 272,57.5 260,58 248,57.9 236,55.5 224,55.4 212,55.2 200,55 194,54.9 193,54.9Z" fill="url(#a5)"/>
<path d="M193,54.2 194,54.2 200,54.3 212,54.5 224,54.7 236,54.8 248,57.2 260,57.3 272,56.8 284,57.8 296,60.6 308,61.5 320,61.4 332,63.3 344,66.3 356,69.7 368,71 380,73.4 392,76.2 404,79.2 416,82.6 428,85.6 440,88.3 452,92 464,97.3 476,100.1 488,104 500,108.4 512,114 524,120.8 536,126.1 548,131.1 560,136.4 572,142.5 584,148.6 596,156.3 608,161.6 620,167.6 629.5,172.5 629.6,173.2 632,174.9 644,184.8 656,192.9 668,200.3 680,209 692,218.9 704,230.1 716,239.1 728,247.4 740,257 752,266.5 764,274.6 776,279.2 788,283.5 792,284.8 792.1,279.4 800,282.5 812,286.7 824,290.9 836,295.1 848,299.7 860,304.4 872,308.8 884,312.6 896,315.2 908,318.2 920,321.1 932,324 944,326 956,327.8 968,332.6 980,333.4 992,333 1004,331.8 1016,328.6 1028,326 1040,323.1 1052,321 1064,318.9 1076,315.7 1088,312.6 1100,309.4 1112,303.9 1124,299.6 1136,296.1 1148,293.4 1160,291.1 1172,284.5 1182,282.2 1184,280.6 1186,278.9 1196,275.5 1208,271.4 1220,266.6 1232,262 1244,257.5 1256,253.4 1268,248.6 1280,243.7 1292,238.6 1304,233.7 1316,229.4 1323.5,226.8 1324.5,226.8 1324.5,229.2 1323.5,229.2 1316,231.7 1304,236 1292,241 1280,246.2 1268,251.2 1256,256.1 1244,260.4 1232,264.8 1220,269.5 1208,274.4 1196,278.6 1186,282.2 1184,284 1182,285.9 1172,288.1 1160,294.5 1148,296.8 1136,299.6 1124,303.4 1112,307.9 1100,313.4 1088,316.5 1076,319.6 1064,322.7 1052,324.8 1040,327 1028,330 1016,332.5 1004,335.6 992,336.8 980,337.1 968,336.3 956,331.7 944,329.9 932,327.9 920,324.9 908,321.9 896,319 884,316.3 872,312.3 860,307.8 848,303 836,298.4 824,294 812,289.8 800,285.6 792.1,282.5 792,287.6 788,286.2 776,282 764,277.5 752,269.5 740,260.1 728,250.9 716,242.9 704,234.1 692,222.7 680,212.9 668,204.1 656,196.8 644,188.8 632,178.7 629.6,177 629.5,176.4 620,171.4 608,165.3 596,160 584,152.1 572,145.9 560,139.8 548,134.6 536,129.7 524,124.3 512,117.4 500,111.8 488,107.4 476,103.6 464,100.9 452,95.3 440,91.5 428,88.9 416,85.9 404,82.3 392,79.3 380,76.5 368,74.1 356,73 344,69.4 332,66.4 320,64.4 308,64.8 296,64 284,61.1 272,60 260,60.8 248,60.7 236,58.1 224,57.9 212,57.8 200,57.6 194,57.5 193,57.5Z" fill="url(#a6)"/>
<path d="M193,56.8 194,56.8 200,56.9 212,57.1 224,57.2 236,57.4 248,60 260,60.1 272,59.3 284,60.4 296,63.3 308,64.1 320,63.7 332,65.7 344,68.7 356,72.3 368,73.4 380,75.8 392,78.6 404,81.6 416,85.2 428,88.2 440,90.8 452,94.6 464,100.2 476,102.9 488,106.7 500,111.1 512,116.7 524,123.6 536,129 548,133.9 560,139.1 572,145.2 584,151.4 596,159.3 608,164.6 620,170.7 629.5,175.7 629.6,176.3 632,178 644,188.1 656,196.1 668,203.4 680,212.2 692,222 704,233.4 716,242.2 728,250.2 740,259.4 752,268.8 764,276.8 776,281.3 788,285.5 792,286.9 792.1,281.8 800,284.9 812,289.1 824,293.3 836,297.7 848,302.3 860,307.1 872,311.6 884,315.6 896,318.3 908,321.2 920,324.2 932,327.2 944,329.2 956,331 968,335.6 980,336.4 992,336.1 1004,334.9 1016,331.8 1028,329.3 1040,326.3 1052,324.1 1064,322 1076,318.9 1088,315.8 1100,312.7 1112,307.2 1124,302.7 1136,298.9 1148,296.1 1160,293.8 1172,287.4 1182,285.2 1184,283.3 1186,281.5 1196,277.9 1208,273.7 1220,268.8 1232,264.1 1244,259.7 1256,255.4 1268,250.5 1280,245.5 1292,240.3 1304,235.3 1316,231 1323.5,228.5 1324.5,228.5 1324.5,230.8 1323.5,230.8 1316,233.3 1304,237.6 1292,242.7 1280,248 1268,253.1 1256,258.1 1244,262.5 1232,267 1220,271.7 1208,276.7 1196,281.1 1186,284.7 1184,286.8 1182,288.8 1172,291 1160,297.2 1148,299.5 1136,302.5 1124,306.5 1112,311.1 1100,316.7 1088,319.8 1076,322.8 1064,325.9 1052,328 1040,330.2 1028,333.3 1016,335.8 1004,338.8 992,339.9 980,340.1 968,339.3 956,334.9 944,333.1 932,331 920,328 908,325 896,322 884,319.2 872,315.2 860,310.5 848,305.7 836,300.9 824,296.5 812,292.2 800,287.9 792.1,284.9 792,289.6 788,288.3 776,284.1 764,279.6 752,271.8 740,262.6 728,253.7 716,246 704,237.4 692,225.9 680,216.1 668,207.3 656,200.1 644,192.1 632,181.8 629.6,180.1 629.5,179.5 620,174.4 608,168.2 596,163.1 584,154.9 572,148.7 560,142.5 548,137.3 536,132.5 524,127.2 512,120 500,114.5 488,110.1 476,106.3 464,103.7 452,97.9 440,94.1 428,91.5 416,88.5 404,84.8 392,81.7 380,78.9 368,76.5 356,75.6 344,71.8 332,68.8 320,66.8 308,67.4 296,66.7 284,63.6 272,62.6 260,63.5 248,63.6 236,60.7 224,60.5 212,60.4 200,60.2 194,60.1 193,60.1Z" fill="url(#a7)"/>
<path d="M193,59.4 194,59.4 200,59.5 212,59.7 224,59.8 236,60 248,62.9 260,62.8 272,61.9 284,62.9 296,66 308,66.7 320,66.1 332,68.1 344,71.1 356,74.9 368,75.8 380,78.2 392,81 404,84.1 416,87.8 428,90.8 440,93.4 452,97.2 464,103 476,105.6 488,109.4 500,113.8 512,119.3 524,126.5 536,131.8 548,136.6 560,141.8 572,148 584,154.2 596,162.4 608,167.5 620,173.7 629.5,178.8 629.6,179.4 632,181.1 644,191.4 656,199.4 668,206.6 680,215.4 692,225.2 704,236.7 716,245.3 728,253 740,261.9 752,271.1 764,278.9 776,283.4 788,287.6 792,288.9 792.1,284.2 800,287.2 812,291.5 824,295.8 836,300.2 848,305 860,309.8 872,314.5 884,318.6 896,321.3 908,324.3 920,327.3 932,330.3 944,332.4 956,334.2 968,338.6 980,339.4 992,339.2 1004,338.1 1016,335.1 1028,332.6 1040,329.5 1052,327.3 1064,325.2 1076,322.1 1088,319.1 1100,316 1112,310.4 1124,305.8 1136,301.8 1148,298.8 1160,296.5 1172,290.3 1182,288.1 1184,286.1 1186,284 1196,280.4 1208,276 1220,271 1232,266.3 1244,261.8 1256,257.4 1268,252.4 1280,247.3 1292,242 1304,236.9 1316,232.6 1323.5,230.1 1324.5,230.1 1324.5,232.4 1323.5,232.4 1316,235 1304,239.2 1292,244.4 1280,249.8 1268,255 1256,260.1 1244,264.6 1232,269.2 1220,273.9 1208,279 1196,283.5 1186,287.3 1184,289.6 1182,291.8 1172,293.9 1160,299.8 1148,302.2 1136,305.3 1124,309.6 1112,314.4 1100,320 1088,323 1076,326 1064,329 1052,331.2 1040,333.3 1028,336.5 1016,339 1004,341.9 992,343 980,343.1 968,342.3 956,338.1 944,336.3 932,334.1 920,331.2 908,328.1 896,325 884,322.2 872,318.1 860,313.2 848,308.3 836,303.5 824,298.9 812,294.5 800,290.3 792.1,287.3 792,291.6 788,290.3 776,286.2 764,281.8 752,274.1 740,265 728,256.5 716,249 704,240.7 692,229.1 680,219.3 668,210.5 656,203.4 644,195.4 632,184.9 629.6,183.2 629.5,182.7 620,177.5 608,171.2 596,166.1 584,157.7 572,151.4 560,145.2 548,140.1 536,135.3 524,130.1 512,122.7 500,117.2 488,112.8 476,109 464,106.6 452,100.5 440,96.6 428,94.1 416,91.1 404,87.2 392,84.2 380,81.2 368,78.9 356,78.1 344,74.3 332,71.1 320,69.1 308,70 296,69.5 284,66.2 272,65.1 260,66.3 248,66.5 236,63.3 224,63.1 212,63 200,62.8 194,62.7 193,62.7Z" fill="url(#a8)"/>
<path d="M193,62 194,62 200,62.1 212,62.3 224,62.4 236,62.6 248,65.8 260,65.6 272,64.4 284,65.5 296,68.8 308,69.3 320,68.4 332,70.4 344,73.6 356,77.4 368,78.2 380,80.5 392,83.5 404,86.5 416,90.4 428,93.4 440,95.9 452,99.8 464,105.9 476,108.3 488,112.1 500,116.5 512,122 524,129.4 536,134.6 548,139.4 560,144.5 572,150.8 584,157 596,165.4 608,170.5 620,176.8 629.5,182 629.6,182.6 632,184.2 644,194.7 656,202.7 668,209.8 680,218.6 692,228.4 704,240 716,248.3 728,255.8 740,264.3 752,273.4 764,281.1 776,285.5 788,289.6 792,290.9 792.1,286.6 800,289.6 812,293.8 824,298.2 836,302.8 848,307.6 860,312.5 872,317.4 884,321.5 896,324.3 908,327.4 920,330.5 932,333.4 944,335.6 956,337.4 968,341.6 980,342.4 992,342.3 1004,341.2 1016,338.3 1028,335.8 1040,332.6 1052,330.5 1064,328.3 1076,325.3 1088,322.3 1100,319.3 1112,313.7 1124,308.9 1136,304.6 1148,301.5 1160,299.1 1172,293.2 1182,291.1 1184,288.9 1186,286.6 1196,282.8 1208,278.3 1220,273.2 1232,268.5 1244,263.9 1256,259.4 1268,254.3 1280,249.1 1292,243.7 1304,238.5 1316,234.3 1323.5,231.7 1324.5,231.7 1324.5,234.1 1323.5,234.1 1316,236.6 1304,240.8 1292,246.1 1280,251.6 1268,256.9 1256,262.2 1244,266.7 1232,271.4 1220,276.2 1208,281.3 1196,286 1186,289.9 1184,292.3 1182,294.7 1172,296.8 1160,302.5 1148,305 1136,308.2 1124,312.7 1112,317.6 1100,323.3 1088,326.2 1076,329.2 1064,332.2 1052,334.3 1040,336.5 1028,339.8 1016,342.2 1004,345.1 992,346.1 980,346.1 968,345.3 956,341.3 944,339.4 932,337.3 920,334.3 908,331.2 896,328.1 884,325.2 872,320.9 860,316 848,311 836,306 824,301.4 812,296.9 800,292.6 792.1,289.7 792,293.7 788,292.4 776,288.3 764,284 752,276.4 740,267.5 728,259.2 716,252.1 704,244 692,232.3 680,222.5 668,213.6 656,206.7 644,198.8 632,188 629.6,186.4 629.5,185.8 620,180.6 608,174.2 596,169.2 584,160.4 572,154.2 560,148 548,142.8 536,138.1 524,132.9 512,125.4 500,120 488,115.5 476,111.8 464,109.4 452,103 440,99.2 428,96.7 416,93.7 404,89.7 392,86.6 380,83.6 368,81.2 356,80.7 344,76.7 332,73.5 320,71.5 308,72.6 296,72.2 284,68.7 272,67.7 260,69.1 248,69.3 236,65.8 224,65.7 212,65.5 200,65.4 194,65.3 193,65.3Z" fill="url(#a9)"/>
<path d="M193,64.6 194,64.6 200,64.7 212,64.8 224,65 236,65.1 248,68.6 260,68.4 272,67 284,68 296,71.5 308,71.9 320,70.8 332,72.8 344,76 356,80 368,80.5 380,82.9 392,85.9 404,89 416,93 428,96 440,98.5 452,102.3 464,108.7 476,111 488,114.8 500,119.3 512,124.7 524,132.2 536,137.4 548,142.1 560,147.3 572,153.5 584,159.7 596,168.5 608,173.5 620,179.9 629.5,185.1 629.6,185.7 632,187.3 644,198.1 656,206 668,212.9 680,221.8 692,231.6 704,243.3 716,251.4 728,258.5 740,266.8 752,275.7 764,283.3 776,287.6 788,291.7 792,293 792.1,289 800,291.9 812,296.2 824,300.7 836,305.3 848,310.3 860,315.3 872,320.2 884,324.5 896,327.4 908,330.5 920,333.6 932,336.6 944,338.7 956,340.6 968,344.6 980,345.4 992,345.4 1004,344.4 1016,341.5 1028,339.1 1040,335.8 1052,333.6 1064,331.5 1076,328.5 1088,325.5 1100,322.6 1112,316.9 1124,312 1136,307.5 1148,304.3 1160,301.8 1172,296.1 1182,294 1184,291.6 1186,289.2 1196,285.3 1208,280.6 1220,275.5 1232,270.7 1244,266 1256,261.5 1268,256.2 1280,250.9 1292,245.4 1304,240.1 1316,235.9 1323.5,233.4 1324.5,233.4 1324.5,235.7 1323.5,235.7 1316,238.2 1304,242.4 1292,247.8 1280,253.4 1268,258.8 1256,264.2 1244,268.8 1232,273.5 1220,278.4 1208,283.6 1196,288.4 1186,292.4 1184,295.1 1182,297.7 1172,299.7 1160,305.2 1148,307.7 1136,311 1124,315.8 1112,320.9 1100,326.6 1088,329.5 1076,332.4 1064,335.3 1052,337.5 1040,339.7 1028,343.1 1016,345.5 1004,348.3 992,349.2 980,349.1 968,348.3 956,344.6 944,342.6 932,340.4 920,337.4 908,334.2 896,331.1 884,328.2 872,323.8 860,318.7 848,313.6 836,308.6 824,303.8 812,299.3 800,294.9 792.1,292.1 792,295.8 788,294.4 776,290.4 764,286.1 752,278.7 740,270 728,262 716,255.2 704,247.3 692,235.4 680,225.7 668,216.8 656,210 644,202.1 632,191.1 629.6,189.5 629.5,189 620,183.6 608,177.2 596,172.2 584,163.2 572,156.9 560,150.7 548,145.6 536,141 524,135.8 512,128.1 500,122.7 488,118.2 476,114.5 464,112.3 452,105.6 440,101.7 428,99.3 416,96.2 404,92.2 392,89 380,86 368,83.6 356,83.3 344,79.1 332,75.9 320,73.8 308,75.2 296,74.9 284,71.2 272,70.2 260,71.8 248,72.2 236,68.4 224,68.3 212,68.1 200,68 194,68 193,68Z" fill="url(#a10)"/>
<path d="M193,67.2 194,67.2 200,67.3 212,67.4 224,67.6 236,67.7 248,71.5 260,71.1 272,69.5 284,70.5 296,74.2 308,74.5 320,73.1 332,75.2 344,78.4 356,82.6 368,82.9 380,85.3 392,88.3 404,91.5 416,95.5 428,98.6 440,101 452,104.9 464,111.6 476,113.8 488,117.5 500,122 512,127.4 524,135.1 536,140.3 548,144.9 560,150 572,156.2 584,162.5 596,171.6 608,176.5 620,182.9 629.5,188.3 629.6,188.8 632,190.4 644,201.4 656,209.3 668,216.1 680,225 692,234.7 704,246.6 716,254.5 728,261.3 740,269.3 752,278 764,285.4 776,289.7 788,293.7 792,295.1 792.1,291.4 800,294.2 812,298.6 824,303.1 836,307.9 848,312.9 860,318 872,323.1 884,327.5 896,330.4 908,333.5 920,336.7 932,339.8 944,341.9 956,343.9 968,347.6 980,348.4 992,348.5 1004,347.6 1016,344.8 1028,342.4 1040,339 1052,336.8 1064,334.6 1076,331.7 1088,328.8 1100,325.9 1112,320.2 1124,315.1 1136,310.3 1148,307 1160,304.5 1172,299 1182,297 1184,294.4 1186,291.7 1196,287.7 1208,282.9 1220,277.7 1232,272.8 1244,268.1 1256,263.5 1268,258.1 1280,252.7 1292,247.1 1304,241.7 1316,237.5 1323.5,235 1324.5,235 1324.5,237.3 1323.5,237.3 1316,239.9 1304,244 1292,249.5 1280,255.1 1268,260.7 1256,266.2 1244,271 1232,275.7 1220,280.6 1208,286 1196,290.9 1186,295 1184,297.8 1182,300.7 1172,302.6 1160,307.9 1148,310.4 1136,313.8 1124,318.9 1112,324.2 1100,329.8 1088,332.7 1076,335.6 1064,338.4 1052,340.7 1040,342.9 1028,346.3 1016,348.7 1004,351.4 992,352.3 980,352.1 968,351.3 956,347.8 944,345.8 932,343.6 920,340.5 908,337.3 896,334.1 884,331.1 872,326.7 860,321.4 848,316.2 836,311.2 824,306.2 812,301.7 800,297.3 792.1,294.5 792,297.8 788,296.5 776,292.5 764,288.3 752,281 740,272.4 728,264.8 716,258.2 704,250.6 692,238.6 680,228.8 668,220 656,213.2 644,205.4 632,194.3 629.6,192.6 629.5,192.1 620,186.7 608,180.2 596,175.3 584,166 572,159.7 560,153.4 548,148.4 536,143.8 524,138.7 512,130.7 500,125.4 488,120.9 476,117.2 464,115.2 452,108.2 440,104.2 428,101.9 416,98.8 404,94.6 392,91.4 380,88.4 368,86 356,85.9 344,81.5 332,78.3 320,76.2 308,77.9 296,77.6 284,73.8 272,72.7 260,74.6 248,75.1 236,71 224,70.9 212,70.7 200,70.6 194,70.6 193,70.6Z" fill="url(#a11)"/>
<path d="M193,69.9 194,69.9 200,69.9 212,70 224,70.2 236,70.3 248,74.4 260,73.9 272,72 284,73.1 296,76.9 308,77.2 320,75.5 332,77.6 344,80.8 356,85.2 368,85.3 380,87.7 392,90.7 404,93.9 416,98.1 428,101.2 440,103.5 452,107.5 464,114.5 476,116.5 488,120.2 500,124.7 512,130 524,138 536,143.1 548,147.7 560,152.7 572,159 584,165.3 596,174.6 608,179.5 620,186 629.5,191.4 629.6,191.9 632,193.6 644,204.7 656,212.5 668,219.3 680,228.1 692,237.9 704,249.9 716,257.5 728,264.1 740,271.7 752,280.3 764,287.6 776,291.8 788,295.8 792,297.1 792.1,293.8 800,296.6 812,301 824,305.5 836,310.5 848,315.5 860,320.7 872,326 884,330.4 896,333.4 908,336.6 920,339.8 932,342.9 944,345.1 956,347.1 968,350.6 980,351.4 992,351.6 1004,350.7 1016,348 1028,345.6 1040,342.2 1052,340 1064,337.7 1076,334.9 1088,332 1100,329.1 1112,323.5 1124,318.2 1136,313.1 1148,309.7 1160,307.2 1172,301.9 1182,300 1184,297.1 1186,294.3 1196,290.2 1208,285.3 1220,279.9 1232,275 1244,270.3 1256,265.5 1268,260 1280,254.4 1292,248.8 1304,243.3 1316,239.2 1323.5,236.6 1324.5,236.6 1324.5,239 1323.5,239 1316,241.5 1304,245.6 1292,251.1 1280,256.9 1268,262.6 1256,268.2 1244,273.1 1232,277.9 1220,282.8 1208,288.3 1196,293.3 1186,297.6 1184,300.6 1182,303.6 1172,305.5 1160,310.6 1148,313.2 1136,316.7 1124,322.1 1112,327.4 1100,333.1 1088,335.9 1076,338.8 1064,341.6 1052,343.8 1040,346.1 1028,349.6 1016,351.9 1004,354.6 992,355.3 980,355.1 968,354.3 956,351 944,348.9 932,346.8 920,343.6 908,340.4 896,337.2 884,334.1 872,329.5 860,324.2 848,318.9 836,313.7 824,308.7 812,304.1 800,299.6 792.1,296.8 792,299.9 788,298.6 776,294.6 764,290.4 752,283.3 740,274.9 728,267.6 716,261.3 704,253.9 692,241.8 680,232 668,223.2 656,216.5 644,208.7 632,197.4 629.6,195.7 629.5,195.3 620,189.8 608,183.2 596,178.3 584,168.7 572,162.4 560,156.2 548,151.1 536,146.6 524,141.5 512,133.4 500,128.2 488,123.6 476,119.9 464,118 452,110.7 440,106.8 428,104.5 416,101.4 404,97.1 392,93.8 380,90.8 368,88.4 356,88.5 344,83.9 332,80.7 320,78.5 308,80.5 296,80.4 284,76.3 272,75.3 260,77.3 248,77.9 236,73.6 224,73.4 212,73.3 200,73.2 194,73.2 193,73.2Z" fill="url(#a12)"/>
<path d="M193,72.5 194,72.5 200,72.5 212,72.6 224,72.7 236,72.9 248,77.2 260,76.6 272,74.6 284,75.6 296,79.7 308,79.8 320,77.8 332,80 344,83.2 356,87.8 368,87.7 380,90.1 392,93.1 404,96.4 416,100.7 428,103.8 440,106.1 452,110 464,117.3 476,119.2 488,122.9 500,127.5 512,132.7 524,140.8 536,145.9 548,150.4 560,155.5 572,161.8 584,168 596,177.7 608,182.5 620,189.1 629.5,194.6 629.6,195 632,196.7 644,208 656,215.8 668,222.5 680,231.3 692,241.1 704,253.2 716,260.6 728,266.9 740,274.2 752,282.6 764,289.7 776,293.9 788,297.9 792,299.2 792.1,296.1 800,298.9 812,303.4 824,308 836,313 848,318.2 860,323.5 872,328.8 884,333.4 896,336.5 908,339.7 920,342.9 932,346.1 944,348.2 956,350.3 968,353.6 980,354.4 992,354.6 1004,353.9 1016,351.2 1028,348.9 1040,345.4 1052,343.1 1064,340.9 1076,338.1 1088,335.2 1100,332.4 1112,326.7 1124,321.4 1136,316 1148,312.5 1160,309.9 1172,304.8 1182,302.9 1184,299.9 1186,296.9 1196,292.6 1208,287.6 1220,282.1 1232,277.2 1244,272.4 1256,267.5 1268,261.9 1280,256.2 1292,250.4 1304,244.9 1316,240.8 1323.5,238.3 1324.5,238.3 1324.5,240.6 1323.5,240.6 1316,243.1 1304,247.2 1292,252.8 1280,258.7 1268,264.5 1256,270.3 1244,275.2 1232,280.1 1220,285 1208,290.6 1196,295.8 1186,300.1 1184,303.4 1182,306.6 1172,308.4 1160,313.2 1148,315.9 1136,319.5 1124,325.2 1112,330.7 1100,336.4 1088,339.2 1076,342 1064,344.7 1052,347 1040,349.2 1028,352.9 1016,355.2 1004,357.7 992,358.4 980,358.1 968,357.3 956,354.2 944,352.1 932,349.9 920,346.8 908,343.5 896,340.2 884,337.1 872,332.4 860,326.9 848,321.5 836,316.3 824,311.1 812,306.4 800,302 792.1,299.2 792,301.9 788,300.6 776,296.7 764,292.6 752,285.6 740,277.3 728,270.4 716,264.4 704,257.2 692,244.9 680,235.2 668,226.3 656,219.8 644,212.1 632,200.5 629.6,198.8 629.5,198.4 620,192.8 608,186.1 596,181.4 584,171.5 572,165.2 560,158.9 548,153.9 536,149.5 524,144.4 512,136.1 500,130.9 488,126.3 476,122.6 464,120.9 452,113.3 440,109.3 428,107.1 416,104 404,99.5 392,96.2 380,93.2 368,90.8 356,91 344,86.4 332,83 320,80.9 308,83.1 296,83.1 284,78.9 272,77.8 260,80.1 248,80.8 236,76.1 224,76 212,75.9 200,75.8 194,75.8 193,75.8Z" fill="url(#a13)"/>
<path d="M193,75.1 194,75.1 200,75.1 212,75.2 224,75.3 236,75.4 248,80.1 260,79.4 272,77.1 284,78.2 296,82.4 308,82.4 320,80.2 332,82.3 344,85.7 356,90.3 368,90.1 380,92.5 392,95.5 404,98.8 416,103.3 428,106.4 440,108.6 452,112.6 464,120.2 476,121.9 488,125.6 500,130.2 512,135.4 524,143.7 536,148.8 548,153.2 560,158.2 572,164.5 584,170.8 596,180.7 608,185.4 620,192.1 629.5,197.7 629.6,198.1 632,199.8 644,211.4 656,219.1 668,225.6 680,234.5 692,244.2 704,256.5 716,263.7 728,269.7 740,276.6 752,284.9 764,291.9 776,296 788,299.9 792,301.2 792.1,298.5 800,301.3 812,305.7 824,310.4 836,315.6 848,320.8 860,326.2 872,331.7 884,336.4 896,339.5 908,342.8 920,346.1 932,349.2 944,351.4 956,353.5 968,356.6 980,357.4 992,357.7 1004,357 1016,354.5 1028,352.2 1040,348.5 1052,346.3 1064,344 1076,341.3 1088,338.5 1100,335.7 1112,330 1124,324.5 1136,318.8 1148,315.2 1160,312.5 1172,307.7 1182,305.9 1184,302.7 1186,299.4 1196,295.1 1208,289.9 1220,284.3 1232,279.4 1244,274.5 1256,269.6 1268,263.8 1280,258 1292,252.1 1304,246.5 1316,242.4 1323.5,239.9 1324.5,239.9 1324.5,242.2 1323.5,242.2 1316,244.7 1304,248.8 1292,254.5 1280,260.5 1268,266.4 1256,272.3 1244,277.3 1232,282.2 1220,287.2 1208,292.9 1196,298.2 1186,302.7 1184,306.1 1182,309.5 1172,311.3 1160,315.9 1148,318.6 1136,322.4 1124,328.3 1112,333.9 1100,339.7 1088,342.4 1076,345.2 1064,347.9 1052,350.2 1040,352.4 1028,356.1 1016,358.4 1004,360.9 992,361.5 980,361.1 968,360.3 956,357.4 944,355.3 932,353 920,349.9 908,346.6 896,343.2 884,340.1 872,335.3 860,329.6 848,324.2 836,318.8 824,313.6 812,308.8 800,304.3 792.1,301.6 792,303.9 788,302.7 776,298.8 764,294.8 752,287.9 740,279.8 728,273.2 716,267.4 704,260.5 692,248.1 680,238.4 668,229.5 656,223.1 644,215.4 632,203.6 629.6,201.9 629.5,201.6 620,195.9 608,189.1 596,184.4 584,174.3 572,167.9 560,161.6 548,156.6 536,152.3 524,147.3 512,138.8 500,133.6 488,129 476,125.4 464,123.7 452,115.9 440,111.9 428,109.7 416,106.6 404,102 392,98.6 380,95.6 368,93.2 356,93.6 344,88.8 332,85.4 320,83.2 308,85.7 296,85.8 284,81.4 272,80.4 260,82.9 248,83.7 236,78.7 224,78.6 212,78.5 200,78.4 194,78.4 193,78.4Z" fill="url(#a14)"/>
<path d="M193,77.7 194,77.7 200,77.7 212,77.8 224,77.9 236,78 248,83 260,82.2 272,79.7 284,80.7 296,85.1 308,85 320,82.5 332,84.7 344,88.1 356,92.9 368,92.5 380,94.9 392,97.9 404,101.3 416,105.9 428,109 440,111.2 452,115.2 464,123 476,124.7 488,128.3 500,132.9 512,138.1 524,146.6 536,151.6 548,155.9 560,160.9 572,167.2 584,173.6 596,183.8 608,188.4 620,195.2 629.5,200.9 629.6,201.2 632,202.9 644,214.7 656,222.4 668,228.8 680,237.7 692,247.4 704,259.8 716,266.7 728,272.5 740,279.1 752,287.2 764,294.1 776,298.1 788,302 792,303.2 792.1,300.9 800,303.6 812,308.1 824,312.9 836,318.1 848,323.5 860,328.9 872,334.6 884,339.4 896,342.5 908,345.9 920,349.2 932,352.3 944,354.6 956,356.7 968,359.6 980,360.4 992,360.8 1004,360.2 1016,357.7 1028,355.4 1040,351.7 1052,349.5 1064,347.2 1076,344.5 1088,341.7 1100,339 1112,333.2 1124,327.6 1136,321.7 1148,317.9 1160,315.2 1172,310.6 1182,308.8 1184,305.4 1186,302 1196,297.5 1208,292.2 1220,286.5 1232,281.5 1244,276.6 1256,271.6 1268,265.7 1280,259.8 1292,253.8 1304,248.1 1316,244 1323.5,241.5 1324.5,241.5 1324.5,243.9 1323.5,243.9 1316,246.4 1304,250.4 1292,256.2 1280,262.3 1268,268.3 1256,274.3 1244,279.5 1232,284.4 1220,289.4 1208,295.2 1196,300.7 1186,305.3 1184,308.9 1182,312.5 1172,314.2 1160,318.6 1148,321.3 1136,325.2 1124,331.4 1112,337.2 1100,343 1088,345.7 1076,348.3 1064,351 1052,353.3 1040,355.6 1028,359.4 1016,361.6 1004,364.1 992,364.6 980,364.2 968,363.3 956,360.6 944,358.5 932,356.2 920,353 908,349.6 896,346.3 884,343.1 872,338.1 860,332.3 848,326.8 836,321.4 824,316 812,311.2 800,306.7 792.1,304 792,306 788,304.7 776,300.9 764,296.9 752,290.2 740,282.3 728,276 716,270.5 704,263.8 692,251.3 680,241.6 668,232.7 656,226.4 644,218.7 632,206.7 629.6,205.1 629.5,204.8 620,199 608,192.1 596,187.5 584,177.1 572,170.7 560,164.3 548,159.4 536,155.1 524,150.1 512,141.4 500,136.3 488,131.7 476,128.1 464,126.6 452,118.5 440,114.4 428,112.3 416,109.2 404,104.4 392,101.1 380,98 368,95.6 356,96.2 344,91.2 332,87.8 320,85.6 308,88.3 296,88.5 284,84 272,82.9 260,85.6 248,86.5 236,81.3 224,81.2 212,81.1 200,81.1 194,81 193,81Z" fill="url(#a15)"/>
<path d="M193,80.3 194,80.3 200,80.4 212,80.4 224,80.5 236,80.6 248,85.8 260,84.9 272,82.2 284,83.3 296,87.8 308,87.6 320,84.9 332,87.1 344,90.5 356,95.5 368,94.9 380,97.3 392,100.4 404,103.7 416,108.5 428,111.6 440,113.7 452,117.8 464,125.9 476,127.4 488,131 500,135.6 512,140.7 524,149.4 536,154.4 548,158.7 560,163.6 572,170 584,176.4 596,186.8 608,191.4 620,198.3 629.5,204.1 629.6,204.4 632,206 644,218 656,225.7 668,232 680,240.9 692,250.6 704,263.1 716,269.8 728,275.3 740,281.6 752,289.5 764,296.2 776,300.2 788,304 792,305.3 792.1,303.3 800,306 812,310.5 824,315.3 836,320.7 848,326.1 860,331.6 872,337.4 884,342.4 896,345.6 908,348.9 920,352.3 932,355.5 944,357.8 956,359.9 968,362.6 980,363.5 992,363.9 1004,363.4 1016,360.9 1028,358.7 1040,354.9 1052,352.6 1064,350.3 1076,347.6 1088,345 1100,342.3 1112,336.5 1124,330.7 1136,324.5 1148,320.6 1160,317.9 1172,313.5 1182,311.8 1184,308.2 1186,304.6 1196,300 1208,294.5 1220,288.7 1232,283.7 1244,278.8 1256,273.6 1268,267.6 1280,261.6 1292,255.5 1304,249.7 1316,245.7 1323.5,243.2 1324.5,243.2 1324.5,245.5 1323.5,245.5 1316,248 1304,252 1292,257.9 1280,264.1 1268,270.2 1256,276.3 1244,281.6 1232,286.6 1220,291.6 1208,297.5 1196,303.1 1186,307.9 1184,311.6 1182,315.4 1172,317.2 1160,321.3 1148,324.1 1136,328.1 1124,334.5 1112,340.4 1100,346.3 1088,348.9 1076,351.5 1064,354.2 1052,356.5 1040,358.8 1028,362.7 1016,364.9 1004,367.2 992,367.7 980,367.2 968,366.3 956,363.8 944,361.6 932,359.3 920,356.1 908,352.7 896,349.3 884,346 872,341 860,335.1 848,329.5 836,323.9 824,318.5 812,313.6 800,309 792.1,306.4 792,308.1 788,306.8 776,303 764,299.1 752,292.5 740,284.7 728,278.8 716,273.6 704,267.1 692,254.4 680,244.8 668,235.8 656,229.6 644,222.1 632,209.8 629.6,208.2 629.5,207.9 620,202 608,195.1 596,190.5 584,179.8 572,173.4 560,167.1 548,162.1 536,158 524,153 512,144.1 500,139.1 488,134.4 476,130.8 464,129.4 452,121 440,117 428,114.9 416,111.8 404,106.9 392,103.5 380,100.4 368,98 356,98.8 344,93.6 332,90.2 320,87.9 308,90.9 296,91.2 284,86.5 272,85.5 260,88.4 248,89.4 236,83.8 224,83.8 212,83.7 200,83.7 194,83.6 193,83.6Z" fill="url(#a16)"/>
<path d="M193,82.9 194,82.9 200,83 212,83 224,83.1 236,83.1 248,88.7 260,87.7 272,84.8 284,85.8 296,90.5 308,90.2 320,87.2 332,89.5 344,92.9 356,98.1 368,97.3 380,99.7 392,102.8 404,106.2 416,111.1 428,114.2 440,116.3 452,120.3 464,128.7 476,130.1 488,133.7 500,138.4 512,143.4 524,152.3 536,157.3 548,161.4 560,166.4 572,172.8 584,179.1 596,189.8 608,194.4 620,201.3 629.5,207.2 629.6,207.5 632,209.1 644,221.4 656,228.9 668,235.1 680,244.1 692,253.7 704,266.4 716,272.9 728,278.1 740,284 752,291.8 764,298.4 776,302.3 788,306.1 792,307.4 792.1,305.7 800,308.3 812,312.9 824,317.8 836,323.2 848,328.8 860,334.4 872,340.3 884,345.3 896,348.6 908,352 920,355.4 932,358.6 944,360.9 956,363.1 968,365.6 980,366.5 992,367 1004,366.5 1016,364.2 1028,362 1040,358.1 1052,355.8 1064,353.5 1076,350.8 1088,348.2 1100,345.6 1112,339.7 1124,333.8 1136,327.4 1148,323.4 1160,320.6 1172,316.5 1182,314.7 1184,310.9 1186,307.2 1196,302.4 1208,296.8 1220,290.9 1232,285.9 1244,280.9 1256,275.6 1268,269.5 1280,263.4 1292,257.2 1304,251.3 1316,247.3 1323.5,244.8 1324.5,244.8 1324.5,247.2 1323.5,247.2 1316,249.6 1304,253.6 1292,259.6 1280,265.9 1268,272.1 1256,278.4 1244,283.7 1232,288.8 1220,293.9 1208,299.8 1196,305.6 1186,310.4 1184,314.4 1182,318.4 1172,320.1 1160,324 1148,326.8 1136,330.9 1124,337.6 1112,343.7 1100,349.6 1088,352.1 1076,354.7 1064,357.3 1052,359.6 1040,362 1028,366 1016,368.1 1004,370.4 992,370.8 980,370.2 968,369.3 956,367 944,364.8 932,362.5 920,359.2 908,355.8 896,352.4 884,349 872,343.8 860,337.8 848,332.1 836,326.5 824,320.9 812,316 800,311.3 792.1,308.8 792,310.1 788,308.9 776,305.1 764,301.3 752,294.8 740,287.2 728,281.5 716,276.7 704,270.4 692,257.6 680,248 668,239 656,232.9 644,225.4 632,212.9 629.6,211.3 629.5,211.1 620,205.1 608,198.1 596,193.6 584,182.6 572,176.2 560,169.8 548,164.9 536,160.8 524,155.9 512,146.8 500,141.8 488,137.1 476,133.5 464,132.3 452,123.6 440,119.5 428,117.5 416,114.4 404,109.4 392,105.9 380,102.8 368,100.4 356,101.4 344,96 332,92.6 320,90.3 308,93.6 296,94 284,89 272,88 260,91.2 248,92.2 236,86.4 224,86.4 212,86.3 200,86.3 194,86.2 193,86.2Z" fill="url(#a17)"/>
<path d="M193,85.5 194,85.5 200,85.6 212,85.6 224,85.7 236,85.7 248,91.5 260,90.5 272,87.3 284,88.3 296,93.3 308,92.9 320,89.6 332,91.9 344,95.3 356,100.7 368,99.7 380,102.1 392,105.2 404,108.7 416,113.7 428,116.8 440,118.8 452,122.9 464,131.6 476,132.8 488,136.4 500,141.1 512,146.1 524,155.2 536,160.1 548,164.2 560,169.1 572,175.5 584,181.9 596,192.9 608,197.4 620,204.4 629.5,210.4 629.6,210.6 632,212.2 644,224.7 656,232.2 668,238.3 680,247.3 692,256.9 704,269.7 716,276 728,280.8 740,286.5 752,294.1 764,300.6 776,304.4 788,308.2 792,309.4 792.1,308.1 800,310.6 812,315.3 824,320.2 836,325.8 848,331.4 860,337.1 872,343.1 884,348.3 896,351.7 908,355.1 920,358.5 932,361.8 944,364.1 956,366.3 968,368.6 980,369.5 992,370.1 1004,369.7 1016,367.4 1028,365.3 1040,361.3 1052,358.9 1064,356.6 1076,354 1088,351.4 1100,348.9 1112,343 1124,336.9 1136,330.2 1148,326.1 1160,323.3 1172,319.4 1182,317.7 1184,313.7 1186,309.7 1196,304.9 1208,299.1 1220,293.2 1232,288.1 1244,283 1256,277.7 1268,271.4 1280,265.2 1292,258.9 1304,252.9 1316,248.9 1323.5,246.5 1324.5,246.5 1324.5,248.8 1323.5,248.8 1316,251.3 1304,255.2 1292,261.2 1280,267.7 1268,274 1256,280.4 1244,285.8 1232,290.9 1220,296.1 1208,302.1 1196,308.1 1186,313 1184,317.2 1182,321.3 1172,323 1160,326.7 1148,329.5 1136,333.8 1124,340.8 1112,346.9 1100,352.8 1088,355.4 1076,357.9 1064,360.5 1052,362.8 1040,365.2 1028,369.2 1016,371.3 1004,373.6 992,373.8 980,373.2 968,372.3 956,370.3 944,368 932,365.6 920,362.3 908,358.9 896,355.4 884,352 872,346.7 860,340.5 848,334.8 836,329 824,323.4 812,318.4 800,313.7 792.1,311.2 792,312.2 788,310.9 776,307.2 764,303.4 752,297.1 740,289.7 728,284.3 716,279.7 704,273.7 692,260.8 680,251.1 668,242.2 656,236.2 644,228.7 632,216 629.6,214.4 629.5,214.2 620,208.2 608,201.1 596,196.6 584,185.4 572,178.9 560,172.5 548,167.6 536,163.6 524,158.8 512,149.5 500,144.5 488,139.8 476,136.3 464,135.1 452,126.2 440,122.1 428,120.1 416,116.9 404,111.8 392,108.3 380,105.2 368,102.8 356,104 344,98.4 332,95 320,92.6 308,96.2 296,96.7 284,91.6 272,90.6 260,93.9 248,95.1 236,89 224,88.9 212,88.9 200,88.9 194,88.9 193,88.9Z" fill="url(#a18)"/>
<path d="M193,88.2 194,88.2 200,88.2 212,88.2 224,88.2 236,88.3 248,94.4 260,93.2 272,89.9 284,90.9 296,96 308,95.5 320,91.9 332,94.3 344,97.7 356,103.3 368,102.1 380,104.5 392,107.6 404,111.1 416,116.2 428,119.4 440,121.4 452,125.5 464,134.4 476,135.6 488,139.1 500,143.8 512,148.8 524,158.1 536,162.9 548,166.9 560,171.8 572,178.2 584,184.7 596,195.9 608,200.4 620,207.5 629.5,213.5 629.6,213.7 632,215.3 644,228 656,235.5 668,241.5 680,250.4 692,260.1 704,273 716,279 728,283.6 740,289 752,296.4 764,302.7 776,306.5 788,310.2 792,311.5 792.1,310.5 800,313 812,317.7 824,322.7 836,328.3 848,334.1 860,339.8 872,346 884,351.3 896,354.7 908,358.2 920,361.6 932,364.9 944,367.3 956,369.6 968,371.6 980,372.5 992,373.1 1004,372.9 1016,370.6 1028,368.5 1040,364.5 1052,362.1 1064,359.8 1076,357.2 1088,354.7 1100,352.1 1112,346.2 1124,340.1 1136,333.1 1148,328.8 1160,326 1172,322.3 1182,320.6 1184,316.5 1186,312.3 1196,307.4 1208,301.4 1220,295.4 1232,290.2 1244,285.1 1256,279.7 1268,273.3 1280,267 1292,260.5 1304,254.5 1316,250.6 1323.5,248.1 1324.5,248.1 1324.5,250.4 1323.5,250.4 1316,252.9 1304,256.8 1292,262.9 1280,269.4 1268,275.9 1256,282.4 1244,288 1232,293.1 1220,298.3 1208,304.4 1196,310.5 1186,315.6 1184,319.9 1182,324.3 1172,325.9 1160,329.3 1148,332.2 1136,336.6 1124,343.9 1112,350.2 1100,356.1 1088,358.6 1076,361.1 1064,363.6 1052,366 1040,368.3 1028,372.5 1016,374.6 1004,376.7 992,376.9 980,376.2 968,375.3 956,373.5 944,371.2 932,368.8 920,365.5 908,361.9 896,358.4 884,354.9 872,349.6 860,343.2 848,337.4 836,331.6 824,325.8 812,320.7 800,316 792.1,313.6 792,314.2 788,313 776,309.3 764,305.6 752,299.4 740,292.1 728,287.1 716,282.8 704,277 692,264 680,254.3 668,245.4 656,239.5 644,232 632,219.1 629.6,217.5 629.5,217.4 620,211.2 608,204 596,199.7 584,188.2 572,181.7 560,175.2 548,170.4 536,166.5 524,161.6 512,152.1 500,147.2 488,142.5 476,139 464,138 452,128.8 440,124.6 428,122.7 416,119.5 404,114.3 392,110.7 380,107.6 368,105.2 356,106.5 344,100.9 332,97.3 320,95 308,98.8 296,99.4 284,94.1 272,93.1 260,96.7 248,98 236,91.6 224,91.5 212,91.5 200,91.5 194,91.5 193,91.5Z" fill="url(#a19)"/>
<path d="M193,90.8 194,90.8 200,90.8 212,90.8 224,90.8 236,90.9 248,97.3 260,96 272,92.4 284,93.4 296,98.7 308,98.1 320,94.3 332,96.6 344,100.2 356,105.8 368,104.5 380,106.9 392,110 404,113.6 416,118.8 428,122 440,123.9 452,128.1 464,137.3 476,138.3 488,141.8 500,146.5 512,151.4 524,160.9 536,165.8 548,169.7 560,174.5 572,181 584,187.5 596,199 608,203.3 620,210.5 629.5,216.7 629.6,216.8 632,218.4 644,231.3 656,238.8 668,244.7 680,253.6 692,263.3 704,276.3 716,282.1 728,286.4 740,291.4 752,298.7 764,304.9 776,308.6 788,312.3 792,313.5 792.1,312.9 800,315.3 812,320 824,325.1 836,330.9 848,336.7 860,342.5 872,348.9 884,354.2 896,357.7 908,361.2 920,364.8 932,368.1 944,370.5 956,372.8 968,374.6 980,375.5 992,376.2 1004,376 1016,373.9 1028,371.8 1040,367.6 1052,365.3 1064,362.9 1076,360.4 1088,357.9 1100,355.4 1112,349.5 1124,343.2 1136,335.9 1148,331.5 1160,328.6 1172,325.2 1182,323.6 1184,319.2 1186,314.9 1196,309.8 1208,303.7 1220,297.6 1232,292.4 1244,287.3 1256,281.7 1268,275.2 1280,268.7 1292,262.2 1304,256.1 1316,252.2 1323.5,249.7 1324.5,249.7 1324.5,252.1 1323.5,252.1 1316,254.5 1304,258.4 1292,264.6 1280,271.2 1268,277.8 1256,284.4 1244,290.1 1232,295.3 1220,300.5 1208,306.7 1196,313 1186,318.1 1184,322.7 1182,327.2 1172,328.8 1160,332 1148,335 1136,339.5 1124,347 1112,353.4 1100,359.4 1088,361.9 1076,364.3 1064,366.8 1052,369.1 1040,371.5 1028,375.8 1016,377.8 1004,379.9 992,380 980,379.2 968,378.3 956,376.7 944,374.3 932,371.9 920,368.6 908,365 896,361.5 884,357.9 872,352.4 860,346 848,340.1 836,334.1 824,328.3 812,323.1 800,318.4 792.1,315.9 792,316.2 788,315 776,311.4 764,307.7 752,301.7 740,294.6 728,289.9 716,285.9 704,280.3 692,267.1 680,257.5 668,248.5 656,242.8 644,235.4 632,222.3 629.6,220.7 629.5,220.5 620,214.3 608,207 596,202.8 584,190.9 572,184.4 560,178 548,173.1 536,169.3 524,164.5 512,154.8 500,150 488,145.2 476,141.7 464,140.8 452,131.3 440,127.2 428,125.3 416,122.1 404,116.7 392,113.1 380,110 368,107.6 356,109.1 344,103.3 332,99.7 320,97.3 308,101.4 296,102.1 284,96.7 272,95.7 260,99.4 248,100.8 236,94.1 224,94.1 212,94.1 200,94.1 194,94.1 193,94.1Z" fill="url(#a20)"/>
<path d="M193,93.4 194,93.4 200,93.4 212,93.4 224,93.4 236,93.4 248,100.1 260,98.7 272,95 284,96 296,101.4 308,100.7 320,96.6 332,99 344,102.6 356,108.4 368,106.9 380,109.3 392,112.4 404,116 416,121.4 428,124.6 440,126.5 452,130.6 464,140.1 476,141 488,144.5 500,149.3 512,154.1 524,163.8 536,168.6 548,172.4 560,177.3 572,183.8 584,190.2 596,202.1 608,206.3 620,213.6 629.5,219.8 629.6,220 632,221.6 644,234.7 656,242.1 668,247.8 680,256.8 692,266.4 704,279.6 716,285.2 728,289.2 740,293.9 752,301 764,307 776,310.7 788,314.3 792,315.6 792.1,315.2 800,317.7 812,322.4 824,327.6 836,333.4 848,339.4 860,345.3 872,351.7 884,357.2 896,360.8 908,364.3 920,367.9 932,371.2 944,373.6 956,376 968,377.6 980,378.5 992,379.3 1004,379.2 1016,377.1 1028,375.1 1040,370.8 1052,368.4 1064,366.1 1076,363.6 1088,361.2 1100,358.7 1112,352.7 1124,346.3 1136,338.8 1148,334.3 1160,331.3 1172,328.1 1182,326.5 1184,322 1186,317.4 1196,312.3 1208,306 1220,299.8 1232,294.6 1244,289.4 1256,283.7 1268,277.1 1280,270.5 1292,263.9 1304,257.7 1316,253.8 1323.5,251.4 1324.5,251.4 1324.5,253.7 1323.5,253.7 1316,256.1 1304,260 1292,266.3 1280,273 1268,279.7 1256,286.5 1244,292.2 1232,297.4 1220,302.7 1208,309.1 1196,315.4 1186,320.7 1184,325.4 1182,330.2 1182,450 193,450Z" fill="url(#a21)"/>
</g>
<path d="M244,75L240,96M299,79L295,102M353,88L349,106M412,101L407,118M467,120L460,140M533,146L529,162M597,176L593,194M659,220L652,236M716,268L712,280M1112,284L1116,298M1180,274L1183,286M1189,310L1186,326M1222,300L1219,326M1252,284L1250,308M1302,260L1300,282" stroke="#40ecd4" stroke-width="1.1" fill="none" opacity="0.9"/>
<g clip-path="url(#ca)" fill="#6e1cff" opacity="0.8"><ellipse cx="255" cy="93" rx="12" ry="9"/><ellipse cx="307" cy="95" rx="11" ry="9"/><ellipse cx="360" cy="102" rx="10" ry="8"/><ellipse cx="422" cy="116" rx="14" ry="9"/><ellipse cx="474" cy="135" rx="15" ry="8.5"/><ellipse cx="540" cy="164.5" rx="17" ry="9.5"/><ellipse cx="601" cy="198" rx="16" ry="9"/><ellipse cx="660" cy="241" rx="14" ry="10"/><ellipse cx="717" cy="282" rx="16" ry="8"/></g>
<path d="M629.6,154.5 652,170.5 676,186.6 697,204 711.5,217 729,231.5 747,249 764.5,262 780.6,268.5 792,272.5" stroke="#fff" stroke-width="1.3" fill="none"/>
<path d="M194,38.9 202,39.1 210,39.2 218,39.4 226,39.6 234,39.8 242,40 250,40.5 258,41 266,41.5 274,42 282,42.7 290,43.9 298,44.9 306,45.9 314,46.9 322,47.9 330,48.9 338,50.9 346,52.6 354,54.2 362,55.8 370,57.4 378,59 386,60.8 394,62.5 402,64.4 410,66.2 418,68 426,69.9 434,71.9 442,74 450,76.4 458,78.8 466,81.2 474,83.6 482,86.1 490,88.9 498,91.7 506,95.4 514,99.3 522,103 530,106.7 538,110.5 546,114.1 554,117.7 562,121.4 570,125.4 578,129.4 586,133.4 594,137.4" stroke="#6628fe" stroke-width="1.3" fill="none" opacity="0.8"/>
<path d="M282.0,60.2L288.0,48.7L294.0,60.2Z" fill="#000"/>
<text class="st" x="297.3" y="56.6" textLength="48.6" lengthAdjust="spacingAndGlyphs">313</text>
<path d="M547.1,133.6L553.1,122.1L559.1,133.6Z" fill="#000"/>
<text class="st" x="531.9" y="108.9" textLength="50" lengthAdjust="spacingAndGlyphs">312</text>
<path d="M765.7,294.1L771.7,282.0L777.7,294.1Z" fill="#000"/>
<text class="st" x="777.3" y="291.8" textLength="47.2" lengthAdjust="spacingAndGlyphs">311</text>
<path d="M1022.9,369.2L1028.9,357.4L1034.9,369.2Z" fill="#000"/>
<text class="st" x="1035.5" y="366.5" textLength="50" lengthAdjust="spacingAndGlyphs">310</text>
<path d="M1273.8,259.6L1279.8,247.7L1285.8,259.6Z" fill="#000"/>
<text class="st" x="1247.6" y="236.8" textLength="50" lengthAdjust="spacingAndGlyphs">309</text>
<path d="M166.1,405.7v-2.0M166.1,26.0v2.0M200.2,405.7v-2.0M200.2,26.0v2.0M234.3,405.7v-3.5M234.3,26.0v3.5M268.4,405.7v-2.0M268.4,26.0v2.0M302.5,405.7v-2.0M302.5,26.0v2.0M336.6,405.7v-2.0M336.6,26.0v2.0M370.7,405.7v-2.0M370.7,26.0v2.0M404.9,405.7v-3.5M404.9,26.0v3.5M439.0,405.7v-2.0M439.0,26.0v2.0M473.1,405.7v-2.0M473.1,26.0v2.0M507.2,405.7v-2.0M507.2,26.0v2.0M541.3,405.7v-2.0M541.3,26.0v2.0M575.4,405.7v-3.5M575.4,26.0v3.5M609.5,405.7v-2.0M609.5,26.0v2.0M643.6,405.7v-2.0M643.6,26.0v2.0M677.7,405.7v-2.0M677.7,26.0v2.0M711.8,405.7v-2.0M711.8,26.0v2.0M746.0,405.7v-3.5M746.0,26.0v3.5M780.1,405.7v-2.0M780.1,26.0v2.0M814.2,405.7v-2.0M814.2,26.0v2.0M848.3,405.7v-2.0M848.3,26.0v2.0M882.4,405.7v-2.0M882.4,26.0v2.0M916.5,405.7v-3.5M916.5,26.0v3.5M950.6,405.7v-2.0M950.6,26.0v2.0M984.7,405.7v-2.0M984.7,26.0v2.0M1018.8,405.7v-2.0M1018.8,26.0v2.0M1052.9,405.7v-2.0M1052.9,26.0v2.0M1087.0,405.7v-3.5M1087.0,26.0v3.5M1121.2,405.7v-2.0M1121.2,26.0v2.0M1155.3,405.7v-2.0M1155.3,26.0v2.0M1189.4,405.7v-2.0M1189.4,26.0v2.0M1223.5,405.7v-2.0M1223.5,26.0v2.0M1257.6,405.7v-3.5M1257.6,26.0v3.5M1291.7,405.7v-2.0M1291.7,26.0v2.0M1325.8,405.7v-2.0M1325.8,26.0v2.0M149.0,34.4h2.0M1360.3,34.4h-2.0M149.0,42.9h2.0M1360.3,42.9h-2.0M149.0,51.3h2.0M1360.3,51.3h-2.0M149.0,59.8h2.0M1360.3,59.8h-2.0M149.0,68.2h3.5M1360.3,68.2h-3.5M149.0,76.6h2.0M1360.3,76.6h-2.0M149.0,85.1h2.0M1360.3,85.1h-2.0M149.0,93.5h2.0M1360.3,93.5h-2.0M149.0,101.9h2.0M1360.3,101.9h-2.0M149.0,110.4h3.5M1360.3,110.4h-3.5M149.0,118.8h2.0M1360.3,118.8h-2.0M149.0,127.3h2.0M1360.3,127.3h-2.0M149.0,135.7h2.0M1360.3,135.7h-2.0M149.0,144.1h2.0M1360.3,144.1h-2.0M149.0,152.6h3.5M1360.3,152.6h-3.5M149.0,161.0h2.0M1360.3,161.0h-2.0M149.0,169.4h2.0M1360.3,169.4h-2.0M149.0,177.9h2.0M1360.3,177.9h-2.0M149.0,186.3h2.0M1360.3,186.3h-2.0M149.0,194.8h3.5M1360.3,194.8h-3.5M149.0,203.2h2.0M1360.3,203.2h-2.0M149.0,211.6h2.0M1360.3,211.6h-2.0M149.0,220.1h2.0M1360.3,220.1h-2.0M149.0,228.5h2.0M1360.3,228.5h-2.0M149.0,236.9h3.5M1360.3,236.9h-3.5M149.0,245.4h2.0M1360.3,245.4h-2.0M149.0,253.8h2.0M1360.3,253.8h-2.0M149.0,262.3h2.0M1360.3,262.3h-2.0M149.0,270.7h2.0M1360.3,270.7h-2.0M149.0,279.1h3.5M1360.3,279.1h-3.5M149.0,287.6h2.0M1360.3,287.6h-2.0M149.0,296.0h2.0M1360.3,296.0h-2.0M149.0,304.4h2.0M1360.3,304.4h-2.0M149.0,312.9h2.0M1360.3,312.9h-2.0M149.0,321.3h3.5M1360.3,321.3h-3.5M149.0,329.8h2.0M1360.3,329.8h-2.0M149.0,338.2h2.0M1360.3,338.2h-2.0M149.0,346.6h2.0M1360.3,346.6h-2.0M149.0,355.1h2.0M1360.3,355.1h-2.0M149.0,363.5h3.5M1360.3,363.5h-3.5M149.0,371.9h2.0M1360.3,371.9h-2.0M149.0,380.4h2.0M1360.3,380.4h-2.0M149.0,388.8h2.0M1360.3,388.8h-2.0M149.0,397.3h2.0M1360.3,397.3h-2.0" stroke="#555" stroke-width="1" fill="none"/>
<rect x="149.0" y="26.0" width="1211.3" height="379.7" fill="none" stroke="#808080" stroke-width="1.5"/>
<text class="tl" x="146.6" y="37.3" text-anchor="end" textLength="107.6" lengthAdjust="spacingAndGlyphs">4.34125</text>
<text class="tl" x="146.6" y="79.5" text-anchor="end" textLength="107.6" lengthAdjust="spacingAndGlyphs">4.34100</text>
<text class="tl" x="146.6" y="121.7" text-anchor="end" textLength="107.6" lengthAdjust="spacingAndGlyphs">4.34075</text>
<text class="tl" x="146.6" y="163.9" text-anchor="end" textLength="107.6" lengthAdjust="spacingAndGlyphs">4.34050</text>
<text class="tl" x="146.6" y="206.1" text-anchor="end" textLength="107.6" lengthAdjust="spacingAndGlyphs">4.34025</text>
<text class="tl" x="146.6" y="248.2" text-anchor="end" textLength="107.6" lengthAdjust="spacingAndGlyphs">4.34000</text>
<text class="tl" x="146.6" y="290.4" text-anchor="end" textLength="107.6" lengthAdjust="spacingAndGlyphs">4.33975</text>
<text class="tl" x="146.6" y="332.6" text-anchor="end" textLength="107.6" lengthAdjust="spacingAndGlyphs">4.33950</text>
<text class="tl" x="146.6" y="374.8" text-anchor="end" textLength="107.6" lengthAdjust="spacingAndGlyphs">4.33925</text>
<text class="tl" x="146.6" y="417.0" text-anchor="end" textLength="107.6" lengthAdjust="spacingAndGlyphs">4.33900</text>
<text class="tl" x="234.3" y="432.8" text-anchor="middle">428000</text>
<text class="tl" x="404.9" y="432.8" text-anchor="middle">429000</text>
<text class="tl" x="575.4" y="432.8" text-anchor="middle">430000</text>
<text class="tl" x="746.0" y="432.8" text-anchor="middle">431000</text>
<text class="tl" x="916.5" y="432.8" text-anchor="middle">432000</text>
<text class="tl" x="1087.0" y="432.8" text-anchor="middle">433000</text>
<text class="tl" x="1257.6" y="432.8" text-anchor="middle">434000</text>
<text class="ax" x="669.5" y="467.3" textLength="168.5" lengthAdjust="spacingAndGlyphs">Easting (m)</text>
<text class="ax" transform="translate(25.8,309.9) rotate(-90)" textLength="186.5" lengthAdjust="spacingAndGlyphs">Northing (m)</text>
<path d="M152.8,11.2L163.6,21.7M163.6,11.2L152.8,21.7" stroke="#000" stroke-width="1.25" fill="none"/>
<text class="off" x="167" y="23.0" textLength="23.8" lengthAdjust="spacingAndGlyphs">10</text><text class="sup" x="192.3" y="13.9">6</text>
<text class="pl" x="1297.5" y="64.7" textLength="40" lengthAdjust="spacingAndGlyphs">(a)</text>
<linearGradient id="cba" x1="0" y1="0" x2="0" y2="1"><stop offset="0.000" stop-color="#ff0000"/><stop offset="0.050" stop-color="#ff2814"/><stop offset="0.100" stop-color="#ff4f28"/><stop offset="0.150" stop-color="#ff743c"/><stop offset="0.200" stop-color="#ff964f"/><stop offset="0.250" stop-color="#ffb462"/><stop offset="0.300" stop-color="#e5ce74"/><stop offset="0.350" stop-color="#cce385"/><stop offset="0.400" stop-color="#b2f396"/><stop offset="0.450" stop-color="#99fca6"/><stop offset="0.500" stop-color="#80ffb4"/><stop offset="0.550" stop-color="#66fcc2"/><stop offset="0.600" stop-color="#4cf3ce"/><stop offset="0.650" stop-color="#33e3d9"/><stop offset="0.700" stop-color="#19cee3"/><stop offset="0.750" stop-color="#00b4ec"/><stop offset="0.800" stop-color="#1a96f3"/><stop offset="0.850" stop-color="#3374f8"/><stop offset="0.900" stop-color="#4d4ffc"/><stop offset="0.950" stop-color="#6628fe"/><stop offset="1.000" stop-color="#8000ff"/></linearGradient>
<rect x="1436.1" y="42.7" width="19.0" height="346.0" fill="url(#cba)"/>
<path d="M1436.1,42.7L1445.6,26.0L1455.1,42.7Z" fill="#ff0000"/>
<path d="M1436.1,388.7L1445.6,405.7L1455.1,388.7Z" fill="#8000ff"/>
<path d="M1436.1,42.7L1445.6,26.0L1455.1,42.7L1455.1,388.7L1445.6,405.7L1436.1,388.7Z" fill="none" stroke="#222" stroke-width="0.8"/>
<path d="M1455.1,388.7h-3.0M1455.1,371.4h-1.8M1455.1,354.1h-1.8M1455.1,336.8h-1.8M1455.1,319.5h-1.8M1455.1,302.2h-3.0M1455.1,284.9h-1.8M1455.1,267.6h-1.8M1455.1,250.3h-1.8M1455.1,233.0h-1.8M1455.1,215.7h-3.0M1455.1,198.4h-1.8M1455.1,181.1h-1.8M1455.1,163.8h-1.8M1455.1,146.5h-1.8M1455.1,129.2h-3.0M1455.1,111.9h-1.8M1455.1,94.6h-1.8M1455.1,77.3h-1.8M1455.1,60.0h-1.8M1455.1,42.7h-3.0" stroke="#222" stroke-width="1" fill="none"/>
<text class="tl" x="1459.3" y="399.9" textLength="37.8" lengthAdjust="spacingAndGlyphs">0.0</text>
<text class="tl" x="1459.3" y="313.4" textLength="37.8" lengthAdjust="spacingAndGlyphs">0.5</text>
<text class="tl" x="1459.3" y="226.9" textLength="37.8" lengthAdjust="spacingAndGlyphs">1.0</text>
<text class="tl" x="1459.3" y="140.4" textLength="37.8" lengthAdjust="spacingAndGlyphs">1.5</text>
<text class="tl" x="1459.3" y="53.9" textLength="37.8" lengthAdjust="spacingAndGlyphs">2.0</text>
<text class="cbl" transform="translate(1408,308.5) rotate(-90)" textLength="185" lengthAdjust="spacingAndGlyphs">Velocity (m/s)</text>
<g clip-path="url(#cb)">
<path d="M629.6,450.6 629.6,606.2 644,610.3 652,614.3 660,618.3 666.6,623.1 676,626.7 681,628.6 692,637.6 697,641 711.5,651 713,652 719.5,649.6 729,655.2 735.6,663.2 747,682.6 751.7,685.6 759.7,687.3 764.5,692.2 767.7,695.4 779,708.2 780.6,709.5 788.6,716.2 792,717.7 792,450.6 792,728.8 788.6,727.6 780.6,724.8 779,724.2 767.7,719.6 764.5,718.3 759.7,714.7 751.7,708.8 747,705.3 735.6,694.2 729,687.8 719.5,679.9 713,674.5 711.5,673.3 697,660.3 692,656.2 681,647 676,642.9 666.6,636.6 660,632.2 652,626.8 644,621.1 629.6,610.8Z" fill="#59f8c8"/><path d="M1182,784.6 1186,775.1 1188,774 1200,767.7 1210,762.4 1220,757.1 1232,751.9 1252,743.1 1256,740.9 1270,733 1280,727.4 1300,716.2 1302,715.1 1323,708.3 1323.5,708.1 1324.5,905.6 1182,905.6Z" fill="url(#dzsb)"/>
<path d="M193,450.6 629.6,450.6 629.6,610.1 632,611.8 644,620.4 656,628.8 668,636.8 680,645.5 692,655.5 704,665.9 716,676.3 728,686.3 740,697.8 752,708.3 764,717.2 776,722.2 788,726.7 792,728.1 792,450.6 1324.5,450.6 1324.5,674.9 1323.5,674.9 1316,677.5 1304,682 1292,686.5 1280,691.1 1268,695.4 1256,699.5 1244,703.2 1232,707.4 1220,711.8 1208,716.1 1196,719.5 1186,722.3 1184,723.1 1182,723.8 1172,726.2 1160,734 1148,736 1136,738.1 1124,740.3 1112,744 1100,749.3 1088,752.7 1076,756.1 1064,759.4 1052,761.5 1040,763.5 1028,766 1016,768.7 1004,772.3 992,773.9 980,774.6 968,773.9 956,768 944,766.5 932,764.6 920,761.8 908,759.1 896,756.3 884,754 872,750.8 860,747 848,742.7 836,738.7 824,734.9 812,731.1 800,727.1 792.1,723.8 792,730.9 788,729.5 776,725 764,720.1 752,711.3 740,701 728,689.8 716,680.1 704,669.9 692,659.3 680,649.4 668,640.7 656,632.8 644,624.4 632,615.6 629.6,613.9 629.5,613 620,608.6 608,603 596,597.4 584,591.1 572,585.1 560,579 548,573.7 536,568.3 524,562.7 512,556.9 500,551 488,546.8 476,542.8 464,539.4 452,535.5 440,531.8 428,528.9 416,526 404,523.2 392,520.4 380,517.7 368,515.3 356,513.1 344,510.5 332,507.7 320,505.9 308,504.7 296,503.3 284,501.4 272,500.3 260,499.8 248,499.2 236,498.3 224,498 212,497.8 200,497.5 194,497.4 193,497.4Z" fill="url(#b0)"/>
<path d="M193,496.7 194,496.7 200,496.8 212,497.1 224,497.3 236,497.6 248,498.5 260,499.1 272,499.6 284,500.7 296,502.6 308,504 320,505.2 332,507 344,509.8 356,512.4 368,514.6 380,517 392,519.7 404,522.5 416,525.3 428,528.2 440,531.1 452,534.8 464,538.7 476,542.1 488,546.1 500,550.3 512,556.2 524,562 536,567.6 548,573 560,578.3 572,584.4 584,590.4 596,596.7 608,602.3 620,607.9 629.5,612.3 629.6,613.2 632,614.9 644,623.7 656,632.1 668,640 680,648.7 692,658.6 704,669.2 716,679.4 728,689.1 740,700.3 752,710.6 764,719.4 776,724.3 788,728.8 792,730.2 792.1,723.1 800,726.4 812,730.4 824,734.2 836,738 848,742 860,746.3 872,750.1 884,753.3 896,755.6 908,758.4 920,761.1 932,763.9 944,765.8 956,767.3 968,773.2 980,773.9 992,773.2 1004,771.6 1016,768 1028,765.3 1040,762.8 1052,760.8 1064,758.7 1076,755.4 1088,752 1100,748.6 1112,743.3 1124,739.6 1136,737.4 1148,735.3 1160,733.3 1172,725.5 1182,723.1 1184,722.4 1186,721.6 1196,718.8 1208,715.4 1220,711.1 1232,706.7 1244,702.5 1256,698.8 1268,694.7 1280,690.4 1292,685.8 1304,681.3 1316,676.8 1323.5,674.2 1324.5,674.2 1324.5,676.6 1323.5,676.6 1316,679.2 1304,683.6 1292,688.2 1280,692.9 1268,697.3 1256,701.6 1244,705.3 1232,709.6 1220,714.1 1208,718.5 1196,722 1186,724.9 1184,725.8 1182,726.7 1172,729.1 1160,736.7 1148,738.8 1136,741 1124,743.4 1112,747.2 1100,752.6 1088,755.9 1076,759.3 1064,762.6 1052,764.6 1040,766.7 1028,769.2 1016,772 1004,775.4 992,777 980,777.6 968,776.9 956,771.2 944,769.6 932,767.7 920,764.9 908,762.2 896,759.4 884,757 872,753.6 860,749.8 848,745.4 836,741.2 824,737.4 812,733.5 800,729.5 792.1,726.2 792,732.9 788,731.5 776,727.1 764,722.3 752,713.6 740,703.4 728,692.5 716,683.2 704,673.2 692,662.5 680,652.6 668,643.9 656,636 644,627.7 632,618.7 629.6,617 629.5,616.2 620,611.6 608,605.9 596,600.4 584,593.8 572,587.8 560,581.8 548,576.4 536,571.1 524,565.6 512,559.6 500,553.8 488,549.5 476,545.6 464,542.2 452,538 440,534.4 428,531.5 416,528.6 404,525.6 392,522.8 380,520.1 368,517.7 356,515.7 344,512.9 332,510.1 320,508.3 308,507.3 296,506 284,504 272,502.9 260,502.6 248,502 236,500.9 224,500.6 212,500.4 200,500.1 194,500 193,500Z" fill="url(#b1)"/>
<path d="M193,499.3 194,499.3 200,499.4 212,499.7 224,499.9 236,500.2 248,501.3 260,501.9 272,502.2 284,503.3 296,505.3 308,506.6 320,507.6 332,509.4 344,512.2 356,515 368,517 380,519.4 392,522.1 404,524.9 416,527.9 428,530.8 440,533.7 452,537.3 464,541.5 476,544.9 488,548.8 500,553.1 512,558.9 524,564.9 536,570.4 548,575.7 560,581.1 572,587.1 584,593.1 596,599.7 608,605.2 620,610.9 629.5,615.5 629.6,616.3 632,618 644,627 656,635.3 668,643.2 680,651.9 692,661.8 704,672.5 716,682.5 728,691.8 740,702.7 752,712.9 764,721.6 776,726.4 788,730.8 792,732.2 792.1,725.5 800,728.8 812,732.8 824,736.7 836,740.5 848,744.7 860,749.1 872,752.9 884,756.3 896,758.7 908,761.5 920,764.2 932,767 944,768.9 956,770.5 968,776.2 980,776.9 992,776.3 1004,774.7 1016,771.3 1028,768.5 1040,766 1052,763.9 1064,761.9 1076,758.6 1088,755.2 1100,751.9 1112,746.5 1124,742.7 1136,740.3 1148,738.1 1160,736 1172,728.4 1182,726 1184,725.1 1186,724.2 1196,721.3 1208,717.8 1220,713.4 1232,708.9 1244,704.6 1256,700.9 1268,696.6 1280,692.2 1292,687.5 1304,682.9 1316,678.5 1323.5,675.9 1324.5,675.9 1324.5,678.2 1323.5,678.2 1316,680.8 1304,685.2 1292,689.9 1280,694.7 1268,699.2 1256,703.6 1244,707.5 1232,711.8 1220,716.3 1208,720.8 1196,724.4 1186,727.5 1184,728.6 1182,729.7 1172,732 1160,739.3 1148,741.5 1136,743.8 1124,746.5 1112,750.5 1100,755.9 1088,759.2 1076,762.4 1064,765.7 1052,767.8 1040,769.8 1028,772.5 1016,775.2 1004,778.6 992,780.1 980,780.7 968,779.9 956,774.4 944,772.8 932,770.9 920,768.1 908,765.2 896,762.4 884,760 872,756.5 860,752.5 848,748 836,743.8 824,739.8 812,735.8 800,731.8 792.1,728.6 792,735 788,733.6 776,729.2 764,724.4 752,715.9 740,705.9 728,695.3 716,686.2 704,676.5 692,665.7 680,655.8 668,647 656,639.3 644,631.1 632,621.8 629.6,620.2 629.5,619.3 620,614.7 608,608.9 596,603.5 584,596.6 572,590.6 560,584.5 548,579.2 536,573.9 524,568.4 512,562.3 500,556.5 488,552.2 476,548.3 464,545.1 452,540.6 440,536.9 428,534.1 416,531.2 404,528.1 392,525.3 380,522.5 368,520.1 356,518.2 344,515.4 332,512.4 320,510.6 308,509.9 296,508.7 284,506.5 272,505.4 260,505.3 248,504.9 236,503.4 224,503.2 212,503 200,502.8 194,502.6 193,502.6Z" fill="url(#b2)"/>
<path d="M193,501.9 194,501.9 200,502.1 212,502.3 224,502.5 236,502.7 248,504.2 260,504.6 272,504.7 284,505.8 296,508 308,509.2 320,509.9 332,511.7 344,514.7 356,517.5 368,519.4 380,521.8 392,524.6 404,527.4 416,530.5 428,533.4 440,536.2 452,539.9 464,544.4 476,547.6 488,551.5 500,555.8 512,561.6 524,567.7 536,573.2 548,578.5 560,583.8 572,589.9 584,595.9 596,602.8 608,608.2 620,614 629.5,618.6 629.6,619.5 632,621.1 644,630.4 656,638.6 668,646.3 680,655.1 692,665 704,675.8 716,685.5 728,694.6 740,705.2 752,715.2 764,723.7 776,728.5 788,732.9 792,734.2 792.1,727.9 800,731.1 812,735.1 824,739.1 836,743.1 848,747.3 860,751.8 872,755.8 884,759.3 896,761.7 908,764.5 920,767.4 932,770.2 944,772.1 956,773.7 968,779.2 980,780 992,779.4 1004,777.9 1016,774.5 1028,771.8 1040,769.1 1052,767.1 1064,765 1076,761.7 1088,758.5 1100,755.2 1112,749.8 1124,745.8 1136,743.1 1148,740.8 1160,738.6 1172,731.3 1182,729 1184,727.9 1186,726.8 1196,723.7 1208,720.1 1220,715.6 1232,711.1 1244,706.8 1256,702.9 1268,698.5 1280,694 1292,689.2 1304,684.5 1316,680.1 1323.5,677.5 1324.5,677.5 1324.5,679.8 1323.5,679.8 1316,682.4 1304,686.8 1292,691.6 1280,696.4 1268,701.1 1256,705.6 1244,709.6 1232,713.9 1220,718.5 1208,723.1 1196,726.9 1186,730 1184,731.3 1182,732.6 1172,734.9 1160,742 1148,744.2 1136,746.7 1124,749.6 1112,753.7 1100,759.2 1088,762.4 1076,765.6 1064,768.9 1052,771 1040,773 1028,775.8 1016,778.4 1004,781.7 992,783.2 980,783.7 968,782.9 956,777.7 944,776 932,774 920,771.2 908,768.3 896,765.4 884,763 872,759.4 860,755.2 848,750.7 836,746.3 824,742.3 812,738.2 800,734.2 792.1,731 792,737 788,735.6 776,731.3 764,726.6 752,718.2 740,708.3 728,698.1 716,689.3 704,679.8 692,668.8 680,659 668,650.2 656,642.6 644,634.4 632,625 629.6,623.3 629.5,622.5 620,617.8 608,611.9 596,606.5 584,599.4 572,593.3 560,587.2 548,581.9 536,576.8 524,571.3 512,564.9 500,559.2 488,554.9 476,551 464,547.9 452,543.2 440,539.5 428,536.7 416,533.7 404,530.5 392,527.7 380,524.9 368,522.5 356,520.8 344,517.8 332,514.8 320,513 308,512.5 296,511.4 284,509.1 272,508 260,508.1 248,507.8 236,506 224,505.8 212,505.6 200,505.4 194,505.3 193,505.3Z" fill="url(#b3)"/>
<path d="M193,504.6 194,504.6 200,504.7 212,504.9 224,505.1 236,505.3 248,507.1 260,507.4 272,507.3 284,508.4 296,510.7 308,511.8 320,512.3 332,514.1 344,517.1 356,520.1 368,521.8 380,524.2 392,527 404,529.8 416,533 428,536 440,538.8 452,542.5 464,547.2 476,550.3 488,554.2 500,558.5 512,564.2 524,570.6 536,576.1 548,581.2 560,586.5 572,592.6 584,598.7 596,605.8 608,611.2 620,617.1 629.5,621.8 629.6,622.6 632,624.3 644,633.7 656,641.9 668,649.5 680,658.3 692,668.1 704,679.1 716,688.6 728,697.4 740,707.6 752,717.5 764,725.9 776,730.6 788,734.9 792,736.3 792.1,730.3 800,733.5 812,737.5 824,741.6 836,745.6 848,750 860,754.5 872,758.7 884,762.2 896,764.7 908,767.6 920,770.5 932,773.3 944,775.3 956,777 968,782.2 980,783 992,782.5 1004,781 1016,777.7 1028,775.1 1040,772.3 1052,770.3 1064,768.2 1076,764.9 1088,761.7 1100,758.5 1112,753 1124,748.9 1136,746 1148,743.5 1160,741.3 1172,734.2 1182,731.9 1184,730.6 1186,729.3 1196,726.2 1208,722.4 1220,717.8 1232,713.2 1244,708.9 1256,704.9 1268,700.4 1280,695.7 1292,690.9 1304,686.1 1316,681.7 1323.5,679.1 1324.5,679.1 1324.5,681.5 1323.5,681.5 1316,684 1304,688.4 1292,693.3 1280,698.2 1268,703 1256,707.6 1244,711.7 1232,716.1 1220,720.7 1208,725.4 1196,729.3 1186,732.6 1184,734.1 1182,735.6 1172,737.8 1160,744.7 1148,746.9 1136,749.5 1124,752.7 1112,757 1100,762.4 1088,765.6 1076,768.8 1064,772 1052,774.1 1040,776.2 1028,779 1016,781.7 1004,784.9 992,786.3 980,786.7 968,785.9 956,780.9 944,779.2 932,777.2 920,774.3 908,771.4 896,768.5 884,765.9 872,762.2 860,757.9 848,753.3 836,748.9 824,744.7 812,740.6 800,736.5 792.1,733.3 792,739.1 788,737.7 776,733.4 764,728.7 752,720.5 740,710.8 728,700.9 716,692.4 704,683.1 692,672 680,662.1 668,653.4 656,645.9 644,637.7 632,628.1 629.6,626.4 629.5,625.6 620,620.8 608,614.9 596,609.6 584,602.2 572,596.1 560,589.9 548,584.7 536,579.6 524,574.2 512,567.6 500,561.9 488,557.6 476,553.7 464,550.8 452,545.8 440,542 428,539.3 416,536.3 404,533 392,530.1 380,527.3 368,524.9 356,523.4 344,520.2 332,517.2 320,515.3 308,515.1 296,514.2 284,511.6 272,510.5 260,510.9 248,510.6 236,508.6 224,508.4 212,508.2 200,508 194,507.9 193,507.9Z" fill="url(#b4)"/>
<path d="M193,507.2 194,507.2 200,507.3 212,507.5 224,507.7 236,507.9 248,509.9 260,510.2 272,509.8 284,510.9 296,513.5 308,514.4 320,514.6 332,516.5 344,519.5 356,522.7 368,524.2 380,526.6 392,529.4 404,532.3 416,535.6 428,538.6 440,541.3 452,545.1 464,550.1 476,553 488,556.9 500,561.2 512,566.9 524,573.5 536,578.9 548,584 560,589.2 572,595.4 584,601.5 596,608.9 608,614.2 620,620.1 629.5,624.9 629.6,625.7 632,627.4 644,637 656,645.2 668,652.7 680,661.4 692,671.3 704,682.4 716,691.7 728,700.2 740,710.1 752,719.8 764,728 776,732.7 788,737 792,738.4 792.1,732.6 800,735.8 812,739.9 824,744 836,748.2 848,752.6 860,757.2 872,761.5 884,765.2 896,767.8 908,770.7 920,773.6 932,776.5 944,778.5 956,780.2 968,785.2 980,786 992,785.6 1004,784.2 1016,781 1028,778.3 1040,775.5 1052,773.4 1064,771.3 1076,768.1 1088,764.9 1100,761.7 1112,756.3 1124,752 1136,748.8 1148,746.2 1160,744 1172,737.1 1182,734.9 1184,733.4 1186,731.9 1196,728.6 1208,724.7 1220,720 1232,715.4 1244,711 1256,706.9 1268,702.3 1280,697.5 1292,692.6 1304,687.7 1316,683.3 1323.5,680.8 1324.5,680.8 1324.5,683.1 1323.5,683.1 1316,685.7 1304,690 1292,694.9 1280,700 1268,704.9 1256,709.7 1244,713.8 1232,718.3 1220,722.9 1208,727.7 1196,731.8 1186,735.2 1184,736.9 1182,738.5 1172,740.8 1160,747.4 1148,749.7 1136,752.4 1124,755.9 1112,760.2 1100,765.7 1088,768.9 1076,772 1064,775.2 1052,777.3 1040,779.4 1028,782.3 1016,784.9 1004,788.1 992,789.3 980,789.7 968,788.9 956,784.1 944,782.3 932,780.3 920,777.4 908,774.5 896,771.5 884,768.9 872,765.1 860,760.7 848,756 836,751.4 824,747.2 812,743 800,738.8 792.1,735.7 792,741.1 788,739.8 776,735.5 764,730.9 752,722.8 740,713.3 728,703.7 716,695.4 704,686.4 692,675.2 680,665.3 668,656.6 656,649.2 644,641.1 632,631.2 629.6,629.5 629.5,628.8 620,623.9 608,617.9 596,612.6 584,604.9 572,598.8 560,592.7 548,587.4 536,582.4 524,577.1 512,570.3 500,564.7 488,560.3 476,556.5 464,553.6 452,548.3 440,544.6 428,541.9 416,538.9 404,535.5 392,532.5 380,529.7 368,527.3 356,526 344,522.6 332,519.6 320,517.7 308,517.8 296,516.9 284,514.1 272,513.1 260,513.6 248,513.5 236,511.1 224,511 212,510.8 200,510.6 194,510.5 193,510.5Z" fill="url(#b5)"/>
<path d="M193,509.8 194,509.8 200,509.9 212,510.1 224,510.3 236,510.4 248,512.8 260,512.9 272,512.4 284,513.4 296,516.2 308,517.1 320,517 332,518.9 344,521.9 356,525.3 368,526.6 380,529 392,531.8 404,534.8 416,538.2 428,541.2 440,543.9 452,547.6 464,552.9 476,555.8 488,559.6 500,564 512,569.6 524,576.4 536,581.7 548,586.7 560,592 572,598.1 584,604.2 596,611.9 608,617.2 620,623.2 629.5,628.1 629.6,628.8 632,630.5 644,640.4 656,648.5 668,655.9 680,664.6 692,674.5 704,685.7 716,694.7 728,703 740,712.6 752,722.1 764,730.2 776,734.8 788,739.1 792,740.4 792.1,735 800,738.1 812,742.3 824,746.5 836,750.7 848,755.3 860,760 872,764.4 884,768.2 896,770.8 908,773.8 920,776.7 932,779.6 944,781.6 956,783.4 968,788.2 980,789 992,788.6 1004,787.4 1016,784.2 1028,781.6 1040,778.7 1052,776.6 1064,774.5 1076,771.3 1088,768.2 1100,765 1112,759.5 1124,755.2 1136,751.7 1148,749 1160,746.7 1172,740.1 1182,737.8 1184,736.2 1186,734.5 1196,731.1 1208,727 1220,722.2 1232,717.6 1244,713.1 1256,709 1268,704.2 1280,699.3 1292,694.2 1304,689.3 1316,685 1323.5,682.4 1324.5,682.4 1324.5,684.8 1323.5,684.8 1316,687.3 1304,691.6 1292,696.6 1280,701.8 1268,706.8 1256,711.7 1244,716 1232,720.4 1220,725.1 1208,730 1196,734.2 1186,737.8 1184,739.6 1182,741.5 1172,743.7 1160,750.1 1148,752.4 1136,755.2 1124,759 1112,763.5 1100,769 1088,772.1 1076,775.2 1064,778.3 1052,780.4 1040,782.6 1028,785.6 1016,788.1 1004,791.2 992,792.4 980,792.7 968,791.9 956,787.3 944,785.5 932,783.5 920,780.5 908,777.5 896,774.6 884,771.9 872,767.9 860,763.4 848,758.6 836,754 824,749.6 812,745.4 800,741.2 792.1,738.1 792,743.2 788,741.8 776,737.6 764,733.1 752,725.1 740,715.7 728,706.5 716,698.5 704,689.7 692,678.3 680,668.5 668,659.7 656,652.4 644,644.4 632,634.3 629.6,632.6 629.5,632 620,627 608,620.9 596,615.7 584,607.7 572,601.6 560,595.4 548,590.2 536,585.3 524,579.9 512,573 500,567.4 488,563 476,559.2 464,556.5 452,550.9 440,547.1 428,544.5 416,541.5 404,537.9 392,534.9 380,532.1 368,529.7 356,528.6 344,525 332,522 320,520 308,520.4 296,519.6 284,516.7 272,515.6 260,516.4 248,516.3 236,513.7 224,513.5 212,513.4 200,513.2 194,513.1 193,513.1Z" fill="url(#b6)"/>
<path d="M193,512.4 194,512.4 200,512.5 212,512.7 224,512.8 236,513 248,515.6 260,515.7 272,514.9 284,516 296,518.9 308,519.7 320,519.3 332,521.3 344,524.3 356,527.9 368,529 380,531.4 392,534.2 404,537.2 416,540.8 428,543.8 440,546.4 452,550.2 464,555.8 476,558.5 488,562.3 500,566.7 512,572.3 524,579.2 536,584.6 548,589.5 560,594.7 572,600.9 584,607 596,615 608,620.2 620,626.3 629.5,631.3 629.6,631.9 632,633.6 644,643.7 656,651.7 668,659 680,667.8 692,677.6 704,689 716,697.8 728,705.8 740,715 752,724.4 764,732.4 776,736.9 788,741.1 792,742.5 792.1,737.4 800,740.5 812,744.7 824,748.9 836,753.3 848,757.9 860,762.7 872,767.2 884,771.2 896,773.9 908,776.8 920,779.8 932,782.8 944,784.8 956,786.6 968,791.2 980,792 992,791.7 1004,790.5 1016,787.4 1028,784.9 1040,781.9 1052,779.7 1064,777.6 1076,774.5 1088,771.4 1100,768.3 1112,762.8 1124,758.3 1136,754.5 1148,751.7 1160,749.4 1172,743 1182,740.8 1184,738.9 1186,737.1 1196,733.5 1208,729.3 1220,724.4 1232,719.7 1244,715.3 1256,711 1268,706.1 1280,701.1 1292,695.9 1304,690.9 1316,686.6 1323.5,684.1 1324.5,684.1 1324.5,686.4 1323.5,686.4 1316,688.9 1304,693.2 1292,698.3 1280,703.6 1268,708.7 1256,713.7 1244,718.1 1232,722.6 1220,727.3 1208,732.3 1196,736.7 1186,740.3 1184,742.4 1182,744.4 1172,746.6 1160,752.8 1148,755.1 1136,758.1 1124,762.1 1112,766.7 1100,772.3 1088,775.4 1076,778.4 1064,781.5 1052,783.6 1040,785.8 1028,788.9 1016,791.4 1004,794.4 992,795.5 980,795.7 968,794.9 956,790.5 944,788.7 932,786.6 920,783.6 908,780.6 896,777.6 884,774.9 872,770.8 860,766.1 848,761.3 836,756.5 824,752.1 812,747.8 800,743.5 792.1,740.5 792,745.2 788,743.9 776,739.7 764,735.2 752,727.4 740,718.2 728,709.3 716,701.6 704,693 692,681.5 680,671.7 668,662.9 656,655.7 644,647.7 632,637.4 629.6,635.7 629.5,635.1 620,630 608,623.8 596,618.7 584,610.5 572,604.3 560,598.1 548,592.9 536,588.1 524,582.8 512,575.6 500,570.1 488,565.7 476,561.9 464,559.3 452,553.5 440,549.7 428,547.1 416,544.1 404,540.4 392,537.3 380,534.5 368,532.1 356,531.2 344,527.4 332,524.4 320,522.4 308,523 296,522.3 284,519.2 272,518.2 260,519.1 248,519.2 236,516.3 224,516.1 212,516 200,515.8 194,515.7 193,515.7Z" fill="url(#b7)"/>
<path d="M193,515 194,515 200,515.1 212,515.3 224,515.4 236,515.6 248,518.5 260,518.4 272,517.5 284,518.5 296,521.6 308,522.3 320,521.7 332,523.7 344,526.7 356,530.5 368,531.4 380,533.8 392,536.6 404,539.7 416,543.4 428,546.4 440,549 452,552.8 464,558.6 476,561.2 488,565 500,569.4 512,574.9 524,582.1 536,587.4 548,592.2 560,597.4 572,603.6 584,609.8 596,618 608,623.1 620,629.3 629.5,634.4 629.6,635 632,636.7 644,647 656,655 668,662.2 680,671 692,680.8 704,692.3 716,700.9 728,708.6 740,717.5 752,726.7 764,734.5 776,739 788,743.2 792,744.5 792.1,739.8 800,742.8 812,747.1 824,751.4 836,755.8 848,760.6 860,765.4 872,770.1 884,774.2 896,776.9 908,779.9 920,782.9 932,785.9 944,788 956,789.8 968,794.2 980,795 992,794.8 1004,793.7 1016,790.7 1028,788.2 1040,785.1 1052,782.9 1064,780.8 1076,777.7 1088,774.7 1100,771.6 1112,766 1124,761.4 1136,757.4 1148,754.4 1160,752.1 1172,745.9 1182,743.7 1184,741.7 1186,739.6 1196,736 1208,731.6 1220,726.6 1232,721.9 1244,717.4 1256,713 1268,708 1280,702.9 1292,697.6 1304,692.5 1316,688.2 1323.5,685.7 1324.5,685.7 1324.5,688 1323.5,688 1316,690.6 1304,694.8 1292,700 1280,705.4 1268,710.6 1256,715.7 1244,720.2 1232,724.8 1220,729.5 1208,734.6 1196,739.1 1186,742.9 1184,745.2 1182,747.4 1172,749.5 1160,755.4 1148,757.8 1136,760.9 1124,765.2 1112,770 1100,775.6 1088,778.6 1076,781.6 1064,784.6 1052,786.8 1040,788.9 1028,792.1 1016,794.6 1004,797.5 992,798.6 980,798.7 968,797.9 956,793.7 944,791.9 932,789.8 920,786.8 908,783.7 896,780.6 884,777.8 872,773.7 860,768.8 848,763.9 836,759.1 824,754.5 812,750.1 800,745.9 792.1,742.9 792,747.2 788,745.9 776,741.8 764,737.4 752,729.7 740,720.6 728,712.1 716,704.6 704,696.3 692,684.7 680,674.9 668,666.1 656,659 644,651 632,640.5 629.6,638.9 629.5,638.3 620,633.1 608,626.8 596,621.8 584,613.3 572,607.1 560,600.8 548,595.7 536,590.9 524,585.7 512,578.3 500,572.8 488,568.4 476,564.6 464,562.2 452,556.1 440,552.2 428,549.7 416,546.7 404,542.8 392,539.8 380,536.8 368,534.5 356,533.7 344,529.9 332,526.7 320,524.7 308,525.6 296,525.1 284,521.8 272,520.7 260,521.9 248,522.1 236,518.9 224,518.7 212,518.6 200,518.4 194,518.3 193,518.3Z" fill="url(#b8)"/>
<path d="M193,517.6 194,517.6 200,517.7 212,517.9 224,518 236,518.2 248,521.4 260,521.2 272,520 284,521.1 296,524.4 308,524.9 320,524 332,526 344,529.2 356,533 368,533.8 380,536.1 392,539.1 404,542.1 416,546 428,549 440,551.5 452,555.4 464,561.5 476,563.9 488,567.7 500,572.1 512,577.6 524,585 536,590.2 548,595 560,600.1 572,606.4 584,612.6 596,621 608,626.1 620,632.4 629.5,637.6 629.6,638.2 632,639.8 644,650.3 656,658.3 668,665.4 680,674.2 692,684 704,695.6 716,703.9 728,711.4 740,719.9 752,729 764,736.7 776,741.1 788,745.2 792,746.5 792.1,742.2 800,745.2 812,749.4 824,753.8 836,758.4 848,763.2 860,768.1 872,773 884,777.1 896,779.9 908,783 920,786.1 932,789 944,791.2 956,793 968,797.2 980,798 992,797.9 1004,796.8 1016,793.9 1028,791.4 1040,788.2 1052,786.1 1064,783.9 1076,780.9 1088,777.9 1100,774.9 1112,769.3 1124,764.5 1136,760.2 1148,757.1 1160,754.7 1172,748.8 1182,746.7 1184,744.5 1186,742.2 1196,738.4 1208,733.9 1220,728.8 1232,724.1 1244,719.5 1256,715 1268,709.9 1280,704.7 1292,699.3 1304,694.1 1316,689.9 1323.5,687.3 1324.5,687.3 1324.5,689.7 1323.5,689.7 1316,692.2 1304,696.4 1292,701.7 1280,707.2 1268,712.5 1256,717.8 1244,722.3 1232,727 1220,731.8 1208,736.9 1196,741.6 1186,745.5 1184,747.9 1182,750.3 1172,752.4 1160,758.1 1148,760.6 1136,763.8 1124,768.3 1112,773.2 1100,778.9 1088,781.8 1076,784.8 1064,787.8 1052,789.9 1040,792.1 1028,795.4 1016,797.8 1004,800.7 992,801.7 980,801.7 968,800.9 956,796.9 944,795 932,792.9 920,789.9 908,786.8 896,783.7 884,780.8 872,776.5 860,771.6 848,766.6 836,761.6 824,757 812,752.5 800,748.2 792.1,745.3 792,749.3 788,748 776,743.9 764,739.6 752,732 740,723.1 728,714.8 716,707.7 704,699.6 692,687.9 680,678.1 668,669.2 656,662.3 644,654.4 632,643.6 629.6,642 629.5,641.4 620,636.2 608,629.8 596,624.8 584,616 572,609.8 560,603.6 548,598.4 536,593.7 524,588.5 512,581 500,575.6 488,571.1 476,567.4 464,565 452,558.6 440,554.8 428,552.3 416,549.3 404,545.3 392,542.2 380,539.2 368,536.8 356,536.3 344,532.3 332,529.1 320,527.1 308,528.2 296,527.8 284,524.3 272,523.3 260,524.7 248,524.9 236,521.4 224,521.3 212,521.1 200,521 194,520.9 193,520.9Z" fill="url(#b9)"/>
<path d="M193,520.2 194,520.2 200,520.3 212,520.4 224,520.6 236,520.7 248,524.2 260,524 272,522.6 284,523.6 296,527.1 308,527.5 320,526.4 332,528.4 344,531.6 356,535.6 368,536.1 380,538.5 392,541.5 404,544.6 416,548.6 428,551.6 440,554.1 452,557.9 464,564.3 476,566.6 488,570.4 500,574.9 512,580.3 524,587.8 536,593 548,597.7 560,602.9 572,609.1 584,615.3 596,624.1 608,629.1 620,635.5 629.5,640.7 629.6,641.3 632,642.9 644,653.7 656,661.6 668,668.5 680,677.4 692,687.2 704,698.9 716,707 728,714.1 740,722.4 752,731.3 764,738.9 776,743.2 788,747.3 792,748.6 792.1,744.6 800,747.5 812,751.8 824,756.3 836,760.9 848,765.9 860,770.9 872,775.8 884,780.1 896,783 908,786.1 920,789.2 932,792.2 944,794.3 956,796.2 968,800.2 980,801 992,801 1004,800 1016,797.1 1028,794.7 1040,791.4 1052,789.2 1064,787.1 1076,784.1 1088,781.1 1100,778.2 1112,772.5 1124,767.6 1136,763.1 1148,759.9 1160,757.4 1172,751.7 1182,749.6 1184,747.2 1186,744.8 1196,740.9 1208,736.2 1220,731.1 1232,726.3 1244,721.6 1256,717.1 1268,711.8 1280,706.5 1292,701 1304,695.7 1316,691.5 1323.5,689 1324.5,689 1324.5,691.3 1323.5,691.3 1316,693.8 1304,698 1292,703.4 1280,709 1268,714.4 1256,719.8 1244,724.5 1232,729.1 1220,734 1208,739.2 1196,744 1186,748 1184,750.7 1182,753.3 1172,755.3 1160,760.8 1148,763.3 1136,766.6 1124,771.4 1112,776.5 1100,782.2 1088,785.1 1076,788 1064,790.9 1052,793.1 1040,795.3 1028,798.7 1016,801.1 1004,803.9 992,804.8 980,804.7 968,803.9 956,800.2 944,798.2 932,796.1 920,793 908,789.9 896,786.7 884,783.8 872,779.4 860,774.3 848,769.2 836,764.2 824,759.4 812,754.9 800,750.6 792.1,747.7 792,751.4 788,750 776,746 764,741.7 752,734.3 740,725.6 728,717.6 716,710.8 704,702.9 692,691 680,681.3 668,672.4 656,665.6 644,657.7 632,646.7 629.6,645.1 629.5,644.6 620,639.2 608,632.8 596,627.9 584,618.8 572,612.6 560,606.3 548,601.2 536,596.6 524,591.4 512,583.7 500,578.3 488,573.8 476,570.1 464,567.9 452,561.2 440,557.3 428,554.9 416,551.9 404,547.8 392,544.6 380,541.6 368,539.2 356,538.9 344,534.7 332,531.5 320,529.4 308,530.8 296,530.5 284,526.9 272,525.8 260,527.4 248,527.8 236,524 224,523.9 212,523.7 200,523.6 194,523.6 193,523.6Z" fill="url(#b10)"/>
<path d="M193,522.9 194,522.9 200,522.9 212,523 224,523.2 236,523.3 248,527.1 260,526.7 272,525.1 284,526.1 296,529.8 308,530.1 320,528.7 332,530.8 344,534 356,538.2 368,538.5 380,540.9 392,543.9 404,547.1 416,551.1 428,554.2 440,556.6 452,560.5 464,567.2 476,569.4 488,573.1 500,577.6 512,583 524,590.7 536,595.9 548,600.5 560,605.6 572,611.9 584,618.1 596,627.2 608,632.1 620,638.5 629.5,643.9 629.6,644.4 632,646 644,657 656,664.9 668,671.7 680,680.6 692,690.3 704,702.2 716,710.1 728,716.9 740,724.9 752,733.6 764,741 776,745.3 788,749.3 792,750.7 792.1,747 800,749.9 812,754.2 824,758.7 836,763.5 848,768.5 860,773.6 872,778.7 884,783.1 896,786 908,789.1 920,792.3 932,795.4 944,797.5 956,799.5 968,803.2 980,804 992,804.1 1004,803.2 1016,800.4 1028,798 1040,794.6 1052,792.4 1064,790.2 1076,787.3 1088,784.4 1100,781.5 1112,775.8 1124,770.7 1136,765.9 1148,762.6 1160,760.1 1172,754.6 1182,752.6 1184,750 1186,747.3 1196,743.3 1208,738.5 1220,733.3 1232,728.4 1244,723.8 1256,719.1 1268,713.7 1280,708.3 1292,702.7 1304,697.3 1316,693.1 1323.5,690.6 1324.5,690.6 1324.5,692.9 1323.5,692.9 1316,695.5 1304,699.6 1292,705.1 1280,710.7 1268,716.3 1256,721.8 1244,726.6 1232,731.3 1220,736.2 1208,741.6 1196,746.5 1186,750.6 1184,753.4 1182,756.3 1172,758.2 1160,763.5 1148,766 1136,769.4 1124,774.5 1112,779.8 1100,785.4 1088,788.3 1076,791.2 1064,794 1052,796.3 1040,798.5 1028,801.9 1016,804.3 1004,807 992,807.9 980,807.7 968,806.9 956,803.4 944,801.4 932,799.2 920,796.1 908,792.9 896,789.7 884,786.8 872,782.3 860,777 848,771.8 836,766.8 824,761.8 812,757.3 800,752.9 792.1,750.1 792,753.4 788,752.1 776,748.1 764,743.9 752,736.6 740,728 728,720.4 716,713.8 704,706.2 692,694.2 680,684.4 668,675.6 656,668.8 644,661 632,649.9 629.6,648.2 629.5,647.7 620,642.3 608,635.8 596,630.9 584,621.6 572,615.3 560,609 548,604 536,599.4 524,594.3 512,586.3 500,581 488,576.5 476,572.8 464,570.8 452,563.8 440,559.8 428,557.5 416,554.4 404,550.2 392,547 380,544 368,541.6 356,541.5 344,537.1 332,533.9 320,531.8 308,533.5 296,533.2 284,529.4 272,528.3 260,530.2 248,530.7 236,526.6 224,526.5 212,526.3 200,526.2 194,526.2 193,526.2Z" fill="url(#b11)"/>
<path d="M193,525.5 194,525.5 200,525.5 212,525.6 224,525.8 236,525.9 248,530 260,529.5 272,527.6 284,528.7 296,532.5 308,532.8 320,531.1 332,533.2 344,536.4 356,540.8 368,540.9 380,543.3 392,546.3 404,549.5 416,553.7 428,556.8 440,559.1 452,563.1 464,570.1 476,572.1 488,575.8 500,580.3 512,585.6 524,593.6 536,598.7 548,603.3 560,608.3 572,614.6 584,620.9 596,630.2 608,635.1 620,641.6 629.5,647 629.6,647.5 632,649.2 644,660.3 656,668.1 668,674.9 680,683.7 692,693.5 704,705.5 716,713.1 728,719.7 740,727.3 752,735.9 764,743.2 776,747.4 788,751.4 792,752.7 792.1,749.4 800,752.2 812,756.6 824,761.1 836,766.1 848,771.1 860,776.3 872,781.6 884,786 896,789 908,792.2 920,795.4 932,798.5 944,800.7 956,802.7 968,806.2 980,807 992,807.2 1004,806.3 1016,803.6 1028,801.2 1040,797.8 1052,795.6 1064,793.3 1076,790.5 1088,787.6 1100,784.7 1112,779.1 1124,773.8 1136,768.7 1148,765.3 1160,762.8 1172,757.5 1182,755.6 1184,752.7 1186,749.9 1196,745.8 1208,740.9 1220,735.5 1232,730.6 1244,725.9 1256,721.1 1268,715.6 1280,710 1292,704.4 1304,698.9 1316,694.8 1323.5,692.2 1324.5,692.2 1324.5,694.6 1323.5,694.6 1316,697.1 1304,701.2 1292,706.7 1280,712.5 1268,718.2 1256,723.8 1244,728.7 1232,733.5 1220,738.4 1208,743.9 1196,748.9 1186,753.2 1184,756.2 1182,759.2 1172,761.1 1160,766.2 1148,768.8 1136,772.3 1124,777.7 1112,783 1100,788.7 1088,791.5 1076,794.4 1064,797.2 1052,799.4 1040,801.7 1028,805.2 1016,807.5 1004,810.2 992,810.9 980,810.7 968,809.9 956,806.6 944,804.5 932,802.4 920,799.2 908,796 896,792.8 884,789.7 872,785.1 860,779.8 848,774.5 836,769.3 824,764.3 812,759.7 800,755.2 792.1,752.4 792,755.5 788,754.2 776,750.2 764,746 752,738.9 740,730.5 728,723.2 716,716.9 704,709.5 692,697.4 680,687.6 668,678.8 656,672.1 644,664.3 632,653 629.6,651.3 629.5,650.9 620,645.4 608,638.8 596,634 584,624.3 572,618.1 560,611.8 548,606.7 536,602.2 524,597.1 512,589 500,583.8 488,579.2 476,575.5 464,573.6 452,566.3 440,562.4 428,560.1 416,557 404,552.7 392,549.4 380,546.4 368,544 356,544.1 344,539.5 332,536.3 320,534.1 308,536.1 296,536 284,531.9 272,530.9 260,532.9 248,533.5 236,529.2 224,529 212,528.9 200,528.8 194,528.8 193,528.8Z" fill="url(#b12)"/>
<path d="M193,528.1 194,528.1 200,528.1 212,528.2 224,528.3 236,528.5 248,532.8 260,532.2 272,530.2 284,531.2 296,535.3 308,535.4 320,533.4 332,535.6 344,538.8 356,543.4 368,543.3 380,545.7 392,548.7 404,552 416,556.3 428,559.4 440,561.7 452,565.6 464,572.9 476,574.8 488,578.5 500,583.1 512,588.3 524,596.4 536,601.5 548,606 560,611.1 572,617.4 584,623.6 596,633.2 608,638.1 620,644.7 629.5,650.2 629.6,650.6 632,652.3 644,663.6 656,671.4 668,678.1 680,686.9 692,696.7 704,708.8 716,716.2 728,722.5 740,729.8 752,738.2 764,745.3 776,749.5 788,753.5 792,754.8 792.1,751.7 800,754.5 812,759 824,763.6 836,768.6 848,773.8 860,779.1 872,784.4 884,789 896,792.1 908,795.3 920,798.5 932,801.7 944,803.8 956,805.9 968,809.2 980,810 992,810.2 1004,809.5 1016,806.8 1028,804.5 1040,801 1052,798.7 1064,796.5 1076,793.7 1088,790.8 1100,788 1112,782.3 1124,777 1136,771.6 1148,768.1 1160,765.5 1172,760.4 1182,758.5 1184,755.5 1186,752.5 1196,748.2 1208,743.2 1220,737.7 1232,732.8 1244,728 1256,723.1 1268,717.5 1280,711.8 1292,706 1304,700.5 1316,696.4 1323.5,693.9 1324.5,693.9 1324.5,696.2 1323.5,696.2 1316,698.7 1304,702.8 1292,708.4 1280,714.3 1268,720.1 1256,725.9 1244,730.8 1232,735.7 1220,740.6 1208,746.2 1196,751.4 1186,755.7 1184,759 1182,762.2 1172,764 1160,768.8 1148,771.5 1136,775.1 1124,780.8 1112,786.3 1100,792 1088,794.8 1076,797.6 1064,800.3 1052,802.6 1040,804.8 1028,808.5 1016,810.8 1004,813.3 992,814 980,813.7 968,812.9 956,809.8 944,807.7 932,805.5 920,802.4 908,799.1 896,795.8 884,792.7 872,788 860,782.5 848,777.1 836,771.9 824,766.7 812,762 800,757.6 792.1,754.8 792,757.5 788,756.2 776,752.3 764,748.2 752,741.2 740,732.9 728,726 716,720 704,712.8 692,700.5 680,690.8 668,681.9 656,675.4 644,667.7 632,656.1 629.6,654.4 629.5,654 620,648.4 608,641.7 596,637 584,627.1 572,620.8 560,614.5 548,609.5 536,605.1 524,600 512,591.7 500,586.5 488,581.9 476,578.2 464,576.5 452,568.9 440,564.9 428,562.7 416,559.6 404,555.1 392,551.8 380,548.8 368,546.4 356,546.6 344,542 332,538.6 320,536.5 308,538.7 296,538.7 284,534.5 272,533.4 260,535.7 248,536.4 236,531.7 224,531.6 212,531.5 200,531.4 194,531.4 193,531.4Z" fill="url(#b13)"/>
<path d="M193,530.7 194,530.7 200,530.7 212,530.8 224,530.9 236,531 248,535.7 260,535 272,532.7 284,533.8 296,538 308,538 320,535.8 332,537.9 344,541.3 356,545.9 368,545.7 380,548.1 392,551.1 404,554.4 416,558.9 428,562 440,564.2 452,568.2 464,575.8 476,577.5 488,581.2 500,585.8 512,591 524,599.3 536,604.4 548,608.8 560,613.8 572,620.1 584,626.4 596,636.3 608,641 620,647.7 629.5,653.3 629.6,653.7 632,655.4 644,667 656,674.7 668,681.2 680,690.1 692,699.8 704,712.1 716,719.3 728,725.3 740,732.2 752,740.5 764,747.5 776,751.6 788,755.5 792,756.8 792.1,754.1 800,756.9 812,761.3 824,766 836,771.2 848,776.4 860,781.8 872,787.3 884,792 896,795.1 908,798.4 920,801.7 932,804.8 944,807 956,809.1 968,812.2 980,813 992,813.3 1004,812.6 1016,810.1 1028,807.8 1040,804.1 1052,801.9 1064,799.6 1076,796.9 1088,794.1 1100,791.3 1112,785.6 1124,780.1 1136,774.4 1148,770.8 1160,768.1 1172,763.3 1182,761.5 1184,758.3 1186,755 1196,750.7 1208,745.5 1220,739.9 1232,735 1244,730.1 1256,725.2 1268,719.4 1280,713.6 1292,707.7 1304,702.1 1316,698 1323.5,695.5 1324.5,695.5 1324.5,697.8 1323.5,697.8 1316,700.3 1304,704.4 1292,710.1 1280,716.1 1268,722 1256,727.9 1244,732.9 1232,737.8 1220,742.8 1208,748.5 1196,753.8 1186,758.3 1184,761.7 1182,765.1 1172,766.9 1160,771.5 1148,774.2 1136,778 1124,783.9 1112,789.5 1100,795.3 1088,798 1076,800.8 1064,803.5 1052,805.8 1040,808 1028,811.7 1016,814 1004,816.5 992,817.1 980,816.7 968,815.9 956,813 944,810.9 932,808.7 920,805.5 908,802.2 896,798.8 884,795.7 872,790.9 860,785.2 848,779.8 836,774.4 824,769.2 812,764.4 800,759.9 792.1,757.2 792,759.6 788,758.3 776,754.4 764,750.4 752,743.5 740,735.4 728,728.8 716,723 704,716.1 692,703.7 680,694 668,685.1 656,678.7 644,671 632,659.2 629.6,657.6 629.5,657.2 620,651.5 608,644.7 596,640.1 584,629.9 572,623.6 560,617.2 548,612.2 536,607.9 524,602.9 512,594.4 500,589.2 488,584.6 476,581 464,579.3 452,571.5 440,567.5 428,565.3 416,562.2 404,557.6 392,554.2 380,551.2 368,548.8 356,549.2 344,544.4 332,541 320,538.8 308,541.3 296,541.4 284,537 272,536 260,538.5 248,539.3 236,534.3 224,534.2 212,534.1 200,534 194,534 193,534Z" fill="url(#b14)"/>
<path d="M193,533.3 194,533.3 200,533.3 212,533.4 224,533.5 236,533.6 248,538.6 260,537.8 272,535.3 284,536.3 296,540.7 308,540.6 320,538.1 332,540.3 344,543.7 356,548.5 368,548.1 380,550.5 392,553.5 404,556.9 416,561.5 428,564.6 440,566.8 452,570.8 464,578.6 476,580.3 488,583.9 500,588.5 512,593.7 524,602.2 536,607.2 548,611.5 560,616.5 572,622.9 584,629.2 596,639.4 608,644 620,650.8 629.5,656.5 629.6,656.9 632,658.5 644,670.3 656,678 668,684.4 680,693.3 692,703 704,715.4 716,722.3 728,728.1 740,734.7 752,742.8 764,749.7 776,753.7 788,757.6 792,758.9 792.1,756.5 800,759.2 812,763.7 824,768.5 836,773.7 848,779.1 860,784.5 872,790.2 884,795 896,798.1 908,801.5 920,804.8 932,808 944,810.2 956,812.3 968,815.2 980,816 992,816.4 1004,815.8 1016,813.3 1028,811 1040,807.3 1052,805.1 1064,802.8 1076,800.1 1088,797.3 1100,794.6 1112,788.8 1124,783.2 1136,777.3 1148,773.5 1160,770.8 1172,766.2 1182,764.4 1184,761 1186,757.6 1196,753.1 1208,747.8 1220,742.1 1232,737.1 1244,732.2 1256,727.2 1268,721.3 1280,715.4 1292,709.4 1304,703.7 1316,699.6 1323.5,697.1 1324.5,697.1 1324.5,699.5 1323.5,699.5 1316,702 1304,706 1292,711.8 1280,717.9 1268,723.9 1256,729.9 1244,735.1 1232,740 1220,745 1208,750.8 1196,756.3 1186,760.9 1184,764.5 1182,768.1 1172,769.8 1160,774.2 1148,776.9 1136,780.8 1124,787 1112,792.8 1100,798.6 1088,801.3 1076,803.9 1064,806.6 1052,808.9 1040,811.2 1028,815 1016,817.2 1004,819.7 992,820.2 980,819.8 968,818.9 956,816.2 944,814.1 932,811.8 920,808.6 908,805.2 896,801.9 884,798.7 872,793.7 860,787.9 848,782.4 836,777 824,771.6 812,766.8 800,762.3 792.1,759.6 792,761.6 788,760.3 776,756.5 764,752.5 752,745.8 740,737.9 728,731.6 716,726.1 704,719.4 692,706.9 680,697.2 668,688.3 656,682 644,674.3 632,662.3 629.6,660.7 629.5,660.4 620,654.6 608,647.7 596,643.1 584,632.7 572,626.3 560,619.9 548,615 536,610.7 524,605.7 512,597 500,591.9 488,587.3 476,583.7 464,582.2 452,574.1 440,570 428,567.9 416,564.8 404,560 392,556.7 380,553.6 368,551.2 356,551.8 344,546.8 332,543.4 320,541.2 308,543.9 296,544.1 284,539.6 272,538.5 260,541.2 248,542.1 236,536.9 224,536.8 212,536.7 200,536.7 194,536.6 193,536.6Z" fill="url(#b15)"/>
<path d="M193,535.9 194,535.9 200,536 212,536 224,536.1 236,536.2 248,541.4 260,540.5 272,537.8 284,538.9 296,543.4 308,543.2 320,540.5 332,542.7 344,546.1 356,551.1 368,550.5 380,552.9 392,556 404,559.3 416,564.1 428,567.2 440,569.3 452,573.4 464,581.5 476,583 488,586.6 500,591.2 512,596.3 524,605 536,610 548,614.3 560,619.2 572,625.6 584,632 596,642.4 608,647 620,653.9 629.5,659.7 629.6,660 632,661.6 644,673.6 656,681.3 668,687.6 680,696.5 692,706.2 704,718.7 716,725.4 728,730.9 740,737.2 752,745.1 764,751.8 776,755.8 788,759.6 792,760.9 792.1,758.9 800,761.6 812,766.1 824,770.9 836,776.3 848,781.7 860,787.2 872,793 884,798 896,801.2 908,804.5 920,807.9 932,811.1 944,813.4 956,815.5 968,818.2 980,819.1 992,819.5 1004,819 1016,816.5 1028,814.3 1040,810.5 1052,808.2 1064,805.9 1076,803.2 1088,800.6 1100,797.9 1112,792.1 1124,786.3 1136,780.1 1148,776.2 1160,773.5 1172,769.1 1182,767.4 1184,763.8 1186,760.2 1196,755.6 1208,750.1 1220,744.3 1232,739.3 1244,734.4 1256,729.2 1268,723.2 1280,717.2 1292,711.1 1304,705.3 1316,701.3 1323.5,698.8 1324.5,698.8 1324.5,701.1 1323.5,701.1 1316,703.6 1304,707.6 1292,713.5 1280,719.7 1268,725.8 1256,731.9 1244,737.2 1232,742.2 1220,747.2 1208,753.1 1196,758.7 1186,763.5 1184,767.2 1182,771 1172,772.8 1160,776.9 1148,779.7 1136,783.7 1124,790.1 1112,796 1100,801.9 1088,804.5 1076,807.1 1064,809.8 1052,812.1 1040,814.4 1028,818.3 1016,820.5 1004,822.8 992,823.3 980,822.8 968,821.9 956,819.4 944,817.2 932,815 920,811.7 908,808.3 896,804.9 884,801.6 872,796.6 860,790.7 848,785.1 836,779.5 824,774.1 812,769.2 800,764.6 792.1,762 792,763.7 788,762.4 776,758.6 764,754.7 752,748.1 740,740.3 728,734.4 716,729.2 704,722.7 692,710 680,700.4 668,691.4 656,685.2 644,677.7 632,665.4 629.6,663.8 629.5,663.5 620,657.6 608,650.7 596,646.2 584,635.4 572,629.1 560,622.7 548,617.7 536,613.6 524,608.6 512,599.7 500,594.7 488,590 476,586.4 464,585 452,576.6 440,572.6 428,570.5 416,567.4 404,562.5 392,559.1 380,556 368,553.6 356,554.4 344,549.2 332,545.8 320,543.5 308,546.5 296,546.8 284,542.1 272,541.1 260,544 248,545 236,539.4 224,539.4 212,539.3 200,539.3 194,539.2 193,539.2Z" fill="url(#b16)"/>
<path d="M193,538.5 194,538.5 200,538.6 212,538.6 224,538.7 236,538.7 248,544.3 260,543.3 272,540.4 284,541.4 296,546.1 308,545.8 320,542.8 332,545.1 344,548.5 356,553.7 368,552.9 380,555.3 392,558.4 404,561.8 416,566.7 428,569.8 440,571.9 452,575.9 464,584.3 476,585.7 488,589.3 500,594 512,599 524,607.9 536,612.9 548,617 560,622 572,628.4 584,634.7 596,645.5 608,650 620,656.9 629.5,662.8 629.6,663.1 632,664.7 644,677 656,684.5 668,690.7 680,699.7 692,709.3 704,722 716,728.5 728,733.7 740,739.6 752,747.4 764,754 776,757.9 788,761.7 792,763 792.1,761.3 800,763.9 812,768.5 824,773.4 836,778.8 848,784.4 860,790 872,795.9 884,800.9 896,804.2 908,807.6 920,811 932,814.2 944,816.5 956,818.7 968,821.2 980,822.1 992,822.6 1004,822.1 1016,819.8 1028,817.6 1040,813.7 1052,811.4 1064,809.1 1076,806.4 1088,803.8 1100,801.2 1112,795.3 1124,789.4 1136,783 1148,779 1160,776.2 1172,772.1 1182,770.3 1184,766.5 1186,762.8 1196,758 1208,752.4 1220,746.5 1232,741.5 1244,736.5 1256,731.2 1268,725.1 1280,719 1292,712.8 1304,706.9 1316,702.9 1323.5,700.4 1324.5,700.4 1324.5,702.8 1323.5,702.8 1316,705.2 1304,709.2 1292,715.2 1280,721.5 1268,727.7 1256,734 1244,739.3 1232,744.4 1220,749.5 1208,755.4 1196,761.2 1186,766 1184,770 1182,774 1172,775.7 1160,779.6 1148,782.4 1136,786.5 1124,793.2 1112,799.3 1100,805.2 1088,807.7 1076,810.3 1064,812.9 1052,815.2 1040,817.6 1028,821.6 1016,823.7 1004,826 992,826.4 980,825.8 968,824.9 956,822.6 944,820.4 932,818.1 920,814.8 908,811.4 896,808 884,804.6 872,799.4 860,793.4 848,787.7 836,782.1 824,776.5 812,771.6 800,766.9 792.1,764.4 792,765.7 788,764.5 776,760.7 764,756.9 752,750.4 740,742.8 728,737.1 716,732.3 704,726 692,713.2 680,703.6 668,694.6 656,688.5 644,681 632,668.5 629.6,666.9 629.5,666.7 620,660.7 608,653.7 596,649.2 584,638.2 572,631.8 560,625.4 548,620.5 536,616.4 524,611.5 512,602.4 500,597.4 488,592.7 476,589.2 464,587.9 452,579.2 440,575.1 428,573.1 416,570 404,565 392,561.5 380,558.4 368,556 356,557 344,551.6 332,548.2 320,545.9 308,549.2 296,549.6 284,544.6 272,543.6 260,546.8 248,547.8 236,542 224,542 212,541.9 200,541.9 194,541.8 193,541.8Z" fill="url(#b17)"/>
<path d="M193,541.1 194,541.1 200,541.2 212,541.2 224,541.3 236,541.3 248,547.1 260,546.1 272,542.9 284,543.9 296,548.9 308,548.5 320,545.2 332,547.5 344,550.9 356,556.3 368,555.3 380,557.7 392,560.8 404,564.3 416,569.3 428,572.4 440,574.4 452,578.5 464,587.2 476,588.5 488,592 500,596.7 512,601.7 524,610.8 536,615.7 548,619.8 560,624.7 572,631.1 584,637.5 596,648.5 608,653 620,660 629.5,666 629.6,666.2 632,667.8 644,680.3 656,687.8 668,693.9 680,702.9 692,712.5 704,725.3 716,731.6 728,736.4 740,742.1 752,749.7 764,756.2 776,760 788,763.8 792,765 792.1,763.7 800,766.2 812,770.9 824,775.8 836,781.4 848,787 860,792.7 872,798.7 884,803.9 896,807.3 908,810.7 920,814.1 932,817.4 944,819.7 956,821.9 968,824.2 980,825.1 992,825.7 1004,825.3 1016,823 1028,820.9 1040,816.9 1052,814.5 1064,812.2 1076,809.6 1088,807 1100,804.5 1112,798.6 1124,792.5 1136,785.8 1148,781.7 1160,778.9 1172,775 1182,773.3 1184,769.3 1186,765.3 1196,760.5 1208,754.7 1220,748.8 1232,743.7 1244,738.6 1256,733.3 1268,727 1280,720.8 1292,714.5 1304,708.5 1316,704.5 1323.5,702.1 1324.5,702.1 1324.5,704.4 1323.5,704.4 1316,706.9 1304,710.8 1292,716.8 1280,723.3 1268,729.6 1256,736 1244,741.4 1232,746.5 1220,751.7 1208,757.7 1196,763.7 1186,768.6 1184,772.8 1182,776.9 1172,778.6 1160,782.3 1148,785.1 1136,789.4 1124,796.4 1112,802.5 1100,808.4 1088,811 1076,813.5 1064,816.1 1052,818.4 1040,820.8 1028,824.8 1016,826.9 1004,829.2 992,829.4 980,828.8 968,827.9 956,825.9 944,823.6 932,821.2 920,817.9 908,814.5 896,811 884,807.6 872,802.3 860,796.1 848,790.4 836,784.6 824,779 812,774 800,769.3 792.1,766.8 792,767.8 788,766.5 776,762.8 764,759 752,752.7 740,745.3 728,739.9 716,735.3 704,729.3 692,716.4 680,706.7 668,697.8 656,691.8 644,684.3 632,671.6 629.6,670 629.5,669.8 620,663.8 608,656.7 596,652.2 584,641 572,634.6 560,628.1 548,623.2 536,619.2 524,614.4 512,605.1 500,600.1 488,595.4 476,591.9 464,590.7 452,581.8 440,577.7 428,575.7 416,572.5 404,567.4 392,563.9 380,560.8 368,558.4 356,559.6 344,554 332,550.6 320,548.2 308,551.8 296,552.3 284,547.2 272,546.2 260,549.5 248,550.7 236,544.6 224,544.5 212,544.5 200,544.5 194,544.5 193,544.5Z" fill="url(#b18)"/>
<path d="M193,543.8 194,543.8 200,543.8 212,543.8 224,543.8 236,543.9 248,550 260,548.8 272,545.5 284,546.5 296,551.6 308,551.1 320,547.5 332,549.9 344,553.3 356,558.9 368,557.7 380,560.1 392,563.2 404,566.7 416,571.8 428,575 440,577 452,581.1 464,590 476,591.2 488,594.7 500,599.4 512,604.4 524,613.7 536,618.5 548,622.5 560,627.4 572,633.9 584,640.3 596,651.5 608,656 620,663.1 629.5,669.1 629.6,669.3 632,670.9 644,683.6 656,691.1 668,697.1 680,706 692,715.7 704,728.6 716,734.6 728,739.2 740,744.6 752,752 764,758.3 776,762.1 788,765.8 792,767.1 792.1,766.1 800,768.6 812,773.3 824,778.3 836,783.9 848,789.7 860,795.4 872,801.6 884,806.9 896,810.3 908,813.8 920,817.2 932,820.5 944,822.9 956,825.2 968,827.2 980,828.1 992,828.7 1004,828.5 1016,826.2 1028,824.1 1040,820.1 1052,817.7 1064,815.4 1076,812.8 1088,810.3 1100,807.7 1112,801.8 1124,795.7 1136,788.7 1148,784.4 1160,781.6 1172,777.9 1182,776.2 1184,772.1 1186,767.9 1196,763 1208,757 1220,751 1232,745.8 1244,740.7 1256,735.3 1268,728.9 1280,722.6 1292,716.1 1304,710.1 1316,706.2 1323.5,703.7 1324.5,703.7 1324.5,706 1323.5,706 1316,708.5 1304,712.4 1292,718.5 1280,725 1268,731.5 1256,738 1244,743.6 1232,748.7 1220,753.9 1208,760 1196,766.1 1186,771.2 1184,775.5 1182,779.9 1172,781.5 1160,784.9 1148,787.8 1136,792.2 1124,799.5 1112,805.8 1100,811.7 1088,814.2 1076,816.7 1064,819.2 1052,821.6 1040,823.9 1028,828.1 1016,830.2 1004,832.3 992,832.5 980,831.8 968,830.9 956,829.1 944,826.8 932,824.4 920,821.1 908,817.5 896,814 884,810.6 872,805.2 860,798.8 848,793 836,787.2 824,781.4 812,776.3 800,771.6 792.1,769.2 792,769.8 788,768.6 776,764.9 764,761.2 752,755 740,747.7 728,742.7 716,738.4 704,732.6 692,719.6 680,709.9 668,701 656,695.1 644,687.6 632,674.7 629.6,673.1 629.5,673 620,666.8 608,659.6 596,655.3 584,643.8 572,637.3 560,630.8 548,626 536,622.1 524,617.2 512,607.7 500,602.8 488,598.1 476,594.6 464,593.6 452,584.4 440,580.2 428,578.3 416,575.1 404,569.9 392,566.3 380,563.2 368,560.8 356,562.1 344,556.5 332,552.9 320,550.6 308,554.4 296,555 284,549.7 272,548.7 260,552.3 248,553.6 236,547.2 224,547.1 212,547.1 200,547.1 194,547.1 193,547.1Z" fill="url(#b19)"/>
<path d="M193,546.4 194,546.4 200,546.4 212,546.4 224,546.4 236,546.5 248,552.9 260,551.6 272,548 284,549 296,554.3 308,553.7 320,549.9 332,552.2 344,555.8 356,561.4 368,560.1 380,562.5 392,565.6 404,569.2 416,574.4 428,577.6 440,579.5 452,583.7 464,592.9 476,593.9 488,597.4 500,602.1 512,607 524,616.5 536,621.4 548,625.3 560,630.1 572,636.6 584,643.1 596,654.6 608,658.9 620,666.1 629.5,672.3 629.6,672.4 632,674 644,686.9 656,694.4 668,700.3 680,709.2 692,718.9 704,731.9 716,737.7 728,742 740,747 752,754.3 764,760.5 776,764.2 788,767.9 792,769.1 792.1,768.5 800,770.9 812,775.6 824,780.7 836,786.5 848,792.3 860,798.1 872,804.5 884,809.9 896,813.3 908,816.8 920,820.4 932,823.7 944,826.1 956,828.4 968,830.2 980,831.1 992,831.8 1004,831.6 1016,829.5 1028,827.4 1040,823.2 1052,820.9 1064,818.5 1076,816 1088,813.5 1100,811 1112,805.1 1124,798.8 1136,791.5 1148,787.1 1160,784.2 1172,780.8 1182,779.2 1184,774.8 1186,770.5 1196,765.4 1208,759.3 1220,753.2 1232,748 1244,742.9 1256,737.3 1268,730.8 1280,724.3 1292,717.8 1304,711.7 1316,707.8 1323.5,705.3 1324.5,705.3 1324.5,707.7 1323.5,707.7 1316,710.1 1304,714 1292,720.2 1280,726.8 1268,733.4 1256,740 1244,745.7 1232,750.9 1220,756.1 1208,762.3 1196,768.6 1186,773.7 1184,778.3 1182,782.8 1172,784.4 1160,787.6 1148,790.6 1136,795.1 1124,802.6 1112,809 1100,815 1088,817.5 1076,819.9 1064,822.4 1052,824.7 1040,827.1 1028,831.4 1016,833.4 1004,835.5 992,835.6 980,834.8 968,833.9 956,832.3 944,829.9 932,827.6 920,824.2 908,820.6 896,817.1 884,813.5 872,808 860,801.6 848,795.7 836,789.7 824,783.9 812,778.7 800,774 792.1,771.5 792,771.9 788,770.6 776,767 764,763.3 752,757.3 740,750.2 728,745.5 716,741.5 704,735.9 692,722.7 680,713.1 668,704.1 656,698.4 644,691 632,677.9 629.6,676.3 629.5,676.1 620,669.9 608,662.6 596,658.4 584,646.5 572,640.1 560,633.6 548,628.7 536,624.9 524,620.1 512,610.4 500,605.6 488,600.8 476,597.3 464,596.4 452,586.9 440,582.8 428,580.9 416,577.7 404,572.3 392,568.8 380,565.6 368,563.2 356,564.7 344,558.9 332,555.3 320,552.9 308,557 296,557.7 284,552.3 272,551.3 260,555 248,556.4 236,549.7 224,549.7 212,549.7 200,549.7 194,549.7 193,549.7Z" fill="url(#b20)"/>
<path d="M193,549 194,549 200,549 212,549 224,549 236,549 248,555.7 260,554.3 272,550.6 284,551.6 296,557 308,556.3 320,552.2 332,554.6 344,558.2 356,564 368,562.5 380,564.9 392,568 404,571.6 416,577 428,580.2 440,582.1 452,586.2 464,595.7 476,596.6 488,600.1 500,604.9 512,609.7 524,619.4 536,624.2 548,628 560,632.9 572,639.4 584,645.8 596,657.7 608,661.9 620,669.2 629.5,675.4 629.6,675.6 632,677.2 644,690.3 656,697.7 668,703.4 680,712.4 692,722 704,735.2 716,740.8 728,744.8 740,749.5 752,756.6 764,762.6 776,766.3 788,769.9 792,771.2 792.1,770.8 800,773.3 812,778 824,783.2 836,789 848,795 860,800.9 872,807.3 884,812.8 896,816.4 908,819.9 920,823.5 932,826.9 944,829.2 956,831.6 968,833.2 980,834.1 992,834.9 1004,834.8 1016,832.7 1028,830.7 1040,826.4 1052,824 1064,821.7 1076,819.2 1088,816.8 1100,814.3 1112,808.3 1124,801.9 1136,794.4 1148,789.9 1160,786.9 1172,783.7 1182,782.1 1184,777.6 1186,773 1196,767.9 1208,761.6 1220,755.4 1232,750.2 1244,745 1256,739.3 1268,732.7 1280,726.1 1292,719.5 1304,713.3 1316,709.4 1323.5,707 1324.5,707 1324.5,709.3 1323.5,709.3 1316,711.7 1304,715.6 1292,721.9 1280,728.6 1268,735.3 1256,742.1 1244,747.8 1232,753 1220,758.3 1208,764.7 1196,771 1186,776.3 1184,781 1182,785.8 1182,905.6 193,905.6Z" fill="url(#b21)"/>
</g>
<path d="M244,530.6L240,551.6M299,534.6L295,557.6M353,543.6L349,561.6M412,556.6L407,573.6M467,575.6L460,595.6M533,601.6L529,617.6M597,631.6L593,649.6M659,675.6L652,691.6M716,723.6L712,735.6M1112,739.6L1116,753.6M1180,729.6L1183,741.6M1189,765.6L1186,781.6M1222,755.6L1219,781.6M1252,739.6L1250,763.6M1302,715.6L1300,737.6" stroke="#ff140a" stroke-width="1.1" fill="none" opacity="0.9"/>
<g clip-path="url(#cb)"><g fill="#1fd3e1" opacity="0.75"><ellipse cx="254" cy="551.6" rx="15.3" ry="8.5"/><ellipse cx="307" cy="554.1" rx="13.6" ry="8.5"/><ellipse cx="359" cy="561.5" rx="11.9" ry="7.6"/><ellipse cx="418" cy="573.1" rx="11.9" ry="8.5"/><ellipse cx="470" cy="591.1" rx="11.9" ry="9.5"/><ellipse cx="535" cy="619.6" rx="13.6" ry="9.5"/><ellipse cx="596" cy="649.2" rx="11.9" ry="11.4"/><ellipse cx="656" cy="689.2" rx="15.3" ry="11.4"/><ellipse cx="716" cy="733.1" rx="15.3" ry="9.5"/></g><g fill="#19cee3" opacity="0.75"><ellipse cx="651" cy="616.1" rx="12" ry="5.6"/><ellipse cx="685" cy="634.6" rx="10.5" ry="5.6"/><ellipse cx="725" cy="660.7" rx="15" ry="11.2"/><ellipse cx="760" cy="700.3" rx="16.5" ry="14.4"/><ellipse cx="1118" cy="740.8" rx="15" ry="6.4"/><ellipse cx="1186" cy="720.8" rx="15" ry="6.4"/></g><g fill="#3374f8" opacity="0.85"><ellipse cx="250" cy="555.6" rx="9" ry="4.5"/><ellipse cx="303" cy="558.1" rx="8" ry="4.5"/><ellipse cx="355" cy="565.1" rx="7" ry="4"/><ellipse cx="414" cy="577.1" rx="7" ry="4.5"/><ellipse cx="466" cy="595.6" rx="7" ry="5"/><ellipse cx="531" cy="624.1" rx="8" ry="5"/><ellipse cx="592" cy="654.6" rx="7" ry="6"/><ellipse cx="652" cy="694.6" rx="9" ry="6"/><ellipse cx="712" cy="737.6" rx="9" ry="5"/><ellipse cx="651" cy="615.1" rx="8" ry="3.5"/><ellipse cx="685" cy="633.6" rx="7" ry="3.5"/><ellipse cx="725" cy="658.6" rx="10" ry="7"/><ellipse cx="760" cy="697.6" rx="11" ry="9"/><ellipse cx="1118" cy="739.6" rx="10" ry="4"/><ellipse cx="1186" cy="719.6" rx="10" ry="4"/></g></g>
<path d="M281.9,516.0L287.9,504.0L293.9,516.0Z" fill="#000"/>
<text class="st" x="296.5" y="514.8" textLength="48.6" lengthAdjust="spacingAndGlyphs">313</text>
<path d="M547.1,589.6L553.1,577.7L559.1,589.6Z" fill="#000"/>
<text class="st" x="529.7" y="565.8" textLength="50" lengthAdjust="spacingAndGlyphs">312</text>
<path d="M765.9,749.8L771.9,737.9L777.9,749.8Z" fill="#000"/>
<text class="st" x="779.4" y="748.4" textLength="47.2" lengthAdjust="spacingAndGlyphs">311</text>
<path d="M1022.9,824.8L1028.9,813.0L1034.9,824.8Z" fill="#000"/>
<text class="st" x="1037.6" y="818.6" textLength="50" lengthAdjust="spacingAndGlyphs">310</text>
<path d="M1273.4,714.5L1279.4,703.4L1285.4,714.5Z" fill="#000"/>
<text class="st" x="1249.3" y="691.4" textLength="50" lengthAdjust="spacingAndGlyphs">309</text>
<path d="M166.1,861.3v-2.0M166.1,481.6v2.0M200.2,861.3v-2.0M200.2,481.6v2.0M234.3,861.3v-3.5M234.3,481.6v3.5M268.4,861.3v-2.0M268.4,481.6v2.0M302.5,861.3v-2.0M302.5,481.6v2.0M336.6,861.3v-2.0M336.6,481.6v2.0M370.7,861.3v-2.0M370.7,481.6v2.0M404.9,861.3v-3.5M404.9,481.6v3.5M439.0,861.3v-2.0M439.0,481.6v2.0M473.1,861.3v-2.0M473.1,481.6v2.0M507.2,861.3v-2.0M507.2,481.6v2.0M541.3,861.3v-2.0M541.3,481.6v2.0M575.4,861.3v-3.5M575.4,481.6v3.5M609.5,861.3v-2.0M609.5,481.6v2.0M643.6,861.3v-2.0M643.6,481.6v2.0M677.7,861.3v-2.0M677.7,481.6v2.0M711.8,861.3v-2.0M711.8,481.6v2.0M746.0,861.3v-3.5M746.0,481.6v3.5M780.1,861.3v-2.0M780.1,481.6v2.0M814.2,861.3v-2.0M814.2,481.6v2.0M848.3,861.3v-2.0M848.3,481.6v2.0M882.4,861.3v-2.0M882.4,481.6v2.0M916.5,861.3v-3.5M916.5,481.6v3.5M950.6,861.3v-2.0M950.6,481.6v2.0M984.7,861.3v-2.0M984.7,481.6v2.0M1018.8,861.3v-2.0M1018.8,481.6v2.0M1052.9,861.3v-2.0M1052.9,481.6v2.0M1087.0,861.3v-3.5M1087.0,481.6v3.5M1121.2,861.3v-2.0M1121.2,481.6v2.0M1155.3,861.3v-2.0M1155.3,481.6v2.0M1189.4,861.3v-2.0M1189.4,481.6v2.0M1223.5,861.3v-2.0M1223.5,481.6v2.0M1257.6,861.3v-3.5M1257.6,481.6v3.5M1291.7,861.3v-2.0M1291.7,481.6v2.0M1325.8,861.3v-2.0M1325.8,481.6v2.0M149.0,490.0h2.0M1360.3,490.0h-2.0M149.0,498.5h2.0M1360.3,498.5h-2.0M149.0,506.9h2.0M1360.3,506.9h-2.0M149.0,515.4h2.0M1360.3,515.4h-2.0M149.0,523.8h3.5M1360.3,523.8h-3.5M149.0,532.2h2.0M1360.3,532.2h-2.0M149.0,540.7h2.0M1360.3,540.7h-2.0M149.0,549.1h2.0M1360.3,549.1h-2.0M149.0,557.5h2.0M1360.3,557.5h-2.0M149.0,566.0h3.5M1360.3,566.0h-3.5M149.0,574.4h2.0M1360.3,574.4h-2.0M149.0,582.9h2.0M1360.3,582.9h-2.0M149.0,591.3h2.0M1360.3,591.3h-2.0M149.0,599.7h2.0M1360.3,599.7h-2.0M149.0,608.2h3.5M1360.3,608.2h-3.5M149.0,616.6h2.0M1360.3,616.6h-2.0M149.0,625.0h2.0M1360.3,625.0h-2.0M149.0,633.5h2.0M1360.3,633.5h-2.0M149.0,641.9h2.0M1360.3,641.9h-2.0M149.0,650.4h3.5M1360.3,650.4h-3.5M149.0,658.8h2.0M1360.3,658.8h-2.0M149.0,667.2h2.0M1360.3,667.2h-2.0M149.0,675.7h2.0M1360.3,675.7h-2.0M149.0,684.1h2.0M1360.3,684.1h-2.0M149.0,692.5h3.5M1360.3,692.5h-3.5M149.0,701.0h2.0M1360.3,701.0h-2.0M149.0,709.4h2.0M1360.3,709.4h-2.0M149.0,717.9h2.0M1360.3,717.9h-2.0M149.0,726.3h2.0M1360.3,726.3h-2.0M149.0,734.7h3.5M1360.3,734.7h-3.5M149.0,743.2h2.0M1360.3,743.2h-2.0M149.0,751.6h2.0M1360.3,751.6h-2.0M149.0,760.0h2.0M1360.3,760.0h-2.0M149.0,768.5h2.0M1360.3,768.5h-2.0M149.0,776.9h3.5M1360.3,776.9h-3.5M149.0,785.4h2.0M1360.3,785.4h-2.0M149.0,793.8h2.0M1360.3,793.8h-2.0M149.0,802.2h2.0M1360.3,802.2h-2.0M149.0,810.7h2.0M1360.3,810.7h-2.0M149.0,819.1h3.5M1360.3,819.1h-3.5M149.0,827.5h2.0M1360.3,827.5h-2.0M149.0,836.0h2.0M1360.3,836.0h-2.0M149.0,844.4h2.0M1360.3,844.4h-2.0M149.0,852.9h2.0M1360.3,852.9h-2.0" stroke="#555" stroke-width="1" fill="none"/>
<rect x="149.0" y="481.6" width="1211.3" height="379.7" fill="none" stroke="#808080" stroke-width="1.5"/>
<text class="tl" x="146.6" y="492.9" text-anchor="end" textLength="107.6" lengthAdjust="spacingAndGlyphs">4.34125</text>
<text class="tl" x="146.6" y="535.1" text-anchor="end" textLength="107.6" lengthAdjust="spacingAndGlyphs">4.34100</text>
<text class="tl" x="146.6" y="577.3" text-anchor="end" textLength="107.6" lengthAdjust="spacingAndGlyphs">4.34075</text>
<text class="tl" x="146.6" y="619.5" text-anchor="end" textLength="107.6" lengthAdjust="spacingAndGlyphs">4.34050</text>
<text class="tl" x="146.6" y="661.7" text-anchor="end" textLength="107.6" lengthAdjust="spacingAndGlyphs">4.34025</text>
<text class="tl" x="146.6" y="703.8" text-anchor="end" textLength="107.6" lengthAdjust="spacingAndGlyphs">4.34000</text>
<text class="tl" x="146.6" y="746.0" text-anchor="end" textLength="107.6" lengthAdjust="spacingAndGlyphs">4.33975</text>
<text class="tl" x="146.6" y="788.2" text-anchor="end" textLength="107.6" lengthAdjust="spacingAndGlyphs">4.33950</text>
<text class="tl" x="146.6" y="830.4" text-anchor="end" textLength="107.6" lengthAdjust="spacingAndGlyphs">4.33925</text>
<text class="tl" x="146.6" y="872.6" text-anchor="end" textLength="107.6" lengthAdjust="spacingAndGlyphs">4.33900</text>
<text class="tl" x="234.3" y="888.4" text-anchor="middle">428000</text>
<text class="tl" x="404.9" y="888.4" text-anchor="middle">429000</text>
<text class="tl" x="575.4" y="888.4" text-anchor="middle">430000</text>
<text class="tl" x="746.0" y="888.4" text-anchor="middle">431000</text>
<text class="tl" x="916.5" y="888.4" text-anchor="middle">432000</text>
<text class="tl" x="1087.0" y="888.4" text-anchor="middle">433000</text>
<text class="tl" x="1257.6" y="888.4" text-anchor="middle">434000</text>
<text class="ax" x="669.5" y="922.9" textLength="168.5" lengthAdjust="spacingAndGlyphs">Easting (m)</text>
<text class="ax" transform="translate(25.8,765.5) rotate(-90)" textLength="186.5" lengthAdjust="spacingAndGlyphs">Northing (m)</text>
<path d="M152.8,466.8L163.6,477.3M163.6,466.8L152.8,477.3" stroke="#000" stroke-width="1.25" fill="none"/>
<text class="off" x="167" y="478.6" textLength="23.8" lengthAdjust="spacingAndGlyphs">10</text><text class="sup" x="192.3" y="469.5">6</text>
<text class="pl" x="1297.5" y="521.3" textLength="42.5" lengthAdjust="spacingAndGlyphs">(b)</text>
<linearGradient id="cbb" x1="0" y1="0" x2="0" y2="1"><stop offset="0.000" stop-color="#ff0000"/><stop offset="0.050" stop-color="#ff2814"/><stop offset="0.100" stop-color="#ff4f28"/><stop offset="0.150" stop-color="#ff743c"/><stop offset="0.200" stop-color="#ff964f"/><stop offset="0.250" stop-color="#ffb462"/><stop offset="0.300" stop-color="#e5ce74"/><stop offset="0.350" stop-color="#cce385"/><stop offset="0.400" stop-color="#b2f396"/><stop offset="0.450" stop-color="#99fca6"/><stop offset="0.500" stop-color="#80ffb4"/><stop offset="0.550" stop-color="#66fcc2"/><stop offset="0.600" stop-color="#4cf3ce"/><stop offset="0.650" stop-color="#33e3d9"/><stop offset="0.700" stop-color="#19cee3"/><stop offset="0.750" stop-color="#00b4ec"/><stop offset="0.800" stop-color="#1a96f3"/><stop offset="0.850" stop-color="#3374f8"/><stop offset="0.900" stop-color="#4d4ffc"/><stop offset="0.950" stop-color="#6628fe"/><stop offset="1.000" stop-color="#8000ff"/></linearGradient>
<rect x="1436.1" y="498.3" width="19.0" height="346.0" fill="url(#cbb)"/>
<path d="M1436.1,498.3L1445.6,481.6L1455.1,498.3Z" fill="#ff0000"/>
<path d="M1436.1,844.3L1445.6,861.3L1455.1,844.3Z" fill="#8000ff"/>
<path d="M1436.1,498.3L1445.6,481.6L1455.1,498.3L1455.1,844.3L1445.6,861.3L1436.1,844.3Z" fill="none" stroke="#222" stroke-width="0.8"/>
<path d="M1455.1,844.3h-3.0M1455.1,827.0h-1.8M1455.1,809.7h-1.8M1455.1,792.4h-1.8M1455.1,775.1h-1.8M1455.1,757.8h-3.0M1455.1,740.5h-1.8M1455.1,723.2h-1.8M1455.1,705.9h-1.8M1455.1,688.6h-1.8M1455.1,671.3h-3.0M1455.1,654.0h-1.8M1455.1,636.7h-1.8M1455.1,619.4h-1.8M1455.1,602.1h-1.8M1455.1,584.8h-3.0M1455.1,567.5h-1.8M1455.1,550.2h-1.8M1455.1,532.9h-1.8M1455.1,515.6h-1.8M1455.1,498.3h-3.0" stroke="#222" stroke-width="1" fill="none"/>
<text class="tl" x="1459.3" y="855.5" textLength="37.8" lengthAdjust="spacingAndGlyphs">0.0</text>
<text class="tl" x="1459.3" y="769.0" textLength="37.8" lengthAdjust="spacingAndGlyphs">0.5</text>
<text class="tl" x="1459.3" y="682.5" textLength="37.8" lengthAdjust="spacingAndGlyphs">1.0</text>
<text class="tl" x="1459.3" y="596.0" textLength="37.8" lengthAdjust="spacingAndGlyphs">1.5</text>
<text class="tl" x="1459.3" y="509.5" textLength="37.8" lengthAdjust="spacingAndGlyphs">2.0</text>
<text class="cbl" transform="translate(1408,764.1) rotate(-90)" textLength="185" lengthAdjust="spacingAndGlyphs">Velocity (m/s)</text>
<path d="M822.4,147.3L729,213.8M686.8,235.3L592,296.7" stroke="#000" stroke-width="2.4" fill="none"/>
<text class="an" x="760.5" y="132.1" textLength="107.5" lengthAdjust="spacingAndGlyphs">No flow</text>
<text class="an" x="512.8" y="326.1" textLength="121" lengthAdjust="spacingAndGlyphs">Fast flow</text></svg></body></html>
